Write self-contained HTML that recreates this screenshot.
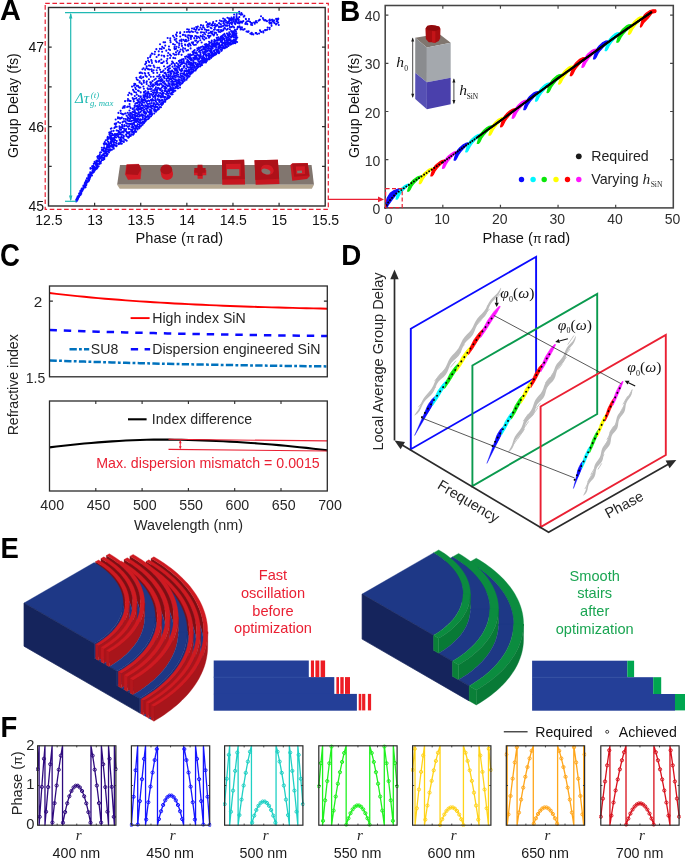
<!DOCTYPE html>
<html lang="en">
<head>
<meta charset="utf-8">
<title>Figure: dispersion-engineered metalens design</title>
<style>
html,body{margin:0;padding:0;background:#fff;}
body{width:685px;height:859px;overflow:hidden;}
svg{display:block;font-family:"Liberation Sans", Arial, sans-serif;}
</style>
</head>
<body>
<svg width="685" height="859" viewBox="0 0 685 859">
<rect width="685" height="859" fill="#fff"/>
<g id="panel-a">
<path d="M77.35,199.98h0M79.12,193.6h0M81.84,188.67h0M85.32,182.18h0M88.46,174.99h0M90.47,168.07h0M93.77,163.85h0M97.37,156.82h0M100.13,152.47h0M104.2,144.8h0M105.75,140.28h0M107.81,136.8h0M109.43,132.55h0M111.49,128.28h0M115.66,119.57h0M118.44,112.91h0M122.8,107.95h0M125.06,101.13h0M128.18,95.12h0M132.03,86.6h0M134.31,83.84h0M136.37,77.71h0M139.71,72.9h0M142.45,69.3h0M145.19,64.33h0M146.04,61.73h0M147.94,58.12h0M150.64,55.42h0M151.83,53.49h0M156.36,49.14h0M160.03,44.28h0M163.53,42.32h0M167.64,37.97h0M170.26,38.22h0M173.04,35.87h0M176.06,34.64h0M176.95,32.58h0M180.19,32.3h0M184.43,32.01h0M187.15,29.19h0M188.91,29.67h0M192,28.54h0M194.19,28.33h0M196.15,27.06h0M197.86,26.6h0M200.98,25.16h0M203.18,25.49h0M206.18,21.96h0M207.85,23.46h0M209.86,23.39h0M213.23,22.12h0M216.35,20.99h0M219.79,20.55h0M223.14,18.45h0M224.86,19.27h0M227.44,17.74h0M230.54,18.7h0M234.16,14.54h0M236.74,13.96h0M239.28,13.72h0M76.85,200.56h0M80.29,191.06h0M85.91,181.2h0M88.39,176.23h0M90.51,168.64h0M94.6,161.91h0M99.81,154.28h0M103.79,143.64h0M107.4,139.67h0M109.23,132.54h0M109.96,132.31h0M114.76,123.92h0M117.97,117.37h0M120.6,110.85h0M123.53,106.62h0M127.57,100.76h0M129.32,92.91h0M134.04,85.67h0M135.28,84.13h0M136.82,79.54h0M139.72,77.38h0M140.78,72.61h0M143.48,68.24h0M146.18,63.07h0M148.13,60.62h0M150.12,57.08h0M152.38,53.74h0M154.99,51.82h0M159.87,48.86h0M162.23,46.9h0M165.11,42.24h0M170.29,40.31h0M174.26,37.45h0M176.75,36.01h0M180.08,33.24h0M183.55,34.79h0M186.95,32.01h0M188.67,31.76h0M191.52,31.37h0M194.17,29.32h0M196.8,28.25h0M200.42,27.49h0M203.1,27.14h0M206.98,24.99h0M209.01,24.55h0M211.24,25.23h0M212.99,23.12h0M215.01,23.97h0M219.03,23.15h0M221.26,21.22h0M224.03,21.03h0M225.93,20.68h0M229.07,18.35h0M231.42,17.6h0M233.94,17.17h0M236.53,16.02h0M239.43,13.56h0M79.21,196.71h0M81.51,190.22h0M86.03,181.04h0M89.52,173.98h0M92.47,168.22h0M95,163.45h0M98.07,156.07h0M101.83,149.93h0M103.98,143.89h0M104.75,142.13h0M107.4,137.97h0M109.44,134.16h0M110.83,128.74h0M114.76,123.86h0M117.95,118.35h0M120.94,113.3h0M124.86,106.01h0M127.95,99.03h0M131.28,93.84h0M133.02,89.7h0M135.26,87.78h0M137.85,80.05h0M140.78,76.22h0M142.28,73.32h0M145.2,69.63h0M146.74,66.2h0M149.12,62.11h0M151.24,60.04h0M154.63,54.32h0M158.74,51.35h0M161.71,49h0M165.23,45.6h0M170.57,42.14h0M174.79,39.73h0M176.34,38.69h0M180.22,36.43h0M182.86,34.92h0M185.46,35.34h0M188.18,35.3h0M189.81,32.3h0M192.99,32.01h0M196.01,29.84h0M198.59,29.68h0M201.64,29.27h0M203.84,27.56h0M207.32,26.96h0M208.66,26.45h0M211.86,24.45h0M214.44,25.24h0M217.11,24.87h0M219.45,23.5h0M221.85,21.15h0M223.92,21.59h0M227.58,22.17h0M230.05,19.87h0M230.21,19.83h0M233.9,18.31h0M236.57,17.05h0M239.33,17.09h0M76.69,199.13h0M80.62,190.96h0M84.86,183.02h0M86.92,178.21h0M90.61,172.69h0M93.44,165.89h0M97.62,157.76h0M101.8,147.73h0M104.85,144.22h0M107.46,138.08h0M109.72,135.06h0M111.47,131.28h0M115.86,124.3h0M119.64,117.8h0M124.65,107.6h0M128.81,100.47h0M131.61,94.48h0M133.52,90.49h0M136.54,85.84h0M139.67,81.21h0M141.39,78.26h0M144.71,73.04h0M146.54,67.96h0M149.03,65.58h0M151.67,60.99h0M156.6,56.93h0M158.87,54.77h0M162.12,51.82h0M163.98,48.13h0M168.95,46.53h0M173.07,44.1h0M174.88,44.72h0M176.3,41.31h0M179.78,40.63h0M181.5,39.55h0M185.53,36.12h0M187.46,37.04h0M189.43,35.57h0M191,35.85h0M195.38,31.44h0M197.09,32.79h0M199.13,29.61h0M202.04,29.23h0M204.86,29.41h0M208.09,30.32h0M210.73,27.76h0M212.61,25.59h0M215.48,26.43h0M217.57,25.5h0M220.91,24.26h0M223.7,23.08h0M226.07,22.48h0M229.2,21.28h0M231.32,20.84h0M233.39,19.88h0M236.73,18.15h0M238.13,18.56h0M76.86,198.35h0M80.43,195.03h0M83.32,186.12h0M86.1,180.23h0M90.21,172.21h0M92.83,167.09h0M98.12,158.62h0M101.1,152.21h0M103.9,147.64h0M108.5,137.94h0M111.03,133.55h0M114.33,128.03h0M116.18,123.18h0M119.69,118.36h0M122.34,114.13h0M127.87,106.63h0M129.65,100.9h0M134.3,91.92h0M136.01,89.18h0M137.92,85.83h0M139.54,82.51h0M143.17,77.13h0M145.18,73.83h0M148.07,69.13h0M150.47,65.87h0M152,62.93h0M155.68,60.91h0M158.58,55.26h0M161.68,55.48h0M166.28,50.67h0M168.82,49.18h0M174.47,46.98h0M177.12,42.48h0M179.11,43.22h0M181.59,41.11h0M183.6,39.83h0M185.93,39.85h0M188.49,38.33h0M190.86,37.4h0M192.12,36.15h0M195.21,35.96h0M197.6,32.69h0M200.9,32.38h0M203.95,32.63h0M206.44,30.03h0M208.64,30.26h0M211.47,28.19h0M214.71,27.69h0M216.63,25.81h0M220.17,26.46h0M223.4,23.19h0M224.75,24.61h0M227.45,23.28h0M229.65,23.47h0M232.64,22.71h0M236.34,20.61h0M238.76,19.77h0M76.66,200.88h0M80.5,192.32h0M83.49,185.53h0M86.91,181.42h0M90.46,173.01h0M93,166.02h0M96.64,162.45h0M99.72,155.62h0M104.26,147.31h0M105.68,143.59h0M108.92,138.13h0M111.49,133.55h0M115.54,126.2h0M120.13,118.72h0M123.34,114.33h0M127.11,107.03h0M130.63,100.93h0M132.67,98h0M136.02,92.49h0M138.64,86.91h0M141.23,83.26h0M143.59,80.85h0M145.55,75.84h0M148.49,73.12h0M149.58,69.5h0M153.67,65.63h0M156.34,61.93h0M159.35,60.92h0M164.02,55.72h0M168.21,53h0M170.04,49.94h0M174.48,48.63h0M176.5,46.73h0M179.2,45.01h0M181.62,43.65h0M184.85,41.22h0M186.56,41.24h0M188.5,40.37h0M190.92,39h0M194.26,38.37h0M196.43,36.4h0M198.4,36.85h0M201.94,32.25h0M204.1,32.8h0M206.26,32.07h0M210.81,31.96h0M213.99,29.78h0M217.11,29.96h0M218.98,27.15h0M221.73,26.39h0M223.36,25.86h0M225.68,25.69h0M228.49,22.33h0M230.95,22.75h0M233.25,21.49h0M236.12,20.48h0M240.86,21.61h0M77.3,198.03h0M81.42,189.42h0M85.59,182.05h0M90.57,174.47h0M92.11,166.21h0M96.37,160.68h0M99.38,156.7h0M102.69,149.8h0M107.93,141.47h0M110.08,136.81h0M112.37,133.95h0M114.87,127.52h0M118.23,122.16h0M121.89,117.61h0M125.17,113.53h0M129.56,103.93h0M133.28,99.33h0M134.8,96.05h0M138.02,90.58h0M139.5,87.64h0M141.78,84.17h0M143.94,80.8h0M146.78,76.73h0M148.31,73.05h0M151.57,69.41h0M154.42,67.29h0M158.75,61.67h0M161.36,59.53h0M164.22,56.59h0M167.68,55.7h0M169.88,54.62h0M174.87,49.24h0M176.05,48.71h0M178.79,47.33h0M182.01,45.89h0M185.03,44.5h0M186.73,41.24h0M189.17,43.45h0M191.8,42.6h0M194.15,38.09h0M196.85,38.19h0M200.69,35.9h0M202.97,35.05h0M205.25,34.21h0M208.56,33.23h0M210.77,31.88h0M212.53,31.49h0M214.87,29.36h0M218.73,29.74h0M220.91,26.91h0M224.53,27.9h0M227.19,25.85h0M229.21,25.3h0M232.43,22.74h0M235.03,22.11h0M237.74,22.8h0M239.19,22.14h0M76.7,200.8h0M79.64,195.17h0M83.97,185.3h0M85.82,181.84h0M89.95,174.5h0M94.11,168.14h0M96.89,160.88h0M99.62,158.06h0M104.74,148.02h0M106.48,143.63h0M108.12,141.69h0M110.71,136.8h0M113.58,130.84h0M116.7,126.7h0M121.3,118.11h0M125.6,113.45h0M129.75,106.34h0M134.62,98.73h0M136.79,94.59h0M138.84,91.04h0M140.42,87.47h0M143.87,82.64h0M146.87,81.19h0M149.29,75.01h0M151.89,71.26h0M153.61,70.3h0M157.39,67.82h0M161.17,63.06h0M163.68,61.63h0M167.39,58.84h0M170.93,55.73h0M173.36,53.77h0M175.97,52.2h0M177.55,50.79h0M180.61,49.47h0M183.03,48.03h0M185.29,45.3h0M187.83,44.92h0M190.05,44.18h0M193.11,42.18h0M196.09,40.65h0M199.68,38h0M202.34,36.68h0M204.35,36.69h0M207.72,35.76h0M210.17,32.68h0M212.02,33.43h0M214.66,32.61h0M218.63,31.8h0M221.03,30.12h0M225.17,28.43h0M226.91,25.34h0M229.74,27.01h0M231.82,24.23h0M234.91,23.18h0M237.35,23.04h0M239.5,23.45h0M78.74,195.86h0M81.87,189.8h0M84.77,183.87h0M88.55,177.62h0M93.13,168.78h0M95.77,162.99h0M99.28,159.38h0M103.02,149.6h0M107.44,145.61h0M108.79,138.66h0M111.54,135.85h0M116.66,130.45h0M120.08,123.03h0M123.71,118.72h0M127.72,112.76h0M130.51,107.9h0M133.85,101.39h0M136.44,98h0M140.71,92.41h0M143.36,86.57h0M146.45,82.29h0M148.93,79.3h0M150.8,76.69h0M153.46,72.89h0M156.65,70.23h0M159.18,67.75h0M162.27,63.01h0M166.7,60.88h0M170.09,57.96h0M174.73,54.79h0M176.27,54.6h0M178.86,52.98h0M179.84,51.58h0M182.77,50.01h0M185.08,48.63h0M188.41,46.15h0M190.61,45.45h0M192.96,43.86h0M195.16,40.81h0M198.25,41.45h0M200.31,40.24h0M202.76,38.45h0M205.73,38.28h0M208.58,35.72h0M210.47,35.68h0M213.75,35.48h0M216.03,32.9h0M219.49,31.66h0M221.73,31.3h0M223.65,29.07h0M227.74,28.83h0M230.13,27.11h0M232.76,26.28h0M235.22,24.13h0M239.15,23.43h0M77.66,196.44h0M81.98,191.25h0M85.38,182.95h0M88.96,178.19h0M92.57,168.64h0M97.21,160.7h0M100.27,156.96h0M103.33,150.68h0M107.14,145.73h0M108.79,143.68h0M110.94,138.2h0M113.18,135.07h0M119.43,126.42h0M123.48,121.46h0M126.59,115.74h0M129.45,110.57h0M135.34,103.8h0M137.23,99.96h0M138.68,95.9h0M140.73,92.33h0M143.9,88.7h0M146.71,84h0M150.19,82.37h0M153.55,76.75h0M157.21,72.86h0M160.09,69.78h0M164.06,66.25h0M167.22,63.15h0M172.14,61.64h0M173.34,57.89h0M175.23,58.26h0M178.63,54.16h0M181.58,54.87h0M183.36,51.67h0M186.43,50.58h0M188,50.13h0M190.6,48.4h0M194.1,44.97h0M195.87,44.81h0M197.25,42.77h0M201.64,42.49h0M204.17,39.72h0M206.36,38.2h0M208.97,37.66h0M209.81,36.62h0M212.51,34.19h0M214.16,34.48h0M217.19,34.87h0M220.13,32.03h0M222.16,30.74h0M223.28,30.34h0M226.7,29.75h0M229.91,29.29h0M231.75,27.12h0M234.11,27.41h0M237.84,26.84h0M239.44,26.19h0M76.12,199.97h0M79.14,195.4h0M82.69,188.73h0M85.01,185.04h0M88.18,179.29h0M90.91,173.77h0M92.55,170.69h0M94.9,167.13h0M96.88,161.52h0M101.8,155.63h0M104.66,151.84h0M104.74,148.39h0M107.11,144.83h0M109.41,143.78h0M110.93,139.52h0M111.97,138.11h0M114.84,133.98h0M116.8,130.47h0M119.54,128.02h0M122.01,124.75h0M122.5,122.36h0M124.34,121.26h0M125.67,119h0M127.85,117.39h0M128.63,114.63h0M130.17,112.92h0M132.64,109.01h0M132.74,108.59h0M134.57,105.88h0M134.9,105.68h0M136.2,103.09h0M137.84,102.21h0M138.85,101.06h0M139.08,99.05h0M140.46,97.15h0M140.84,96.3h0M143.46,95.24h0M143.93,92.71h0M144.08,91.92h0M145.5,90.98h0M147.78,88.46h0M147.52,88.32h0M148.52,85.71h0M150.77,84.19h0M151.11,82.85h0M152.51,81.14h0M154.35,79.7h0M155.73,78.71h0M157.12,76.57h0M158.7,76.23h0M159.58,74.86h0M160.92,72.16h0M162.59,71.77h0M163.56,70.45h0M165.34,68.69h0M167.34,67.19h0M168.49,66.46h0M169.93,65.59h0M171.61,64.02h0M173.14,62.64h0M76.78,199.19h0M80.26,192.89h0M82.17,189.06h0M86.03,184.41h0M88.11,177.96h0M91.18,173.04h0M94.65,167.45h0M96.76,164.52h0M99.32,160.69h0M101.67,156.52h0M103.47,151.46h0M105.77,148.96h0M106.85,148.02h0M108.1,145.2h0M110.02,142.95h0M111.95,140.18h0M114.23,137.65h0M115.94,134.08h0M118.18,130.7h0M121.06,127.23h0M122.4,126.07h0M125.39,121.4h0M127.46,119.35h0M130.07,116.58h0M130.15,115.04h0M131.52,113.19h0M132.64,111.68h0M134.27,110.26h0M134.48,107.72h0M136.41,106.33h0M137.46,105.43h0M137.59,102.99h0M139.68,102.24h0M141.12,100.01h0M141.72,98.56h0M143.55,96.96h0M143.61,95.91h0M145.17,94.74h0M145.76,93.42h0M147.46,92.2h0M148.03,89.57h0M149.89,89.05h0M150.31,86.63h0M152.1,85.85h0M152.98,84.33h0M155.21,82.97h0M156.57,81.92h0M157.66,81.38h0M159.17,78.44h0M160.47,77.33h0M160.86,77.05h0M162.97,75.33h0M164.46,73.1h0M165.46,72.87h0M167.85,70.17h0M168.87,68.83h0M169.94,68.34h0M172.5,66.66h0M174.83,65.29h0M174.67,63.96h0M176.65,63.07h0M178.86,60.96h0M180.09,60.39h0M181.72,59.61h0M183.29,58.96h0M185.09,56.82h0M186.75,56.18h0M188.34,54.64h0M190.14,54.22h0M192.67,51.92h0M193.98,50.9h0M194.69,49.97h0M197.31,48.37h0M198.95,47.66h0M201.02,46.95h0M202.51,46.61h0M204.78,44.51h0M206.1,44.03h0M209.04,41.74h0M209.43,41.93h0M211.87,41.02h0M214.4,39.89h0M216.71,37.87h0M218.32,37.29h0M220.77,36.69h0M221.78,36.29h0M223.1,35.08h0M224.41,33.91h0M226.96,33.61h0M227.05,33.49h0M229.22,32.3h0M231.11,31.12h0M232.95,31.4h0M234.58,30.79h0M237,29.32h0M76.73,201.09h0M78.57,196.91h0M81.28,191.27h0M84.21,186.26h0M86.93,181.4h0M89.77,176.67h0M92.05,172.32h0M93.63,168.6h0M96.53,164.62h0M99.26,159.39h0M103.12,155.51h0M105.37,150.57h0M107.48,147.07h0M108.77,143.08h0M110.68,141.59h0M112.51,140.03h0M114.84,136.32h0M116.19,134.99h0M118.75,132.27h0M120,129.68h0M122.44,127.62h0M124.43,124.93h0M126.15,123.02h0M127.44,120.43h0M129.01,118.59h0M130.71,116.38h0M132.06,114.29h0M132.19,114.45h0M133.89,112.24h0M134.76,110.3h0M136.56,109.34h0M137.53,107.01h0M138.14,106.62h0M139.2,104.45h0M139.95,102.98h0M141.2,101.78h0M142.73,100.15h0M144.12,99.41h0M144.73,96.94h0M145.75,95.99h0M147.42,94.36h0M148.54,93.46h0M148.39,92.17h0M151.09,89.07h0M151.52,88.79h0M152.88,86.76h0M154.06,85.21h0M155.79,84.33h0M157.16,83.47h0M158.75,80.75h0M160.06,80.63h0M160.83,79.9h0M161.73,79.08h0M163.31,76.73h0M164.55,76.32h0M166.19,74.39h0M168.03,72.43h0M169.38,71.37h0M170.12,71.23h0M172.07,70.58h0M174.07,68.43h0M174.91,65.89h0M177.03,66.38h0M178.17,64.2h0M179.68,62.6h0M181.53,62.37h0M181.53,60.93h0M183.69,59.98h0M185.55,58.48h0M187.63,57.54h0M188.69,56.68h0M189.9,55.63h0M191.94,55.04h0M193.29,53.56h0M193.97,52.5h0M196.12,52.19h0M197.36,50.23h0M199.03,48.96h0M200.75,47.83h0M202.73,46.5h0M203.85,47.14h0M205.62,46.01h0M206.56,44.52h0M207.77,44.78h0M209.58,43.53h0M211.36,42.61h0M211.73,40.6h0M214.14,41.44h0M215.63,40.82h0M217.18,39.27h0M219.09,38.4h0M220.04,38.22h0M221.4,36.37h0M223.04,37.22h0M225.14,35.37h0M227.28,33.76h0M228.82,34.62h0M229.77,33.55h0M231.92,32.06h0M232.55,31.54h0M234.97,29.88h0M76.85,199.08h0M79.27,194.79h0M82.59,190.05h0M85.87,183.55h0M88.56,179.64h0M90.62,174.71h0M93.01,170.14h0M95.95,164.99h0M98.44,161.15h0M102.67,155.18h0M104.54,151.53h0M106.6,149.11h0M106.99,146.88h0M110.82,142.25h0M111.94,139.74h0M113.72,138.01h0M114.85,136.01h0M117.54,133.87h0M119.65,131.98h0M121.04,129.64h0M122.54,127.94h0M124.44,126.18h0M126.82,123.56h0M128.89,120.95h0M130.1,119.12h0M130.98,117.43h0M132.15,115.82h0M133.98,114.69h0M135.18,112.88h0M134.92,111.84h0M136.7,109.01h0M138.37,108.58h0M138.79,106.99h0M140.05,106.03h0M141.41,105.08h0M141.87,103.78h0M142.46,102.01h0M143.64,100.35h0M144.65,98.27h0M147.19,96.87h0M147.43,95.69h0M148.51,93.52h0M149.3,93.78h0M151.26,91.28h0M153.17,90.35h0M155.1,89.11h0M155.93,87.19h0M157.57,84.97h0M158.55,84.52h0M160.2,83.47h0M161.06,81.2h0M162.63,80.11h0M164.13,77.84h0M164.65,78.3h0M166.74,76.12h0M167.59,76.68h0M168.54,74.76h0M170.28,72.96h0M171.72,71.67h0M173.33,71.68h0M174.92,69.36h0M175.51,68.23h0M177.36,66.94h0M178.95,65.75h0M180.63,64.51h0M181.59,63.25h0M182.77,62.59h0M183.71,61.15h0M187.23,60h0M189.02,57.88h0M189.96,56.88h0M191.8,55.24h0M193.4,54.36h0M195.31,52.93h0M196.83,52.94h0M199.04,51.63h0M200.64,50.5h0M201.72,49.97h0M203.25,48.72h0M204.82,47.58h0M206.89,46.65h0M208.08,46.01h0M209.17,44.06h0M212.04,43.24h0M213.1,43.49h0M214.67,42.42h0M216.86,40.74h0M218.74,39.76h0M220.19,39.28h0M221.36,38.13h0M223.24,38.28h0M225.02,36.27h0M227.68,35.36h0M228.75,33.94h0M230.24,34.46h0M232.31,32.93h0M234.23,32.92h0M235.97,31.19h0M77.17,199.82h0M78.47,195.86h0M81.13,191.22h0M84.92,186.89h0M86.92,181.85h0M89.58,176.34h0M91.78,173.42h0M95.39,168.43h0M97.05,163.4h0M100.32,158.25h0M103.24,154.3h0M106.64,148.65h0M108.23,145.83h0M109.62,145.25h0M111.88,142.03h0M113.5,138.97h0M116.09,137.53h0M118.28,134.94h0M120.27,133.29h0M122.37,131.76h0M124.03,128.79h0M126.47,125.74h0M127.8,123.72h0M129.59,120.88h0M131.99,118.08h0M133.05,117.08h0M134.76,115.73h0M135.41,113.84h0M135.77,112.96h0M137.81,110.12h0M138.97,109.59h0M140.23,108.6h0M140.97,107.69h0M142.16,104.76h0M144.08,102.75h0M145.41,100.92h0M145.52,100.02h0M147.11,98.09h0M147.78,96.73h0M149.8,95.66h0M151.11,94.03h0M152.97,92.6h0M154.46,92.51h0M154.8,90.52h0M156.39,89.29h0M158.04,87.84h0M159.3,84.87h0M161.55,84.17h0M162.8,82.31h0M164.24,81.57h0M166.51,80.24h0M166.72,78.7h0M168.29,77.98h0M169.08,76.26h0M170.62,75.03h0M171.23,73.86h0M173.67,73.93h0M175.18,70.64h0M176.37,70.17h0M177.02,69h0M178.97,67.85h0M180.43,65.95h0M181.88,63.9h0M184.1,63.28h0M184.61,63.37h0M186.68,61.94h0M188.24,60.66h0M190.11,59.21h0M191.27,58.37h0M193.32,57.78h0M194.65,55.68h0M196.11,55.25h0M197.63,54.75h0M199.2,51.8h0M199.77,50.84h0M201.79,50.25h0M203.67,49.39h0M204.98,48.32h0M206.56,47.42h0M208.03,46.75h0M209.68,45.84h0M211.7,44.79h0M213.77,43.74h0M214.35,42.93h0M216.87,43.14h0M217.72,40.69h0M220.41,40.17h0M222.29,38.63h0M223.43,39.04h0M224.11,38.74h0M226.14,37.16h0M228.53,36.23h0M228.94,35.63h0M232.08,35.24h0M233.07,33.87h0M234.81,33.63h0M236.45,33.3h0M76.4,199.8h0M78.92,196.91h0M80.39,191.62h0M82.49,188.9h0M85.93,183.52h0M88.19,179.42h0M90.49,175.07h0M93.94,169.58h0M97.53,164.26h0M101.03,158.08h0M104.33,153.7h0M106.01,150.94h0M108.62,147.42h0M108.92,145.74h0M111.18,143.33h0M113.39,141.2h0M114.44,139.22h0M117.52,136.28h0M118.87,134.56h0M121.59,132.26h0M124.01,131.05h0M125.55,129.34h0M127.77,126.79h0M129.2,123.77h0M131,121.33h0M133.34,118.07h0M133.7,118.31h0M135.1,116.67h0M135.68,115.73h0M136.79,113.3h0M138.7,112.17h0M140.1,109.28h0M140.94,109.09h0M141.86,107.8h0M143.07,105.67h0M145.15,105.21h0M146.48,102.71h0M146.97,101.39h0M148.4,100.58h0M149.41,97.49h0M149.99,97.17h0M152.33,95.39h0M153.48,94.08h0M155.74,92.83h0M156.83,91.13h0M157.41,89.83h0M159.47,88.64h0M161.77,87.53h0M162.47,85.6h0M164.29,83.66h0M165.38,83.46h0M167.09,81.03h0M169.34,79.66h0M169.91,78.91h0M170.91,76.96h0M172.56,76.28h0M174.38,73.02h0M175.75,73.23h0M177,72.31h0M177.36,70.92h0M179.37,69.35h0M181.93,68.91h0M183.7,66.3h0M184.19,66.15h0M186.25,64.16h0M187.95,62.53h0M189.34,61.94h0M191.07,60.14h0M191.83,59.67h0M193.71,58.34h0M195.2,56.89h0M196.44,56.18h0M198.9,55.64h0M200.49,54.17h0M200.58,52.8h0M202.87,51.98h0M205.09,51.29h0M205.55,49.82h0M207.26,48.79h0M209.03,48.02h0M210.98,46.48h0M212.65,46.7h0M212.77,45.42h0M214.35,44.74h0M215.94,43.7h0M217.5,43.15h0M219.1,43.25h0M220.81,41.23h0M222.21,40.17h0M224.59,38.79h0M226.84,38.37h0M227.51,37.75h0M229.59,36.56h0M231.38,36.57h0M233.39,34.83h0M234.01,33.51h0M235.79,33.27h0M76.95,199.13h0M81.14,193.81h0M82.62,189.37h0M85,184.49h0M87.09,181.73h0M89.51,178.07h0M93.64,171.54h0M94.92,167.36h0M99.39,160.98h0M101.31,157.29h0M105.93,153.09h0M107.51,151.41h0M108.86,147.16h0M111.74,144.19h0M113.81,141.28h0M115.08,140.11h0M118.57,136.84h0M120.19,134.09h0M123.53,132.45h0M124.86,130.43h0M126.21,129.03h0M129.19,125.94h0M130.32,124.17h0M131.9,120.73h0M133.6,120.12h0M135.26,117.94h0M136.72,115.96h0M137.13,115.66h0M138.29,114h0M139.07,113.03h0M140,112.45h0M141.77,110.3h0M142.77,108.29h0M144.36,106.94h0M146.4,105.76h0M146.55,105.56h0M147.97,103.98h0M149.49,101.04h0M150.88,99.69h0M152.43,98.98h0M153.25,97.01h0M154.79,95.72h0M156.01,94.76h0M156.31,92.92h0M157.81,92.68h0M160.1,90h0M160.71,89.09h0M162.59,86.75h0M163.53,85.94h0M165.5,84.38h0M168.41,82.98h0M168.85,80.96h0M171.39,79.1h0M172.86,78.17h0M174.42,76.71h0M174.27,75.62h0M175.23,75.51h0M177.15,74.37h0M178.16,72.29h0M180.06,70.1h0M181.4,70.35h0M183.73,67.69h0M184.37,66.65h0M186.68,65.84h0M188.49,64.16h0M190.2,63.33h0M191.02,62.51h0M193.31,60.37h0M194.64,59.24h0M195.64,58.47h0M196.89,57.75h0M199.23,56.38h0M200.54,54.98h0M203.07,53.06h0M204.3,52.06h0M205.63,50.76h0M206.76,51.4h0M208.85,50.13h0M210.38,48.35h0M211.95,47.13h0M214.4,46.48h0M215.05,45.14h0M216.94,44.81h0M218.66,44.28h0M220.62,41.79h0M222.25,41.99h0M224.73,40.57h0M226.8,39.28h0M228.55,37.87h0M231.17,36.99h0M232.99,36.66h0M234.76,35.09h0M235.85,35.26h0M77.95,197.04h0M79.61,193.5h0M83.36,188.88h0M86.06,183.47h0M89.6,178.92h0M92,172.78h0M93.67,169.16h0M96.98,166.17h0M98.74,161.19h0M102.44,157.68h0M105.3,153.34h0M106.19,151.71h0M108.26,149.87h0M109.7,146.88h0M111.97,144.88h0M113.98,142.71h0M116.67,140.97h0M118.78,137.54h0M121.38,136.29h0M121.89,134.56h0M123.53,132.4h0M125.96,131.09h0M128.84,129.06h0M131.64,123.73h0M132.56,123.57h0M133.92,122.52h0M134.89,119.9h0M136.27,119.55h0M137.42,118.54h0M138.2,116.38h0M139.95,114.98h0M140.85,111.79h0M143.5,111.04h0M144.07,109.55h0M145.94,108.6h0M146.36,106.55h0M148.03,106.1h0M149.34,103.72h0M149.87,103.24h0M151.8,100.84h0M153.44,100.45h0M155.29,98.32h0M155.29,96.91h0M157.51,96.12h0M158.58,94.71h0M160.02,92.93h0M161.67,91.52h0M162.21,90.58h0M164.41,88.34h0M165.18,86.9h0M166.85,85.42h0M168.69,85.15h0M169.62,83.67h0M171.14,81.64h0M172.39,80.91h0M173.9,79.02h0M175.7,77.67h0M176.38,75.74h0M178.31,74.75h0M180.56,73.44h0M181.22,71.36h0M182.41,70.37h0M184.78,70.61h0M186.07,68.56h0M187.77,67.28h0M189.71,64.66h0M191.32,63.91h0M193.09,62.09h0M194.19,62.47h0M195,59.34h0M197.44,58.97h0M199.1,58.37h0M200.27,57.29h0M201.02,56.23h0M203.1,55.93h0M204.54,53.99h0M205.74,52.33h0M207.65,51.07h0M210.04,50.3h0M211.46,49.61h0M212.74,48.32h0M214.93,46.74h0M215.9,46.22h0M218.52,46.44h0M219.3,44.73h0M221.78,42.64h0M222.37,43h0M224.87,42.1h0M226.72,40.23h0M228.43,40.07h0M229.42,38.68h0M231.1,37.55h0M233.7,36.16h0M236.35,35.41h0M77.7,198.11h0M81.24,193.87h0M83.41,187.87h0M85.72,184.46h0M86.96,181.04h0M91.66,175.05h0M95.03,169.92h0M97.03,166.59h0M99.34,163.91h0M102.79,158.01h0M107.28,151.45h0M109.12,149.98h0M109.83,146.78h0M112.46,145.01h0M114.29,142.44h0M116.77,140.93h0M120.27,137.95h0M121.81,137.34h0M123.61,135.6h0M126.85,132.59h0M128.9,128.54h0M131.48,126.98h0M132.28,125.2h0M134.02,124.1h0M134.49,122.13h0M136.15,121.21h0M137.52,119.98h0M138.49,119.16h0M139.62,116.55h0M141.34,115.44h0M141.88,114.37h0M143.63,112.33h0M144.86,111.5h0M146.34,109.34h0M147.96,107.17h0M149.14,106.64h0M150.8,105.42h0M151.77,103.09h0M153.94,103.1h0M153.98,100.47h0M155.5,99.9h0M157.82,99.15h0M158.35,96.67h0M160,95.82h0M161.64,94.14h0M162.89,92.7h0M164.56,90.92h0M165.37,89.78h0M166.36,88.14h0M167.77,86.14h0M169.75,85.91h0M169.77,84.95h0M171.77,84.1h0M172.6,83.14h0M173.96,81.74h0M175.44,79.95h0M176.1,80h0M178.13,76.81h0M179.93,76.96h0M180.68,75.19h0M182.49,73.52h0M184.11,71.96h0M185.77,71h0M186.84,70.32h0M188.87,69.42h0M189.49,67.22h0M190.97,65.74h0M192.47,63.87h0M193.18,63.42h0M195.79,62.87h0M197.3,59.72h0M199.01,59.48h0M199.41,58.09h0M201.32,57.99h0M202.99,57.01h0M203.81,54.85h0M206.1,54.31h0M208.18,53.5h0M210.17,51.6h0M211.56,50.15h0M214.24,51.08h0M215.55,49.48h0M216.58,47.57h0M219.11,46.28h0M220.06,45.4h0M221.82,44.9h0M223.52,43.04h0M225.72,43.34h0M226.62,42.13h0M228.15,40.53h0M229.82,40.57h0M230.58,39.81h0M233.89,37.42h0M235.17,37.54h0M236.26,37.04h0M76.43,201.13h0M79.65,194.42h0M83.66,187.77h0M86.48,183.98h0M88.68,178.13h0M93.01,172.7h0M95.25,169.22h0M97.26,165.64h0M99.68,162.71h0M104.07,157.68h0M106.26,152.65h0M109.42,149.55h0M110.8,146.32h0M113.56,145.17h0M113.95,144.25h0M115.97,142.75h0M119.86,140.38h0M121.61,136.99h0M123.87,136.51h0M126.08,134.5h0M127.97,132.36h0M130.77,129.58h0M132.04,127.16h0M133.12,126.51h0M134.83,125.3h0M136.35,122.07h0M137.25,120.85h0M139.54,120.4h0M140.45,119.26h0M142.35,115.97h0M143.28,115.37h0M144.55,113.42h0M145.82,112.75h0M147.32,111.13h0M147.86,108.44h0M149.79,109.63h0M150.97,107.38h0M151.98,106.1h0M153.51,104.44h0M154.65,103.43h0M155.94,101.39h0M157.62,99.7h0M159.39,99.86h0M160.7,97.46h0M161.5,96.3h0M163.3,93.71h0M163.87,93.32h0M165.86,91.09h0M167.27,91.18h0M168.36,89.57h0M170.07,88.31h0M170.75,87.22h0M172.15,85.15h0M173.78,84.11h0M174.99,81.54h0M176.99,80.89h0M178.38,79.33h0M179.7,77.01h0M181.92,76.24h0M182.25,76.05h0M183.44,74.22h0M184.4,73.38h0M186.77,71.37h0M187.98,71.1h0M188.67,69.97h0M190.59,67.8h0M191.28,67.45h0M192.72,65.65h0M193.52,64.91h0M195.63,63.84h0M198.41,61.7h0M198.54,61.3h0M201.55,60.42h0M202.71,59.06h0M204.03,57.58h0M205.93,55.53h0M206.91,55.33h0M209.36,53.84h0M210.99,52.55h0M212.32,52.12h0M214.18,50.64h0M215.65,49.38h0M217.31,49.73h0M218.5,48.43h0M220.96,46.01h0M222.43,44.78h0M224.18,43.23h0M225.96,44.43h0M227.02,42.03h0M228.27,42.22h0M231.06,41.45h0M232.5,40.7h0M233.96,39.74h0M236.28,37.84h0M237.31,37.44h0M77.61,198.58h0M81.27,192.62h0M83.67,188.21h0M86.18,185.32h0M88.15,179.01h0M91.97,175.54h0M95.9,169.28h0M99.03,163.86h0M101.82,160.02h0M104.5,155.79h0M106.58,153.69h0M109.37,149.63h0M111.48,146.54h0M114.94,145.48h0M116.31,143.31h0M119.68,139.91h0M121.37,139.62h0M123.35,137.93h0M126.28,135.73h0M128.05,133.49h0M129.53,132.1h0M132.58,129.31h0M133.56,127.07h0M135.6,126.18h0M137.7,124.14h0M138.39,121.93h0M140.55,120.14h0M140.96,119.84h0M142.84,117.42h0M145.1,116.03h0M145.76,113.99h0M146.11,113.3h0M148.22,112.04h0M150,109.78h0M151.97,108.41h0M152.59,106.03h0M153.84,106.46h0M155.72,105.05h0M156.8,102.85h0M159.18,101.34h0M160.65,100.74h0M161.74,97.23h0M163.15,96.78h0M162.99,95.9h0M165.98,94.01h0M167.01,92.31h0M168.82,90.4h0M170.09,89.82h0M170.95,88.03h0M172.79,87.04h0M173.94,85.06h0M174.85,84.21h0M176.76,82.56h0M177.84,80.5h0M179.49,79.44h0M181.41,78.16h0M182.94,76.64h0M184.33,74.86h0M184.72,74.72h0M186.78,73.56h0M188.42,71.99h0M189.44,70.16h0M190.87,69.6h0M191.81,68.86h0M192.73,67.31h0M194.03,65.76h0M196.69,65.14h0M197.81,63.74h0M199.88,62.14h0M200.55,61.39h0M202.44,60.04h0M204.47,58.4h0M206.33,56.53h0M208.41,55.48h0M209.39,55.21h0M211.15,52.1h0M212.02,53.24h0M213.96,50.87h0M216.44,50.12h0M217.59,49.59h0M219.58,47.96h0M220.56,47.22h0M222.83,45.9h0M224.73,44.82h0M225.64,44.53h0M227.66,42.61h0M228.89,42.55h0M231.1,41.17h0M233.12,40.3h0M235.27,39.75h0M236.4,38.88h0M76.17,201.44h0M80.25,194.69h0M82.49,190.43h0M85.64,184.81h0M89.38,178.93h0M91.73,175.19h0M94.36,171.02h0M96.66,167.88h0M100.07,162.66h0M103,159.95h0M106.68,154.37h0M108.3,151.42h0M110.35,150.43h0M113.2,146.41h0M115.5,145.58h0M118.59,143.29h0M121.32,141.11h0M123.43,138.55h0M126.6,136.24h0M129.77,133.98h0M131.48,131.39h0M132.31,130.87h0M133.93,128.52h0M135.77,127.96h0M136.06,126.01h0M136.98,125.66h0M140.04,122.88h0M140.51,122.21h0M142.6,119.33h0M144.64,118.47h0M145.24,116.86h0M147.08,116.58h0M147.83,115.46h0M149.6,112.92h0M150.07,111.5h0M151.34,110.18h0M154.04,109.18h0M154.46,107.92h0M155.58,106.29h0M157.29,104.1h0M157.77,103.82h0M159.37,102.31h0M161.67,100.79h0M162.07,99.8h0M164.12,97.25h0M164.93,96.8h0M167.54,95.26h0M168.04,93.43h0M169.19,91.54h0M170.62,90.28h0M172.06,89.33h0M174.01,88.57h0M175.43,86.43h0M176.18,84.12h0M177.75,83.51h0M178.7,82.36h0M179.4,81.5h0M181.31,80.19h0M182.55,79.97h0M184.19,77.36h0M185.62,75.32h0M187.25,74.23h0M188.68,73.17h0M189.61,71.79h0M191.46,69.69h0M193.1,69.81h0M194.03,67.95h0M194.96,66.95h0M196.4,66.28h0M198.32,64.26h0M199.73,63.89h0M202.74,61.92h0M203.98,60.3h0M206,58.87h0M206.8,58.58h0M209.1,56.4h0M210.47,55.33h0M211.89,53.8h0M212.73,53.14h0M215.14,53.4h0M216.81,51.31h0M217.45,50.39h0M219.32,48.46h0M222.28,47.76h0M223.64,46.61h0M225.42,45.51h0M227.2,44.52h0M228.18,42.87h0M230.15,43.13h0M232.97,42.58h0M234.11,40.8h0M235.75,40.41h0M76.8,199.35h0M78.42,196.62h0M80.28,193.91h0M85.56,187.37h0M87.2,182.19h0M90.2,177h0M94.07,171.79h0M96.97,168.57h0M100.74,163.35h0M103.48,158.08h0M105.9,155.71h0M107.59,154.15h0M109.23,150.85h0M110.1,149.44h0M112.81,147.4h0M115.81,145.29h0M118.62,143.65h0M120.35,142.6h0M122.97,141.27h0M124.73,139.73h0M128.12,136.88h0M129.63,135.6h0M132.25,132.23h0M134.02,131.76h0M135.25,130.15h0M135.57,128.51h0M136.93,126.67h0M138.62,126.71h0M139.54,124.54h0M141.61,123.01h0M142.66,121.91h0M144.49,120.13h0M145.15,118.63h0M146.4,117.13h0M148.09,116.79h0M149.55,114.59h0M150.48,113.33h0M151.53,111.81h0M154.14,110.21h0M155.12,109.68h0M155.65,107.45h0M157.46,106.7h0M158.96,104.94h0M160.63,104.16h0M161.33,102.93h0M162.82,100.58h0M164.55,99.16h0M165.47,97.07h0M167.48,97.37h0M168.82,95.24h0M170.11,93.34h0M172.16,90.85h0M172.98,90.29h0M173.1,88.34h0M175.94,87.28h0M176.08,86.26h0M177.4,85.49h0M179.26,84.03h0M180.19,82.26h0M182.34,81.36h0M183.44,78.84h0M184.69,77.99h0M186.36,76.3h0M187.46,75.61h0M188.99,73.62h0M190.44,72.55h0M191.61,71.87h0M193.71,70.03h0M194.93,67.63h0M196.81,66.57h0M197.97,66.15h0M199.4,64.39h0M202.04,62.61h0M203.87,62.43h0M204.67,60.51h0M205.74,59.5h0M208.73,57.11h0M209.42,56.98h0M211.79,55.56h0M213.8,53.9h0M215.07,52.55h0M216.37,53.18h0M218.26,52.12h0M218.76,50.76h0M220.98,49.5h0M222.47,48.47h0M223.67,47.86h0M225.75,46.14h0M227.25,44.59h0M229.45,43.3h0M229.95,43.18h0M232.34,42.92h0M233.55,41.61h0M235.39,41.79h0M236.44,41.74h0M78.09,198.68h0M80.12,193.5h0M82.74,189.52h0M85.06,185.83h0M89.05,180.56h0M90.58,175.89h0M94.14,171.04h0M98.63,166.28h0M100.96,161.59h0M104.34,157.81h0M106.07,156.1h0M107.21,153.92h0M109.14,150.92h0M111.92,149.69h0M113.72,148.16h0M116.69,145.68h0M118.36,144.03h0M121.87,143.59h0M123.84,141.84h0M125.87,139.99h0M128.94,137.28h0M131.71,134.42h0M132.76,132.3h0M134.16,131.8h0M135.29,130.23h0M137.28,128.59h0M139.03,127.37h0M139.51,126.05h0M141.36,125.56h0M142.6,124.11h0M143.52,122.11h0M144.89,121.5h0M145.6,119.91h0M147.01,119.46h0M148.11,116.74h0M150.13,116.42h0M151.08,113.89h0M151.95,113.39h0M154.5,111.13h0M157,110.1h0M157.8,107.7h0M159.84,107.28h0M161.75,105.12h0M162.47,102.96h0M163.68,101.91h0M165.09,100.49h0M166.46,99.17h0M167.91,97.76h0M168.73,97.41h0M171.36,93.4h0M171.89,92.74h0M173.7,90.57h0M175.33,90.75h0M175.3,88h0M176.81,86.99h0M178.25,86.02h0M180.14,85h0M181.94,83.32h0M183.28,81.61h0M184.67,79.96h0M187.05,78.29h0M188.24,76.25h0M188.74,76.12h0M190.22,74.3h0M192.13,72.59h0M193.18,71.17h0M194.25,70.75h0M195.75,69.79h0M196.96,68.33h0M198.57,66.87h0M200.36,66.36h0M201.49,63.72h0M203.17,62.78h0M205.09,60.96h0M206.2,60.54h0M208.75,58.9h0M209.89,57.51h0M211.64,56.17h0M212.87,56.29h0M213.47,54.9h0M214.76,53.73h0M216.92,52.84h0M217.9,51.55h0M219.64,51.95h0M220.88,49.77h0M222.38,48.61h0M224.74,48.21h0M226.3,47.24h0M228.48,46.05h0M230.31,44.63h0M231.36,44.14h0M233.13,43.57h0M234.38,43.02h0M237.11,41.99h0M77.24,200.26h0M80.39,194.34h0M82.2,190.49h0M85.53,185.44h0M88.39,181.53h0M90.06,177.58h0M93.89,171.91h0M97.57,167.43h0M100.44,162.78h0M104.32,159.09h0M106.93,155.65h0M108.97,152.36h0M110.41,149.36h0M113.74,148.74h0M116.43,146.2h0M118.99,144.1h0M120.86,143.67h0M123.86,141.96h0M126.7,140.75h0M128.28,137.65h0M130.67,136.04h0M133.09,134.64h0M133.9,133.71h0M134.94,132.02h0M136.2,131.76h0M137.56,129.38h0M139.35,128.15h0M140.75,126.38h0M142.57,124.77h0M144.02,123.11h0M145.19,121.62h0M145.83,120.87h0M148.23,118.97h0M149.33,117.84h0M151.04,116.22h0M152.16,114.81h0M154.19,113.53h0M155.87,111.77h0M156.48,110.65h0M157.67,109.75h0M158.84,109.08h0M159.93,106.96h0M160.97,107.2h0M161.87,104.96h0M163.08,103.74h0M165.25,101.72h0M166.05,99.58h0M167.47,98.76h0M168.89,98.02h0M170.06,96.81h0M171.28,94.46h0M172.59,94.21h0M173.47,91.89h0M175.03,90.75h0M177.43,88.19h0M178.09,88.3h0M180,87.58h0M181.29,83.81h0M182.29,83.14h0M183.11,81.98h0M184.61,80.64h0M186.52,79.7h0M187.62,77.71h0M189.17,76.6h0M189.66,75.96h0M191.43,73.42h0M192.85,72.37h0M195.54,70.56h0M196.06,69.35h0M198.05,67.31h0M200.4,65.65h0M201.39,64.93h0M202.13,65.05h0M204.77,62.28h0M205.93,62.45h0M206.79,61.08h0M208.02,59.55h0M209.53,59.27h0M211.18,57.84h0M212,56.76h0M213.76,55.42h0M214.91,54.93h0M216.19,54.13h0M217.4,52.56h0M218.94,53.23h0M221.51,50.85h0M221.97,49.99h0M223.96,48.11h0M225.48,47.44h0M227,47.09h0M228.22,45.17h0M230.06,44.4h0M232.87,43.3h0M234.61,42.99h0M235.31,43.29h0M239.17,11.74h0M241.38,12.99h0M240.83,14.7h0M242.3,14.42h0M243.72,16.76h0M244.16,16.18h0M244.36,15.91h0M245.83,18.74h0M245.95,19.24h0M248.97,19.09h0M247.15,21.34h0M248.66,20.98h0M250.05,21.84h0M251.09,22.94h0M252.01,23.17h0M251.11,24.76h0M252.19,25.06h0M254.05,22.48h0M254.8,23.8h0M255.06,22.55h0M256.05,21.12h0M256.95,22.45h0M258.48,20.81h0M258.92,20.35h0M259.95,19.81h0M259.73,19.83h0M261.03,16.32h0M262.86,17.95h0M263.42,19.34h0M264.19,20.33h0M265.36,20.13h0M266.01,20.6h0M266.98,21.13h0M269.23,22.2h0M269.76,20.5h0M271.09,22.68h0M272.64,20.3h0M272.57,21.49h0M274.14,20.46h0M274.37,22.89h0M276.11,18.9h0M276.6,21.29h0M277.05,20.43h0M278.21,18.49h0M237.64,27.82h0M239.44,26.93h0M240.24,27.4h0M240.62,28.53h0M240.67,29.38h0M241.96,27.39h0M242.57,29.53h0M243.58,29.82h0M244.66,29h0M246.5,31.5h0M247.17,31.62h0M248.08,32.02h0M248.59,31.2h0M250.32,33.54h0M251.53,34.26h0M251.8,32.92h0M253.32,34.39h0M255.66,33.15h0M256.16,33.11h0M256.25,32.96h0M257.23,34.07h0M259.1,33.5h0M259.99,30.22h0M261.23,31.91h0M260.55,31.52h0M263.36,32.46h0M263.29,31.29h0M265.01,30.08h0M265.69,30.16h0M267.16,29.77h0M267.64,27.61h0M269.56,29.29h0M269.69,27.74h0M271.53,25.85h0M228.16,22.84h0M229.16,20.12h0M231.22,20.61h0M231.37,20.13h0M232.47,18.88h0M232.82,19.03h0M235.09,20.07h0M236.34,18.67h0M236.54,21.82h0M237.55,19.26h0M238.7,20.76h0M240.2,22.36h0M242.03,22.79h0M242.76,21.52h0M243.31,21.15h0M245.36,23.88h0M245.85,22.54h0M247.28,24.14h0M277.16,21.22h0M277.63,18.75h0M270.01,20.27h0M278.32,18.77h0M269.65,23.53h0M269.85,22.84h0M269.76,19.45h0M276,24.5h0M273.26,21.08h0M269.2,20.21h0M271.47,23.82h0M276.54,23.78h0M274.58,23.1h0M270.23,20.56h0M272.01,19.74h0M276.81,19.19h0M272.36,19.74h0M278.15,22.61h0M274.03,20.52h0M278.77,25.03h0M273.7,22.03h0M278.13,19.53h0" stroke="#0a0aff" stroke-width="2.1" stroke-linecap="round" fill="none"/>
<polygon points="120.03,164.96 311.57,164.96 313.98,184.71 117.14,184.71" fill="#81766f"/>
<polygon points="117.14,184.71 313.98,184.71 311.89,188.72 119.71,188.72" fill="#b5a790"/>
<polygon points="125.33,174.27 126.77,164.64 138.82,164.31 141.23,169.13 140.26,179.09 128.06,179.57" fill="#d21a24" stroke="#d21a24" stroke-width="0.5" stroke-linejoin="round"/>
<polygon points="126.77,164.64 138.82,164.31 141.07,169.13 137.69,174.91 125.81,174.27" fill="#ae1119"/>
<ellipse cx="167.08" cy="174.59" rx="5.9" ry="5.3" fill="#d21a24"/>
<polygon points="160.5,169.77 172.22,169.45 173.02,174.59 161.14,174.91" fill="#d21a24"/>
<ellipse cx="166.28" cy="169.45" rx="5.9" ry="4.9" fill="#ae1119"/>
<polygon points="197.59,166.56 202.73,166.56 202.73,170.1 206.27,170.1 206.27,175.23 202.73,175.23 202.73,178.77 197.59,178.77 197.59,175.23 194.06,175.23 194.06,170.1 197.59,170.1" fill="#d21a24"/>
<polygon points="197.59,164.8 202.41,164.8 202.41,168.01 205.62,168.01 205.62,172.83 202.41,172.83 202.41,176.04 197.59,176.04 197.59,172.83 194.38,172.83 194.38,168.01 197.59,168.01" fill="#ae1119"/>
<polygon points="221.96,160.14 244.12,159.82 245.08,184.39 222.28,184.71" fill="#c6161f"/>
<polygon points="221.96,160.14 244.12,159.82 244.76,179.09 222.28,179.41" fill="#ae1119"/>
<polygon points="226.13,163.99 240.59,163.83 240.59,176.2 226.13,176.2" fill="#d21a24"/>
<polygon points="226.93,169.13 239.3,169.13 239.3,175.88 226.93,175.88" fill="#81766f"/>
<polygon points="254.56,160.14 277.84,159.82 279.45,183.91 255.68,184.71" fill="#c6161f"/>
<polygon points="254.56,160.14 277.84,159.82 279.13,178.77 255.36,180.05" fill="#ae1119"/>
<ellipse cx="267.4" cy="169.77" rx="6.5" ry="4.9" fill="#d21a24" transform="rotate(18 267.4 169.77)"/>
<ellipse cx="265.96" cy="171.54" rx="4.6" ry="2.7" fill="#81766f" transform="rotate(18 265.96 171.54)"/>
<polygon points="290.37,164.96 292.3,163.35 307.71,163.03 309.8,175.88 307.07,179.09 292.3,180.69" fill="#c6161f"/>
<polygon points="292.3,163.67 307.71,163.19 309,175.56 294.22,176.84" fill="#ae1119"/>
<polygon points="295.83,166.56 304.82,166.24 305.14,173.95 296.15,174.27" fill="#d21a24"/>
<polygon points="297.11,170.74 301.93,170.58 302.09,172.99 297.27,173.15" fill="#81766f"/>
<line x1="65" y1="12.6" x2="239.5" y2="12.6" stroke="#1fb9b3" stroke-width="1.2"/>
<line x1="70.7" y1="14" x2="70.7" y2="200" stroke="#1fb9b3" stroke-width="1.2"/>
<polygon points="70.7,12.8 69,18.5 72.4,18.5" fill="#1fb9b3"/>
<polygon points="70.7,201.2 69,195.5 72.4,195.5" fill="#1fb9b3"/>
<line x1="65" y1="201.3" x2="76.5" y2="201.3" stroke="#1fb9b3" stroke-width="1.2"/>
<text x="75" y="102.6" font-size="15" fill="#1fb9b3" font-family='"Liberation Serif", "DejaVu Serif", serif' font-style="italic">Δτ<tspan font-size="8.8" dy="-4.6" dx="1.6">(t)</tspan><tspan font-size="8.8" dy="8.4" dx="-9.2">g, max</tspan></text>
<rect x="48.5" y="7.5" width="276.7" height="198.5" fill="none" stroke="#2c2c2c" stroke-width="1.4"/>
<path d="M94.62,206v-3.2M94.62,7.5v3.2M140.73,206v-3.2M140.73,7.5v3.2M186.85,206v-3.2M186.85,7.5v3.2M232.97,206v-3.2M232.97,7.5v3.2M279.08,206v-3.2M279.08,7.5v3.2M48.5,166.3h3.2M325.2,166.3h-3.2M48.5,126.6h3.2M325.2,126.6h-3.2M48.5,86.9h3.2M325.2,86.9h-3.2M48.5,47.2h3.2M325.2,47.2h-3.2" fill="none" stroke="#2c2c2c" stroke-width="1.2"/>
<text x="48.8" y="224.8" font-size="14" text-anchor="middle" fill="#111">12.5</text>
<text x="94.92" y="224.8" font-size="14" text-anchor="middle" fill="#111">13</text>
<text x="141.03" y="224.8" font-size="14" text-anchor="middle" fill="#111">13.5</text>
<text x="187.15" y="224.8" font-size="14" text-anchor="middle" fill="#111">14</text>
<text x="233.27" y="224.8" font-size="14" text-anchor="middle" fill="#111">14.5</text>
<text x="279.38" y="224.8" font-size="14" text-anchor="middle" fill="#111">15</text>
<text x="325.5" y="224.8" font-size="14" text-anchor="middle" fill="#111">15.5</text>
<text x="44" y="211.1" font-size="14" text-anchor="end" fill="#111">45</text>
<text x="44" y="131.7" font-size="14" text-anchor="end" fill="#111">46</text>
<text x="44" y="52.3" font-size="14" text-anchor="end" fill="#111">47</text>
<text x="18.3" y="105.6" font-size="14.3" text-anchor="middle" fill="#111" transform="rotate(-90 18.3 105.6)">Group Delay (fs)</text>
<text x="135.6" y="242.8" font-size="14.6" fill="#111">Phase (<tspan font-size="12.4">π</tspan><tspan dx="-1.3"> rad)</tspan></text>
<rect x="45.2" y="3.3" width="283.1" height="206.1" fill="none" stroke="#ea2033" stroke-width="1.2" stroke-dasharray="4.6 2.6"/>
<line x1="328.3" y1="199.4" x2="379.5" y2="199.4" stroke="#ea2033" stroke-width="1.2"/>
<polygon points="384,199.4 378,196.6 378,202.2" fill="#ea2033"/>
<text transform="translate(-0.1 20.4) scale(1.0 1.035)" font-size="28.9" font-weight="bold">A</text>
</g>
<g id="panel-b">
<polygon points="385.5,207.6 385.8,202.9 387.4,197.9 390.2,193.4 394.2,190.5 399.4,188.7 399.8,190.3 396.2,194.4 392.2,199.3 388.6,204.3 386.8,207.6" fill="#0a0aff" stroke="#0a0aff" stroke-width="1.3" stroke-linejoin="round"/>
<polygon points="396.07,199.08 396.77,196.3 398,192.72 399.68,190.02 401.26,188.4 404.34,185.91 406.54,184.71 408.56,184.11 409,184.28 408.56,184.92 406.1,187.21 403.9,189.42 401.7,191.83 399.76,194.58 398.18,197.79 397.12,199.05" fill="#00f6ff" stroke="#00f6ff" stroke-width="1.3" stroke-linejoin="round"/>
<polygon points="407.68,191.21 408.4,188.38 409.66,184.75 411.37,182 412.99,180.36 416.14,177.89 418.39,176.69 420.46,176.1 420.91,176.28 420.46,176.95 417.94,179.3 415.69,181.53 413.44,183.93 411.46,186.7 409.84,189.94 408.76,191.2" fill="#0ae60a" stroke="#0ae60a" stroke-width="1.3" stroke-linejoin="round"/>
<polygon points="419.29,183.56 420.03,180.67 421.32,176.96 423.06,174.11 424.72,172.43 427.94,169.89 430.24,168.67 432.36,168.09 432.82,168.29 432.36,168.98 429.78,171.39 427.48,173.66 425.18,176.12 423.16,178.95 421.5,182.27 420.4,183.56" fill="#ffff00" stroke="#ffff00" stroke-width="1.3" stroke-linejoin="round"/>
<polygon points="430.9,175.91 431.66,172.97 432.97,169.17 434.76,166.23 436.45,164.5 439.74,161.89 442.09,160.66 444.25,160.01 444.72,160.21 444.25,160.95 441.62,163.48 439.27,165.8 436.92,168.31 434.85,171.2 433.16,174.59 432.03,175.91" fill="#ff0000" stroke="#ff0000" stroke-width="1.3" stroke-linejoin="round"/>
<polygon points="442.52,168.27 443.28,165.23 444.63,161.29 446.45,158.17 448.18,156.29 451.54,153.46 453.94,152.08 456.15,151.4 456.63,151.62 456.15,152.38 453.46,155.03 451.06,157.53 448.66,160.21 446.55,163.27 444.82,166.82 443.67,168.22" fill="#ff14ff" stroke="#ff14ff" stroke-width="1.3" stroke-linejoin="round"/>
<polygon points="454.13,160.05 454.91,156.94 456.28,152.91 458.15,149.7 459.91,147.77 463.34,144.87 465.79,143.47 468.04,142.8 468.53,143.03 468.04,143.82 465.3,146.53 462.85,149.07 460.4,151.81 458.24,154.93 456.48,158.55 455.3,159.99" fill="#0a0aff" stroke="#0a0aff" stroke-width="1.3" stroke-linejoin="round"/>
<polygon points="465.74,151.82 466.54,148.65 467.94,144.54 469.84,141.23 471.64,139.25 475.14,136.27 477.64,134.86 479.94,134.19 480.44,134.44 479.94,135.25 477.14,138.02 474.64,140.62 472.14,143.42 469.94,146.6 468.14,150.29 466.94,151.76" fill="#00f6ff" stroke="#00f6ff" stroke-width="1.3" stroke-linejoin="round"/>
<polygon points="477.36,143.46 478.16,140.29 479.56,136.18 481.46,132.81 483.26,130.81 486.76,127.81 489.26,126.41 491.56,125.78 492.06,126.05 491.56,126.89 488.76,129.66 486.26,132.26 483.76,135.06 481.56,138.24 479.76,141.94 478.56,143.4" fill="#0ae60a" stroke="#0ae60a" stroke-width="1.3" stroke-linejoin="round"/>
<polygon points="488.98,135.1 489.78,131.93 491.18,127.82 493.08,124.39 494.88,122.36 498.38,119.35 500.88,117.96 503.18,117.33 503.68,117.62 503.18,118.48 500.38,121.3 497.88,123.9 495.38,126.7 493.18,129.88 491.38,133.58 490.18,135.04" fill="#ffff00" stroke="#ffff00" stroke-width="1.3" stroke-linejoin="round"/>
<polygon points="500.6,126.74 501.4,123.55 502.8,119.42 504.7,115.91 506.5,113.82 510,110.73 512.5,109.32 514.8,108.73 515.3,109.04 514.8,109.92 512,112.75 509.5,115.39 507,118.23 504.8,121.45 503,125.17 501.8,126.66" fill="#ff0000" stroke="#ff0000" stroke-width="1.3" stroke-linejoin="round"/>
<polygon points="512.22,118.19 513.02,115 514.42,110.87 516.32,107.3 518.12,105.18 521.62,102.07 524.12,100.67 526.42,100.13 526.92,100.46 526.42,101.36 523.62,104.19 521.12,106.83 518.62,109.68 516.42,112.89 514.62,116.62 513.42,118.1" fill="#ff14ff" stroke="#ff14ff" stroke-width="1.3" stroke-linejoin="round"/>
<polygon points="523.84,109.63 524.64,106.44 526.04,102.31 527.94,98.69 529.74,96.54 533.24,93.42 535.74,92.03 538.04,91.52 538.54,91.88 538.04,92.8 535.24,95.64 532.74,98.28 530.24,101.12 528.04,104.34 526.24,108.07 525.04,109.55" fill="#0a0aff" stroke="#0a0aff" stroke-width="1.3" stroke-linejoin="round"/>
<polygon points="535.46,101.08 536.26,97.89 537.66,93.76 539.56,90.07 541.36,87.9 544.86,84.76 547.36,83.39 549.66,82.92 550.16,83.31 549.66,84.24 546.86,87.09 544.36,89.73 541.86,92.57 539.66,95.79 537.86,99.51 536.66,101" fill="#00f6ff" stroke="#00f6ff" stroke-width="1.3" stroke-linejoin="round"/>
<polygon points="547.08,92.52 547.88,89.34 549.28,85.21 551.18,81.46 552.98,79.27 556.48,76.11 558.98,74.77 561.28,74.37 561.78,74.79 561.28,75.73 558.48,78.54 555.98,81.17 553.48,84.01 551.28,87.23 549.48,90.96 548.28,92.44" fill="#0ae60a" stroke="#0ae60a" stroke-width="1.3" stroke-linejoin="round"/>
<polygon points="558.7,83.98 559.5,80.81 560.9,76.7 562.8,72.93 564.6,70.74 568.1,67.62 570.6,66.32 572.9,65.97 573.4,66.41 572.9,67.37 570.1,70.18 567.6,72.78 565.1,75.58 562.9,78.76 561.1,82.46 559.9,83.92" fill="#ffff00" stroke="#ffff00" stroke-width="1.3" stroke-linejoin="round"/>
<polygon points="570.32,75.62 571.12,72.45 572.52,68.34 574.42,64.57 576.22,62.38 579.72,59.26 582.22,57.96 584.52,57.61 585.02,58.05 584.52,59.01 581.72,61.82 579.22,64.42 576.72,67.22 574.52,70.4 572.72,74.1 571.52,75.56" fill="#ff0000" stroke="#ff0000" stroke-width="1.3" stroke-linejoin="round"/>
<polygon points="581.94,67.26 582.74,64.09 584.14,59.98 586.04,56.21 587.84,54.02 591.34,50.9 593.84,49.6 596.14,49.25 596.64,49.69 596.14,50.65 593.34,53.46 590.84,56.06 588.34,58.86 586.14,62.04 584.34,65.74 583.14,67.2" fill="#ff14ff" stroke="#ff14ff" stroke-width="1.3" stroke-linejoin="round"/>
<polygon points="593.56,58.9 594.36,55.73 595.76,51.62 597.66,47.85 599.46,45.66 602.96,42.54 605.46,41.24 607.76,40.89 608.26,41.33 607.76,42.29 604.96,45.1 602.46,47.7 599.96,50.5 597.76,53.68 595.96,57.38 594.76,58.84" fill="#0a0aff" stroke="#0a0aff" stroke-width="1.3" stroke-linejoin="round"/>
<polygon points="605.18,50.54 605.98,47.37 607.38,43.26 609.28,39.49 611.08,37.3 614.58,34.18 617.08,32.93 619.38,32.64 619.88,33.1 619.38,34.04 616.58,36.77 614.08,39.34 611.58,42.14 609.38,45.32 607.58,49.02 606.38,50.48" fill="#00f6ff" stroke="#00f6ff" stroke-width="1.3" stroke-linejoin="round"/>
<polygon points="616.8,42.22 617.6,39.07 619,35.01 620.9,31.3 622.7,29.16 626.2,26.15 628.7,24.93 631,24.65 631.5,25.1 631,26.05 628.2,28.77 625.7,31.3 623.2,34.02 621,37.13 619.2,40.77 618,42.19" fill="#0ae60a" stroke="#0ae60a" stroke-width="1.3" stroke-linejoin="round"/>
<polygon points="628.42,34.22 629.22,31.07 630.62,27.01 632.52,23.3 634.32,21.16 637.82,18.16 640.32,16.94 642.62,16.65 643.12,17.11 642.62,18.05 639.82,20.78 637.32,23.3 634.82,26.02 632.62,29.13 630.82,32.77 629.62,34.2" fill="#ffff00" stroke="#ffff00" stroke-width="1.3" stroke-linejoin="round"/>
<polygon points="640.44,26.55 641.24,23.2 642.44,18.88 644.14,15.21 646.44,13.02 649.44,10.96 652.94,9.81 655.64,10.01 656.04,11.31 655.44,12.41 651.94,13.21 649.94,15.82 648.14,18.05 643.74,22.48 641.64,26.13 640.74,27.05" fill="#ff0000" stroke="#ff0000" stroke-width="1.3" stroke-linejoin="round"/>
<path d="M477.39,137.24 L500.44,120.66 L558.06,78.24 L615.68,36.79 L651.4,12.21" fill="none" stroke="#000" stroke-width="2" stroke-linecap="round"/>
<path d="M385.2,207.9 L386.35,205.81 L387.5,203.72 L388.66,201.63 L389.81,200.33 L390.96,199.04 L392.11,197.74 L393.27,196.44 L394.42,195.14 L395.57,193.96 L396.72,193.16 L397.88,192.37 L399.03,191.57 L400.18,190.77 L401.33,189.97 L402.49,189.17 L403.64,188.37 L404.79,187.57 L405.94,186.79 L407.1,186.02 L408.25,185.25 L409.4,184.47 L410.55,183.7 L411.71,182.93 L412.86,182.16 L414.01,181.39 L415.16,180.62 L416.31,179.85 L417.47,179.08 L418.62,178.31 L419.77,177.53 L420.92,176.76 L422.08,175.99 L423.23,175.22 L424.38,174.45 L425.53,173.68 L426.69,172.91 L427.84,172.14 L428.99,171.36 L430.14,170.59 L431.3,169.82 L432.45,169.05 L433.6,168.28 L434.75,167.51 L435.91,166.74 L437.06,165.97 L438.21,165.19 L439.36,164.42 L440.52,163.65 L441.67,162.88 L442.82,162.11" fill="none" stroke="#000" stroke-width="1.95" stroke-linecap="round" stroke-dasharray="0.1 2.95"/>
<path d="M442.82,162.11 L443.97,161.28 L445.12,160.45 L446.28,159.62 L447.43,158.79 L448.58,157.96 L449.73,157.14 L450.89,156.31 L452.04,155.48 L453.19,154.65 L454.34,153.82 L455.5,152.99 L456.65,152.16 L457.8,151.33 L458.95,150.5 L460.11,149.67 L461.26,148.85 L462.41,148.02 L463.56,147.19 L464.72,146.36 L465.87,145.53 L467.02,144.7 L468.17,143.87 L469.33,143.04 L470.48,142.21 L471.63,141.38 L472.78,140.55 L473.93,139.73 L475.09,138.9 L476.24,138.07 L477.39,137.24 L478.54,136.41 L479.7,135.58 L480.85,134.75 L482,133.92 L483.15,133.09 L484.31,132.26 L485.46,131.44 L486.61,130.61 L487.76,129.78 L488.92,128.95" fill="none" stroke="#000" stroke-width="2.05" stroke-linecap="round" stroke-dasharray="0.1 2.5"/>
<path d="M488.92,128.95 L490.07,128.12 L491.22,127.29 L492.37,126.46 L493.53,125.63 L494.68,124.8 L495.83,123.97 L496.98,123.15 L498.14,122.32 L499.29,121.49 L500.44,120.66 L501.59,119.81 L502.74,118.96 L503.9,118.11 L505.05,117.26 L506.2,116.42 L507.35,115.57 L508.51,114.72 L509.66,113.87 L510.81,113.02 L511.96,112.17 L513.12,111.33 L514.27,110.48 L515.42,109.63 L516.57,108.78 L517.73,107.93 L518.88,107.08 L520.03,106.24 L521.18,105.39 L522.34,104.54 L523.49,103.69 L524.64,102.84 L525.79,101.99 L526.95,101.15 L528.1,100.3 L529.25,99.45 L530.4,98.6 L531.55,97.75 L532.71,96.91 L533.86,96.06 L535.01,95.21 L536.16,94.36 L537.32,93.51 L538.47,92.66 L539.62,91.82 L540.77,90.97 L541.93,90.12 L543.08,89.27 L544.23,88.42 L545.38,87.57 L546.54,86.73" fill="none" stroke="#000" stroke-width="2.2" stroke-linecap="round" stroke-dasharray="0.1 2.0"/>
<path d="M546.54,86.73 L547.69,85.88 L548.84,85.03 L549.99,84.18 L551.15,83.33 L552.3,82.48 L553.45,81.64 L554.6,80.79 L555.76,79.94 L556.91,79.09 L558.06,78.24 L559.21,77.41 L560.36,76.58 L561.52,75.75 L562.67,74.93 L563.82,74.1 L564.97,73.27 L566.13,72.44 L567.28,71.61 L568.43,70.78 L569.58,69.95 L570.74,69.12 L571.89,68.29 L573.04,67.46 L574.19,66.64 L575.35,65.81 L576.5,64.98 L577.65,64.15 L578.8,63.32 L579.96,62.49 L581.11,61.66 L582.26,60.83 L583.41,60 L584.57,59.17 L585.72,58.35 L586.87,57.52 L588.02,56.69 L589.17,55.86 L590.33,55.03 L591.48,54.2 L592.63,53.37 L593.78,52.54 L594.94,51.71 L596.09,50.88 L597.24,50.05 L598.39,49.23 L599.55,48.4 L600.7,47.57 L601.85,46.74 L603,45.91 L604.16,45.08 L605.31,44.25 L606.46,43.42 L607.61,42.59 L608.77,41.76 L609.92,40.94 L611.07,40.11 L612.22,39.28 L613.38,38.45 L614.53,37.62 L615.68,36.79 L616.83,36 L617.98,35.2 L619.14,34.41 L620.29,33.62 L621.44,32.83 L622.59,32.03 L623.75,31.24 L624.9,30.45 L626.05,29.65 L627.2,28.86 L628.36,28.07 L629.51,27.27 L630.66,26.48 L631.81,25.69 L632.97,24.9 L634.12,24.1 L635.27,23.31 L636.42,22.52 L637.58,21.72 L638.73,20.93 L639.88,20.14 L641.03,19.34 L642.19,18.55 L643.34,17.76 L644.49,16.97 L645.64,16.17 L646.79,15.38 L647.95,14.59 L649.1,13.79 L650.25,13 L651.4,12.21" fill="none" stroke="#000" stroke-width="2.4" stroke-linecap="round" stroke-dasharray="0.1 1.5"/>
<rect x="385.2" y="5.5" width="288.1" height="202.4" fill="none" stroke="#454545" stroke-width="1.55"/>
<path d="M442.82,207.9v-3.2M442.82,5.5v3.2M500.44,207.9v-3.2M500.44,5.5v3.2M558.06,207.9v-3.2M558.06,5.5v3.2M615.68,207.9v-3.2M615.68,5.5v3.2M385.2,159.7h3.2M673.3,159.7h-3.2M385.2,111.5h3.2M673.3,111.5h-3.2M385.2,63.3h3.2M673.3,63.3h-3.2M385.2,15.1h3.2M673.3,15.1h-3.2" fill="none" stroke="#454545" stroke-width="1.2"/>
<text x="388.6" y="223.6" font-size="14" text-anchor="middle" fill="#2e2e2e">0</text>
<text x="442.12" y="223.6" font-size="14" text-anchor="middle" fill="#2e2e2e">10</text>
<text x="499.74" y="223.6" font-size="14" text-anchor="middle" fill="#2e2e2e">20</text>
<text x="557.36" y="223.6" font-size="14" text-anchor="middle" fill="#2e2e2e">30</text>
<text x="614.98" y="223.6" font-size="14" text-anchor="middle" fill="#2e2e2e">40</text>
<text x="672.6" y="223.6" font-size="14" text-anchor="middle" fill="#2e2e2e">50</text>
<text x="380.3" y="213.9" font-size="14" text-anchor="end" fill="#2e2e2e">0</text>
<text x="380.3" y="165.7" font-size="14" text-anchor="end" fill="#2e2e2e">10</text>
<text x="380.3" y="117.5" font-size="14" text-anchor="end" fill="#2e2e2e">20</text>
<text x="380.3" y="69.3" font-size="14" text-anchor="end" fill="#2e2e2e">30</text>
<text x="380.3" y="21.1" font-size="14" text-anchor="end" fill="#2e2e2e">40</text>
<text x="359.1" y="105.6" font-size="14.3" text-anchor="middle" fill="#111" transform="rotate(-90 359.1 105.6)">Group Delay (fs)</text>
<text x="482.6" y="242.8" font-size="14.6" fill="#111">Phase (<tspan font-size="12.4">π</tspan><tspan dx="-1.3"> rad)</tspan></text>
<rect x="385.6" y="188.6" width="16.6" height="19" fill="none" stroke="#ea2033" stroke-width="1.2" stroke-dasharray="4 2.4"/>
<circle cx="578.8" cy="156.3" r="2.9" fill="#1a1a1a"/>
<text x="591.2" y="161.3" font-size="14.2" fill="#1f1f1f">Required</text>
<circle cx="521.5" cy="179.5" r="2.7" fill="#0a0aff"/>
<circle cx="533.1" cy="179.5" r="2.7" fill="#00f6ff"/>
<circle cx="544.2" cy="179.5" r="2.7" fill="#0ae60a"/>
<circle cx="556" cy="179.5" r="2.7" fill="#ffff00"/>
<circle cx="567.5" cy="179.5" r="2.7" fill="#ff0000"/>
<circle cx="578.8" cy="179.5" r="2.7" fill="#ff14ff"/>
<text x="591.2" y="183.6" font-size="14.3" fill="#1f1f1f">Varying <tspan font-family='"Liberation Serif", "DejaVu Serif", serif' font-style="italic" font-size="15.5">h</tspan><tspan font-family='"Liberation Serif", "DejaVu Serif", serif' font-size="7.6" dy="3.6" dx="0.3">SiN</tspan></text>
<polygon points="415.22,37.63 439.01,33.69 450.69,42.74 426.9,47.41" fill="#80766f"/>
<polygon points="415.22,37.63 426.9,47.41 426.9,82.15 415.22,72.66" fill="#8a8c8f"/>
<polygon points="426.9,47.41 450.69,42.74 450.69,77.77 426.9,82.15" fill="#a4a8ad"/>
<polygon points="415.22,72.66 426.9,82.15 426.9,109.16 415.22,98.94" fill="#5650b4"/>
<polygon points="426.9,82.15 450.69,77.77 450.69,104.34 426.9,109.16" fill="#4a40ac"/>
<polygon points="425.44,28.43 427.34,25.8 431.42,24.93 435.36,25.51 439.31,26.39 440.47,28.87 440.18,38.36 438.72,40.99 435.36,42.74 432.01,42.15 428.8,42.15 425.88,39.09" fill="#a80d10"/>
<polygon points="432.01,31.06 435.36,31.35 435.36,42.74 432.01,42.15" fill="#c41418"/>
<polygon points="427.34,26.09 431.42,25.22 435.36,25.8 439.01,26.68 439.89,29.01 436.09,30.77 432.01,30.47 428.21,30.18 425.88,28.43" fill="#8f0a0d"/>
<line x1="412.7" y1="38.4" x2="412.7" y2="97" stroke="#1a1a1a" stroke-width="0.8"/><polygon points="412.7,37.4 411.2,41.6 414.2,41.6" fill="#1a1a1a"/><polygon points="412.7,98 411.2,93.8 414.2,93.8" fill="#1a1a1a"/>
<line x1="453.9" y1="79.3" x2="453.9" y2="103.2" stroke="#1a1a1a" stroke-width="0.8"/><polygon points="453.9,78.3 452.4,82.5 455.4,82.5" fill="#1a1a1a"/><polygon points="453.9,104.2 452.4,100 455.4,100" fill="#1a1a1a"/>
<text x="396.2" y="66.8" font-size="15.5" fill="#111" font-family='"Liberation Serif", "DejaVu Serif", serif' font-style="italic">h<tspan font-style="normal" font-size="7.6" dy="3.8" dx="0.4">0</tspan></text>
<text x="459.3" y="95" font-size="15.5" fill="#111" font-family='"Liberation Serif", "DejaVu Serif", serif' font-style="italic">h<tspan font-style="normal" font-size="7.4" dy="4.2" dx="-0.4">SiN</tspan></text>
<text transform="translate(339.9 21) scale(0.97 1.03)" font-size="28.9" font-weight="bold">B</text>
</g>
<g id="panel-c">
<clipPath id="cc1"><rect x="49.5" y="286" width="277.8" height="90.8"/></clipPath>
<g clip-path="url(#cc1)">
<polyline points="49.5,293 56.45,293.83 63.39,294.62 70.34,295.38 77.28,296.1 84.22,296.79 91.17,297.45 98.12,298.08 105.06,298.69 112,299.26 118.95,299.82 125.9,300.34 132.84,300.85 139.79,301.33 146.73,301.79 153.68,302.23 160.62,302.65 167.56,303.06 174.51,303.44 181.46,303.81 188.4,304.16 195.34,304.5 202.29,304.82 209.23,305.13 216.18,305.42 223.12,305.7 230.07,305.97 237.02,306.23 243.96,306.47 250.91,306.71 257.85,306.93 264.8,307.15 271.74,307.35 278.69,307.55 285.63,307.74 292.58,307.92 299.52,308.09 306.47,308.25 313.41,308.41 320.36,308.56 327.3,308.7" fill="none" stroke="#ff0000" stroke-width="1.9"/>
<polyline points="49.5,330 56.45,330.25 63.39,330.5 70.34,330.74 77.28,330.97 84.22,331.2 91.17,331.41 98.12,331.63 105.06,331.83 112,332.03 118.95,332.23 125.9,332.41 132.84,332.6 139.79,332.77 146.73,332.94 153.68,333.11 160.62,333.27 167.56,333.43 174.51,333.58 181.46,333.73 188.4,333.87 195.34,334.01 202.29,334.15 209.23,334.28 216.18,334.41 223.12,334.53 230.07,334.65 237.02,334.77 243.96,334.88 250.91,334.99 257.85,335.1 264.8,335.2 271.74,335.3 278.69,335.4 285.63,335.49 292.58,335.58 299.52,335.67 306.47,335.76 313.41,335.84 320.36,335.92 327.3,336" fill="none" stroke="#0a0aff" stroke-width="2.5" stroke-dasharray="7.4 6.9"/>
<polyline points="49.5,360.4 56.45,360.65 63.39,360.9 70.34,361.14 77.28,361.37 84.22,361.6 91.17,361.81 98.12,362.03 105.06,362.23 112,362.43 118.95,362.63 125.9,362.81 132.84,363 139.79,363.17 146.73,363.34 153.68,363.51 160.62,363.67 167.56,363.83 174.51,363.98 181.46,364.13 188.4,364.27 195.34,364.41 202.29,364.55 209.23,364.68 216.18,364.81 223.12,364.93 230.07,365.05 237.02,365.17 243.96,365.28 250.91,365.39 257.85,365.5 264.8,365.6 271.74,365.7 278.69,365.8 285.63,365.89 292.58,365.98 299.52,366.07 306.47,366.16 313.41,366.24 320.36,366.32 327.3,366.4" fill="none" stroke="#0072bd" stroke-width="2.5" stroke-dasharray="7.3 2.3 2.8 2.3"/>
</g>
<line x1="130.6" y1="318.1" x2="149.6" y2="318.1" stroke="#ff0000" stroke-width="1.9"/>
<text x="152.2" y="323.2" font-size="14.15" fill="#262626">High index SiN</text>
<line x1="69.5" y1="349.3" x2="89.2" y2="349.3" stroke="#0072bd" stroke-width="2.4" stroke-dasharray="7.3 2.2 2.8 2.2"/>
<text x="90.8" y="354.4" font-size="14.15" fill="#262626">SU8</text>
<line x1="130.8" y1="349.3" x2="150.1" y2="349.3" stroke="#0a0aff" stroke-width="2.4" stroke-dasharray="7.3 6.5"/>
<text x="152.2" y="354.4" font-size="14.15" fill="#262626">Dispersion engineered SiN</text>
<rect x="49.5" y="286" width="277.8" height="90.8" fill="none" stroke="#2a2a2a" stroke-width="1.3"/>
<path d="M49.5,301.1h3.4M327.3,301.1h-3.4" fill="none" stroke="#2a2a2a" stroke-width="1.3"/>
<text x="42.2" y="307.3" font-size="15.3" text-anchor="end" fill="#262626">2</text>
<text x="45.2" y="383.2" font-size="14" text-anchor="end" fill="#262626">1.5</text>
<polyline points="49.5,447.4 56.45,446.54 63.39,445.73 70.34,444.97 77.28,444.25 84.22,443.57 91.17,442.95 98.12,442.37 105.06,441.84 112,441.36 118.95,440.93 125.9,440.56 132.84,440.24 139.79,439.98 146.73,439.78 153.68,439.65 160.62,439.6 167.56,439.63 174.51,439.7 181.46,439.81 188.4,439.96 195.34,440.14 202.29,440.37 209.23,440.63 216.18,440.93 223.12,441.26 230.07,441.63 237.02,442.03 243.96,442.47 250.91,442.94 257.85,443.44 264.8,443.98 271.74,444.55 278.69,445.16 285.63,445.79 292.58,446.46 299.52,447.17 306.47,447.9 313.41,448.67 320.36,449.47 327.3,450.3" fill="none" stroke="#000" stroke-width="2.1"/>
<line x1="168.5" y1="439.3" x2="327.3" y2="440.9" stroke="#ea2033" stroke-width="1.1"/>
<line x1="168.5" y1="449.4" x2="327.3" y2="451" stroke="#ea2033" stroke-width="1.1"/>
<line x1="180.3" y1="441.2" x2="180.3" y2="448.2" stroke="#ea2033" stroke-width="1"/>
<polygon points="180.3,439.8 179,443.2 181.6,443.2" fill="#ea2033"/>
<polygon points="180.3,449.6 179,446.2 181.6,446.2" fill="#ea2033"/>
<text x="96.2" y="468" font-size="14.2" fill="#ea2033">Max. dispersion mismatch = 0.0015</text>
<line x1="128" y1="419.3" x2="146.6" y2="419.3" stroke="#000" stroke-width="2.1"/>
<text x="151.8" y="424.4" font-size="14.15" fill="#262626">Index difference</text>
<rect x="49.5" y="401" width="277.8" height="90" fill="none" stroke="#2a2a2a" stroke-width="1.3"/>
<path d="M95.8,401v3M95.8,491v-3M142.1,401v3M142.1,491v-3M188.4,401v3M188.4,491v-3M234.7,401v3M234.7,491v-3M281,401v3M281,491v-3" fill="none" stroke="#2a2a2a" stroke-width="1.1"/>
<text x="52.2" y="510.3" font-size="14.2" text-anchor="middle" fill="#262626">400</text>
<text x="98.5" y="510.3" font-size="14.2" text-anchor="middle" fill="#262626">450</text>
<text x="144.8" y="510.3" font-size="14.2" text-anchor="middle" fill="#262626">500</text>
<text x="191.1" y="510.3" font-size="14.2" text-anchor="middle" fill="#262626">550</text>
<text x="237.4" y="510.3" font-size="14.2" text-anchor="middle" fill="#262626">600</text>
<text x="283.7" y="510.3" font-size="14.2" text-anchor="middle" fill="#262626">650</text>
<text x="330" y="510.3" font-size="14.2" text-anchor="middle" fill="#262626">700</text>
<text x="188.5" y="530.3" font-size="14.4" text-anchor="middle" fill="#262626">Wavelength (nm)</text>
<text x="18.2" y="384.8" font-size="14.1" text-anchor="middle" fill="#262626" transform="rotate(-90 18.2 384.8)">Refractive index</text>
<text transform="translate(0.1 266.1) scale(0.955 1.07)" font-size="28.9" font-weight="bold">C</text>
</g>
<g id="panel-d">
<polygon points="414.39,415.16 416.24,412.54 418.08,409.92 419.61,407.08 420.89,404.07 422.17,401.07 423.72,398.25 425.64,395.67 427.81,393.27 429.95,390.86 431.81,388.24 433.3,385.38 434.58,382.38 435.97,379.45 437.7,376.75 439.8,374.3 442.05,371.95 444.13,369.49 445.84,366.77 447.21,363.83 448.52,360.85 450.09,358.04 452.06,355.5 454.32,353.16 456.55,350.8 458.46,348.22 459.96,345.37 461.28,342.39 462.74,339.51 464.59,336.89 466.81,334.52 469.12,332.21 471.18,329.74 472.83,326.99 474.2,324.04 475.61,321.13 477.37,318.45 479.53,316.04 481.88,313.76 484.05,311.36 485.83,308.69 487.26,305.79 488.68,302.88 490.4,300.18 492.56,297.77 494.97,295.53 497.25,293.2 499.15,290.62 500.79,287.86 501.21,288.14 500.18,291.32 498.78,294.24 496.92,296.85 494.72,299.23 492.48,301.59 490.58,304.17 489.14,307.06 487.99,310.16 486.77,313.2 485.11,315.95 482.95,318.36 480.55,320.61 478.35,322.99 476.65,325.7 475.41,328.74 474.3,331.86 472.86,334.75 470.87,337.28 468.46,339.52 466.06,341.76 464.09,344.3 462.67,347.21 461.56,350.33 460.29,353.34 458.49,355.99 456.17,358.29 453.68,360.47 451.48,362.86 449.84,365.62 448.64,368.67 447.44,371.74 445.83,374.51 443.64,376.9 441.14,379.08 438.79,381.36 436.94,383.98 435.58,386.93 434.38,389.99 432.87,392.83 430.81,395.31 428.37,397.53 425.94,399.75 423.92,402.25 422.39,405.09 421.08,408.08 419.55,410.91 417.49,413.39 414.81,415.44" fill="#bbbbbb"/><path d="M418.59,406.85l5.3,-6.39M424.91,398.84l5.5,-6.69M431.79,391.21l3.69,-4.01M434.71,380.89l6.29,-7.85M441.55,373.23l4.26,-4.85M450.63,367.09l5.05,-6.02M455.61,358.18l5.07,-6.05M460.43,349.14l3.98,-4.44M466.13,340.71l6.39,-8M471.33,331.94l5.97,-7.37M477.72,323.98l3.69,-4.01M483.84,315.83l5.46,-6.62M487.46,305.99l3.57,-3.84M495.76,299.32l5.06,-6.03" fill="none" stroke="#c0c0c0" stroke-width="0.9" stroke-linecap="round"/>
<polygon points="508.08,451.87 509.54,449.5 510.99,447.11 512.1,444.54 512.97,441.81 513.83,439.09 514.97,436.53 516.5,434.19 518.29,432.01 520.05,429.81 521.51,427.43 522.59,424.84 523.46,422.12 524.44,419.46 525.77,417.01 527.48,414.78 529.36,412.64 531.05,410.41 532.36,407.94 533.32,405.27 534.21,402.57 535.37,400.02 536.96,397.72 538.85,395.59 540.7,393.44 542.21,391.1 543.31,388.51 544.21,385.81 545.26,383.19 546.72,380.81 548.55,378.66 550.49,376.56 552.17,374.31 553.41,371.81 554.37,369.14 555.37,366.5 556.73,364.06 558.52,361.88 560.49,359.8 562.28,357.62 563.66,355.2 564.69,352.57 565.69,349.92 567.01,347.47 568.79,345.28 570.83,343.24 572.74,341.13 574.24,338.78 575.48,336.27 575.92,336.53 575.32,339.41 574.33,342.06 572.87,344.43 571.04,346.59 569.18,348.74 567.67,351.08 566.64,353.71 565.92,356.52 565.11,359.27 563.86,361.77 562.08,363.96 560.05,366 558.23,368.17 556.93,370.63 556.11,373.39 555.42,376.21 554.4,378.84 552.79,381.13 550.75,383.17 548.72,385.21 547.14,387.52 546.14,390.16 545.45,392.99 544.6,395.71 543.2,398.13 541.25,400.22 539.12,402.2 537.3,404.37 536.07,406.88 535.29,409.65 534.51,412.42 533.3,414.94 531.49,417.12 529.36,419.1 527.38,421.17 525.92,423.55 524.98,426.23 524.2,429 523.09,431.58 521.43,433.84 519.35,435.85 517.28,437.88 515.65,440.15 514.53,442.73 513.64,445.43 512.52,448 510.84,450.25 508.52,452.13" fill="#bbbbbb"/><path d="M512.93,445.41l5.45,-7.76M518.21,438.24l6.06,-8.8M522.41,430.44l6,-8.7M523.47,420.81l4.62,-6.33M532.29,415.71l5.17,-7.28M536.55,407.94l3.55,-4.5M538.95,399.09l3.95,-5.19M543.76,391.65l4.94,-6.89M545.69,382.53l3.86,-5.04M551.42,375.62l5.98,-8.67M558.2,369.33l3.69,-4.74M562.81,361.77l3.63,-4.64M566.41,353.62l3.59,-4.57M567.93,344.26l5.84,-8.43" fill="none" stroke="#c0c0c0" stroke-width="0.9" stroke-linecap="round"/>
<polygon points="583.17,495.4 584.3,493.24 585.38,491.06 586.09,488.71 586.54,486.24 587,483.78 587.77,481.46 588.95,479.33 590.39,477.32 591.78,475.28 592.83,473.09 593.48,470.71 593.94,468.25 594.53,465.85 595.52,463.62 596.89,461.58 598.39,459.6 599.68,457.51 600.56,455.24 601.09,452.81 601.59,450.37 602.4,448.06 603.64,445.96 605.16,443.99 606.62,441.98 607.7,439.8 608.37,437.43 608.86,434.98 609.54,432.62 610.65,430.46 612.13,428.47 613.68,426.5 614.94,424.41 615.75,422.11 616.28,419.67 616.89,417.28 617.89,415.07 619.33,413.05 620.92,411.11 622.31,409.07 623.26,406.83 623.86,404.43 624.45,402.03 625.39,399.79 626.81,397.77 628.47,395.86 629.99,393.88 631.07,391.7 631.87,389.4 632.33,389.6 632.12,392.18 631.51,394.58 630.4,396.74 628.92,398.74 627.44,400.73 626.32,402.89 625.7,405.28 625.39,407.81 624.96,410.29 624.07,412.55 622.64,414.57 620.99,416.49 619.57,418.51 618.68,420.78 618.28,423.27 617.98,425.8 617.31,428.17 616.07,430.27 614.4,432.18 612.76,434.11 611.6,436.24 611.01,438.65 610.73,441.19 610.24,443.65 609.21,445.84 607.62,447.79 605.88,449.67 604.48,451.69 603.66,453.99 603.29,456.5 602.9,459 602.06,461.28 600.62,463.29 598.86,465.16 597.29,467.11 596.25,469.31 595.73,471.74 595.34,474.24 594.62,476.58 593.32,478.66 591.62,480.55 589.95,482.46 588.72,484.57 588.03,486.93 587.56,489.39 586.83,491.73 585.55,493.81 583.63,495.6" fill="#bbbbbb"/><path d="M585.13,488.59l5.22,-9.46M587.91,481.38l4.58,-8.05M590.96,474.28l3.43,-5.56M598.16,469.1l3.34,-5.35M599.83,461.38l3.96,-6.71M602.23,453.98l4.05,-6.91M604.31,446.45l4.89,-8.74M607.08,439.23l3.4,-5.49M610,432.08l3.48,-5.66M614.91,425.84l5.07,-9.13M618.01,418.77l3.1,-4.83M620.71,411.52l5.3,-9.62M623.08,404.12l4.37,-7.59M627.67,397.73l4.47,-7.81" fill="none" stroke="#c0c0c0" stroke-width="0.9" stroke-linecap="round"/>
<polygon points="410.8,328.7 536.1,256.8 536.1,377.3 410.8,449.2" fill="none" stroke="#0a0aff" stroke-width="1.9" stroke-linejoin="miter"/>
<polygon points="414.6,435.5 427.53,405.93 432.54,404.9" fill="#0a0aff" stroke="#0a0aff" stroke-width="0.4" stroke-linejoin="round"/>
<polygon points="425.69,415.3 426.4,409.27 428.5,404.21 432.28,399.03 435.64,396.17 436.83,396.4 434.73,400.76 431.44,406.28 428.77,410.94" fill="#0a0aff" stroke="#0a0aff" stroke-width="0.7" stroke-linejoin="round"/>
<polygon points="432.63,405.47 434.6,397.65 437.95,390.82 443.24,383.5 447.61,379.22 448.8,379.45 445.69,385.23 440.9,392.89 436.97,399.33" fill="#00f6ff" stroke="#00f6ff" stroke-width="0.7" stroke-linejoin="round"/>
<polygon points="444.6,388.52 446.56,380.7 449.92,373.87 455.21,366.55 459.58,362.27 460.76,362.5 457.66,368.28 452.86,375.94 448.93,382.38" fill="#0ae60a" stroke="#0ae60a" stroke-width="0.7" stroke-linejoin="round"/>
<polygon points="456.56,371.57 458.53,363.75 461.89,356.92 467.18,349.6 471.54,345.32 472.73,345.55 469.63,351.33 464.83,358.99 460.9,365.43" fill="#ffff00" stroke="#ffff00" stroke-width="0.7" stroke-linejoin="round"/>
<polygon points="468.53,354.62 470.5,346.8 473.85,339.97 479.14,332.65 483.51,328.37 484.7,328.6 481.59,334.38 476.8,342.04 472.87,348.48" fill="#ff0000" stroke="#ff0000" stroke-width="0.7" stroke-linejoin="round"/>
<polygon points="480.5,337.67 483.36,328.58 487.62,320.48 493.98,311.63 499.07,306.34 500.25,306.56 496.43,313.36 490.56,322.55 485.73,330.26" fill="#ff14ff" stroke="#ff14ff" stroke-width="0.7" stroke-linejoin="round"/>
<path d="M421.9,417.2L493.7,315.5" fill="none" stroke="#000" stroke-width="1.9" stroke-linecap="round" stroke-dasharray="0.1 5.15"/>
<polygon points="472.4,365.5 597.2,294 597.2,414 472.4,486" fill="none" stroke="#0a9a4e" stroke-width="1.9"/>
<polygon points="486.9,463.4 496.84,435.49 501.42,434.4" fill="#0a0aff" stroke="#0a0aff" stroke-width="0.4" stroke-linejoin="round"/>
<polygon points="495.88,444.06 496.05,438.55 497.6,433.89 500.71,429.07 503.61,426.37 504.73,426.54 503.13,430.57 500.51,435.69 498.39,440" fill="#0a0aff" stroke="#0a0aff" stroke-width="0.7" stroke-linejoin="round"/>
<polygon points="501.55,434.92 502.76,427.75 505.33,421.43 509.67,414.63 513.39,410.6 514.52,410.78 512.09,416.13 508.24,423.24 505.1,429.2" fill="#00f6ff" stroke="#00f6ff" stroke-width="0.7" stroke-linejoin="round"/>
<polygon points="511.33,419.15 512.54,411.98 515.12,405.67 519.45,398.86 523.18,394.84 524.3,395.01 521.87,400.36 518.02,407.47 514.88,413.44" fill="#0ae60a" stroke="#0ae60a" stroke-width="0.7" stroke-linejoin="round"/>
<polygon points="521.12,403.39 522.32,396.22 524.9,389.9 529.24,383.09 532.96,379.07 534.08,379.24 531.66,384.6 527.81,391.7 524.66,397.67" fill="#ffff00" stroke="#ffff00" stroke-width="0.7" stroke-linejoin="round"/>
<polygon points="530.9,387.62 532.11,380.45 534.68,374.13 539.02,367.33 542.74,363.3 543.87,363.48 541.44,368.83 537.59,375.94 534.45,381.9" fill="#ff0000" stroke="#ff0000" stroke-width="0.7" stroke-linejoin="round"/>
<polygon points="540.68,371.85 542.37,363.9 545.43,356.81 550.35,349.06 554.47,344.42 555.59,344.59 552.77,350.56 548.34,358.61 544.71,365.36" fill="#ff14ff" stroke="#ff14ff" stroke-width="0.7" stroke-linejoin="round"/>
<path d="M492.5,445.9L551.2,351.3" fill="none" stroke="#000" stroke-width="1.9" stroke-linecap="round" stroke-dasharray="0.1 4.8"/>
<polygon points="540.6,406.5 665.8,335 665.8,455 540.6,527" fill="none" stroke="#ea2033" stroke-width="1.9"/>
<polygon points="573.4,488.5 577.98,469.7 581.73,468.02" fill="#0a0aff" stroke="#0a0aff" stroke-width="0.4" stroke-linejoin="round"/>
<polygon points="577.34,477.62 577.39,472.6 578.58,468.14 581.05,463.29 583.39,460.4 584.32,460.39 583.07,464.28 581.01,469.33 579.34,473.56" fill="#0a0aff" stroke="#0a0aff" stroke-width="0.7" stroke-linejoin="round"/>
<polygon points="581.85,468.47 582.71,461.79 584.72,455.67 588.17,448.83 591.16,444.62 592.09,444.61 590.18,449.83 587.14,456.86 584.66,462.75" fill="#00f6ff" stroke="#00f6ff" stroke-width="0.7" stroke-linejoin="round"/>
<polygon points="589.62,452.68 590.48,446 592.49,439.88 595.93,433.05 598.93,428.84 599.85,428.82 597.95,434.04 594.91,441.08 592.43,446.96" fill="#0ae60a" stroke="#0ae60a" stroke-width="0.7" stroke-linejoin="round"/>
<polygon points="597.38,436.9 598.25,430.22 600.25,424.1 603.7,417.27 606.69,413.05 607.62,413.04 605.72,418.26 602.68,425.29 600.2,431.18" fill="#ffff00" stroke="#ffff00" stroke-width="0.7" stroke-linejoin="round"/>
<polygon points="605.15,421.12 606.01,414.44 608.02,408.32 611.47,401.48 614.46,397.27 615.39,397.26 613.48,402.48 610.44,409.51 607.96,415.4" fill="#ff0000" stroke="#ff0000" stroke-width="0.7" stroke-linejoin="round"/>
<polygon points="612.92,405.33 613.78,398.65 615.79,392.53 619.23,385.7 622.23,381.49 623.15,381.47 621.25,386.69 618.21,393.73 615.73,399.61" fill="#ff14ff" stroke="#ff14ff" stroke-width="0.7" stroke-linejoin="round"/>
<path d="M574.6,479.8L621.2,385.1" fill="none" stroke="#000" stroke-width="1.9" stroke-linecap="round" stroke-dasharray="0.1 5.0"/>
<line x1="493.8" y1="315.4" x2="621.5" y2="383.9" stroke="#222" stroke-width="0.75"/>
<line x1="421.4" y1="417.8" x2="574.6" y2="478" stroke="#222" stroke-width="0.75"/>
<line x1="394.5" y1="440.4" x2="394.5" y2="276" stroke="#2b2b2b" stroke-width="1.7"/>
<polygon points="394.5,269.4 390.3,279.2 398.7,279.2" fill="#2b2b2b"/>
<path d="M400.5,444 L548.6,532.2 L670,463.3" fill="none" stroke="#2b2b2b" stroke-width="1.7" stroke-linejoin="miter"/>
<polygon points="394.5,440.4 405,441.9 400.6,449.2" fill="#2b2b2b"/>
<polygon points="676.3,460 665.6,460.6 669.6,468.2" fill="#2b2b2b"/>
<text x="383.3" y="361.5" font-size="14.6" text-anchor="middle" fill="#262626" transform="rotate(-90 383.3 361.5)">Local Average Group Delay</text>
<text x="466" y="505.5" font-size="14.6" text-anchor="middle" fill="#262626" transform="rotate(30.8 466 505.5)">Frequency</text>
<text x="626.5" y="509" font-size="14.6" text-anchor="middle" fill="#262626" transform="rotate(-28 626.5 509)">Phase</text>
<text x="500.3" y="297.9" font-size="15.6" fill="#111" font-family='"Liberation Serif", "DejaVu Serif", serif' font-style="italic">φ<tspan font-size="8" dy="3.6" font-style="normal">0</tspan><tspan dy="-3.6" font-style="normal">(</tspan>ω<tspan font-style="normal">)</tspan></text>
<text x="557.8" y="329.8" font-size="15.6" fill="#111" font-family='"Liberation Serif", "DejaVu Serif", serif' font-style="italic">φ<tspan font-size="8" dy="3.6" font-style="normal">0</tspan><tspan dy="-3.6" font-style="normal">(</tspan>ω<tspan font-style="normal">)</tspan></text>
<text x="627.3" y="372" font-size="15.6" fill="#111" font-family='"Liberation Serif", "DejaVu Serif", serif' font-style="italic">φ<tspan font-size="8" dy="3.6" font-style="normal">0</tspan><tspan dy="-3.6" font-style="normal">(</tspan>ω<tspan font-style="normal">)</tspan></text>
<line x1="496.7" y1="297.2" x2="496.7" y2="302.7" stroke="#111" stroke-width="1.1"/><polygon points="496.7,307 494.6,302.7 498.8,302.7" fill="#111"/>
<line x1="567.9" y1="338.7" x2="559.36" y2="340.92" stroke="#111" stroke-width="1.1"/><polygon points="555.2,342 558.83,338.89 559.89,342.95" fill="#111"/>
<line x1="635.2" y1="386" x2="628.55" y2="382.71" stroke="#111" stroke-width="1.1"/><polygon points="624.7,380.8 629.49,380.83 627.62,384.59" fill="#111"/>
<text transform="translate(341.3 265.4) scale(0.96 1.03)" font-size="28.9" font-weight="bold">D</text>
</g>
<g id="panel-e">
<polygon points="151.09,558.42 154.61,560.51 158.02,562.65 161.32,564.85 164.52,567.1 167.61,569.4 170.59,571.75 173.44,574.15 176.19,576.59 178.81,579.08 181.31,581.6 183.69,584.17 185.94,586.78 188.06,589.42 190.05,592.09 191.92,594.79 193.65,597.53 195.25,600.29 196.71,603.07 198.04,605.88 199.23,608.71 200.28,611.56 201.2,614.42 201.97,617.29 202.61,620.18 203.1,623.08 203.45,625.98 203.66,628.89 203.74,631.8 203.74,646.2 203.66,643.29 203.45,640.38 203.1,637.48 202.61,634.58 201.97,631.69 201.2,628.82 200.28,625.96 199.23,623.11 198.04,620.28 196.71,617.47 195.25,614.69 193.65,611.93 191.92,609.19 190.05,606.49 188.06,603.82 185.94,601.18 183.69,598.57 181.31,596 178.81,593.48 176.19,590.99 173.44,588.55 170.59,586.15 167.61,583.8 164.52,581.5 161.32,579.25 158.02,577.05 154.61,574.91 151.09,572.82" fill="#7c0f14" stroke="#7c0f14" stroke-width="0.35"/>
<polygon points="153.9,556.8 157.59,558.99 161.16,561.24 164.62,563.54 167.96,565.91 171.18,568.32 174.28,570.79 177.26,573.31 180.11,575.88 182.83,578.5 185.42,581.16 187.88,583.86 190.2,586.6 192.38,589.38 194.42,592.19 196.32,595.04 198.08,597.92 199.7,600.82 201.17,603.75 202.5,606.7 203.67,609.68 204.7,612.67 205.58,615.68 206.31,618.7 206.88,621.73 207.31,624.77 207.58,627.82 207.7,630.87 207.67,633.92 203.7,633.88 203.73,630.89 203.61,627.91 203.34,624.93 202.92,621.95 202.36,618.98 201.65,616.03 200.79,613.08 199.78,610.16 198.63,607.25 197.34,604.36 195.9,601.49 194.32,598.65 192.59,595.83 190.73,593.05 188.73,590.3 186.6,587.58 184.33,584.9 181.93,582.25 179.39,579.65 176.73,577.09 173.94,574.58 171.03,572.11 168,569.7 164.84,567.33 161.57,565.02 158.19,562.76 154.69,560.56 151.09,558.42" fill="#cf1a21" stroke="#cf1a21" stroke-width="0.35"/>
<polygon points="151.09,572.82 154.69,574.96 158.19,577.16 161.57,579.42 164.84,581.73 168,584.1 171.03,586.51 173.94,588.98 176.73,591.49 179.39,594.05 181.93,596.65 184.33,599.3 186.6,601.98 188.73,604.7 190.73,607.45 192.59,610.23 194.32,613.05 195.9,615.89 197.34,618.76 198.63,621.65 199.78,624.56 200.79,627.48 201.65,630.43 202.36,633.38 202.92,636.35 203.34,639.33 203.61,642.31 203.73,645.29 203.7,648.28 200.42,648.24 200.45,645.31 200.33,642.38 200.07,639.45 199.66,636.53 199.1,633.62 198.4,630.72 197.56,627.83 196.57,624.95 195.44,622.1 194.17,619.26 192.76,616.44 191.21,613.65 189.52,610.89 187.69,608.16 185.73,605.45 183.63,602.79 181.4,600.15 179.04,597.56 176.55,595 173.94,592.49 171.2,590.03 168.34,587.6 165.37,585.23 162.27,582.91 159.06,580.64 155.74,578.42 152.31,576.26 148.77,574.16" fill="#1e3886" stroke="#1e3886" stroke-width="0.35"/>
<polygon points="145.96,561.39 149.33,563.39 152.61,565.45 155.78,567.55 158.85,569.71 161.81,571.92 164.67,574.18 167.41,576.48 170.04,578.82 172.56,581.21 174.96,583.63 177.24,586.09 179.4,588.59 181.43,591.13 183.35,593.69 185.14,596.29 186.8,598.91 188.33,601.56 189.74,604.23 191.01,606.93 192.15,609.64 193.16,612.37 194.04,615.12 194.78,617.88 195.39,620.65 195.87,623.43 196.21,626.22 196.41,629.01 196.48,631.8 196.48,646.2 196.41,643.41 196.21,640.62 195.87,637.83 195.39,635.05 194.78,632.28 194.04,629.52 193.16,626.77 192.15,624.04 191.01,621.33 189.74,618.63 188.33,615.96 186.8,613.31 185.14,610.69 183.35,608.09 181.43,605.53 179.4,602.99 177.24,600.49 174.96,598.03 172.56,595.61 170.04,593.22 167.41,590.88 164.67,588.58 161.81,586.32 158.85,584.11 155.78,581.95 152.61,579.85 149.33,577.79 145.96,575.79" fill="#7c0f14" stroke="#7c0f14" stroke-width="0.35"/>
<polygon points="148.77,559.76 152.31,561.86 155.74,564.02 159.06,566.24 162.27,568.51 165.37,570.83 168.34,573.2 171.2,575.63 173.94,578.09 176.55,580.6 179.04,583.16 181.4,585.75 183.63,588.39 185.73,591.05 187.69,593.76 189.52,596.49 191.21,599.25 192.76,602.04 194.17,604.86 195.44,607.7 196.57,610.55 197.56,613.43 198.4,616.32 199.1,619.22 199.66,622.13 200.07,625.05 200.33,627.98 200.45,630.91 200.42,633.84 196.44,633.79 196.47,630.93 196.36,628.06 196.1,625.2 195.7,622.35 195.16,619.5 194.47,616.66 193.65,613.84 192.68,611.03 191.58,608.24 190.34,605.47 188.96,602.71 187.44,599.99 185.79,597.29 184,594.61 182.08,591.97 180.03,589.36 177.85,586.79 175.55,584.26 173.12,581.76 170.56,579.3 167.89,576.89 165.09,574.52 162.18,572.21 159.15,569.94 156.02,567.72 152.77,565.55 149.42,563.44 145.96,561.39" fill="#cf1a21" stroke="#cf1a21" stroke-width="0.35"/>
<polygon points="145.96,575.79 149.42,577.84 152.77,579.95 156.02,582.12 159.15,584.34 162.18,586.61 165.09,588.92 167.89,591.29 170.56,593.7 173.12,596.16 175.55,598.66 177.85,601.19 180.03,603.76 182.08,606.37 184,609.01 185.79,611.69 187.44,614.39 188.96,617.11 190.34,619.87 191.58,622.64 192.68,625.43 193.65,628.24 194.47,631.06 195.16,633.9 195.7,636.75 196.1,639.6 196.36,642.46 196.47,645.33 196.44,648.19 193.16,648.15 193.19,645.34 193.08,642.53 192.82,639.73 192.43,636.93 191.9,634.14 191.23,631.35 190.42,628.58 189.47,625.83 188.39,623.09 187.17,620.37 185.82,617.67 184.33,614.99 182.71,612.34 180.95,609.72 179.07,607.13 177.06,604.57 174.93,602.05 172.66,599.56 170.28,597.11 167.77,594.7 165.15,592.34 162.41,590.01 159.55,587.74 156.58,585.51 153.5,583.34 150.32,581.21 147.03,579.14 143.64,577.13" fill="#1e3886" stroke="#1e3886" stroke-width="0.35"/>
<polygon points="140.83,564.35 144.06,566.27 147.19,568.24 150.23,570.26 153.17,572.33 156.01,574.44 158.75,576.6 161.37,578.8 163.89,581.05 166.3,583.34 168.6,585.66 170.79,588.02 172.86,590.41 174.81,592.84 176.64,595.3 178.35,597.78 179.95,600.3 181.42,602.83 182.76,605.39 183.98,607.97 185.08,610.57 186.04,613.19 186.88,615.82 187.6,618.47 188.18,621.12 188.63,623.78 188.96,626.45 189.15,629.12 189.22,631.8 189.22,646.2 189.15,643.52 188.96,640.85 188.63,638.18 188.18,635.52 187.6,632.87 186.88,630.22 186.04,627.59 185.08,624.97 183.98,622.37 182.76,619.79 181.42,617.23 179.95,614.7 178.35,612.18 176.64,609.7 174.81,607.24 172.86,604.81 170.79,602.42 168.6,600.06 166.3,597.74 163.89,595.45 161.37,593.2 158.75,591 156.01,588.84 153.17,586.73 150.23,584.66 147.19,582.64 144.06,580.67 140.83,578.75" fill="#7c0f14" stroke="#7c0f14" stroke-width="0.35"/>
<polygon points="143.64,562.73 147.03,564.74 150.32,566.81 153.5,568.94 156.58,571.11 159.55,573.34 162.41,575.61 165.15,577.94 167.77,580.3 170.28,582.71 172.66,585.16 174.93,587.65 177.06,590.17 179.07,592.73 180.95,595.32 182.71,597.94 184.33,600.59 185.82,603.27 187.17,605.97 188.39,608.69 189.47,611.43 190.42,614.18 191.23,616.95 191.9,619.74 192.43,622.53 192.82,625.33 193.08,628.13 193.19,630.94 193.16,633.75 189.19,633.71 189.21,630.96 189.1,628.22 188.86,625.48 188.47,622.75 187.95,620.02 187.3,617.3 186.51,614.6 185.58,611.9 184.53,609.23 183.34,606.57 182.01,603.94 180.56,601.33 178.98,598.74 177.27,596.18 175.43,593.65 173.47,591.15 171.38,588.69 169.17,586.26 166.84,583.86 164.39,581.51 161.83,579.2 159.15,576.94 156.36,574.71 153.47,572.54 150.46,570.41 147.35,568.34 144.14,566.32 140.83,564.35" fill="#cf1a21" stroke="#cf1a21" stroke-width="0.35"/>
<polygon points="140.83,578.75 144.14,580.72 147.35,582.74 150.46,584.81 153.47,586.94 156.36,589.11 159.15,591.34 161.83,593.6 164.39,595.91 166.84,598.26 169.17,600.66 171.38,603.09 173.47,605.55 175.43,608.05 177.27,610.58 178.98,613.14 180.56,615.73 182.01,618.34 183.34,620.97 184.53,623.63 185.58,626.3 186.51,629 187.3,631.7 187.95,634.42 188.47,637.15 188.86,639.88 189.1,642.62 189.21,645.36 189.19,648.11 187.23,648.09 187.25,645.37 187.14,642.66 186.9,639.96 186.52,637.25 186.01,634.56 185.36,631.87 184.58,629.2 183.67,626.54 182.62,623.9 181.45,621.27 180.14,618.67 178.7,616.09 177.14,613.53 175.45,611 173.63,608.5 171.69,606.03 169.63,603.6 167.45,601.2 165.15,598.83 162.73,596.51 160.2,594.23 157.55,591.99 154.8,589.79 151.93,587.64 148.96,585.54 145.89,583.49 142.71,581.49 139.44,579.55" fill="#1e3886" stroke="#1e3886" stroke-width="0.35"/>
<polygon points="139.44,565.15 142.71,567.09 145.89,569.09 148.96,571.14 151.93,573.24 154.8,575.39 157.55,577.59 160.2,579.83 162.73,582.11 165.15,584.43 167.45,586.8 169.63,589.2 171.69,591.63 173.63,594.1 175.45,596.6 177.14,599.13 178.7,601.69 180.14,604.27 181.45,606.87 182.62,609.5 183.67,612.14 184.58,614.8 185.36,617.47 186.01,620.16 186.52,622.85 186.9,625.56 187.14,628.26 187.25,630.97 187.23,633.69 178.29,633.58 178.31,631.02 178.21,628.46 177.98,625.9 177.62,623.34 177.14,620.8 176.52,618.26 175.79,615.73 174.92,613.22 173.94,610.72 172.82,608.24 171.59,605.78 170.23,603.34 168.75,600.92 167.15,598.53 165.44,596.17 163.6,593.83 161.66,591.53 159.59,589.26 157.42,587.03 155.13,584.83 152.74,582.67 150.24,580.55 147.63,578.48 144.92,576.45 142.12,574.46 139.21,572.53 136.21,570.64 133.12,568.8" fill="#1e3886" stroke="#1e3886" stroke-width="0.35"/>
<polygon points="129.92,556.25 132.85,557.99 135.69,559.77 138.44,561.61 141.11,563.48 143.68,565.4 146.16,567.36 148.54,569.35 150.83,571.39 153.01,573.46 155.1,575.57 157.08,577.71 158.95,579.88 160.72,582.08 162.39,584.31 163.94,586.56 165.38,588.84 166.71,591.14 167.93,593.46 169.04,595.8 170.03,598.16 170.91,600.53 171.67,602.91 172.32,605.31 172.85,607.72 173.26,610.13 173.55,612.55 173.73,614.97 173.79,617.4 173.79,631.8 173.73,629.37 173.55,626.95 173.26,624.53 172.85,622.12 172.32,619.71 171.67,617.31 170.91,614.93 170.03,612.56 169.04,610.2 167.93,607.86 166.71,605.54 165.38,603.24 163.94,600.96 162.39,598.71 160.72,596.48 158.95,594.28 157.08,592.11 155.1,589.97 153.01,587.86 150.83,585.79 148.54,583.75 146.16,581.76 143.68,579.8 141.11,577.88 138.44,576.01 135.69,574.17 132.85,572.39 129.92,570.65" fill="#7c0f14" stroke="#7c0f14" stroke-width="0.35"/>
<polygon points="133.12,554.4 136.21,556.24 139.21,558.13 142.12,560.06 144.92,562.05 147.63,564.08 150.24,566.15 152.74,568.27 155.13,570.43 157.42,572.63 159.59,574.86 161.66,577.13 163.6,579.43 165.44,581.77 167.15,584.13 168.75,586.52 170.23,588.94 171.59,591.38 172.82,593.84 173.94,596.32 174.92,598.82 175.79,601.33 176.52,603.86 177.14,606.4 177.62,608.94 177.98,611.5 178.21,614.06 178.31,616.62 178.29,619.18 173.76,619.13 173.78,616.64 173.68,614.16 173.46,611.67 173.11,609.19 172.64,606.72 172.05,604.26 171.33,601.8 170.49,599.36 169.54,596.94 168.46,594.53 167.26,592.14 165.94,589.77 164.5,587.43 162.95,585.11 161.29,582.81 159.51,580.55 157.62,578.31 155.61,576.11 153.5,573.94 151.28,571.81 148.96,569.71 146.53,567.66 144,565.64 141.38,563.67 138.65,561.75 135.83,559.87 132.92,558.03 129.92,556.25" fill="#cf1a21" stroke="#cf1a21" stroke-width="0.35"/>
<polygon points="129.92,570.65 132.92,572.43 135.83,574.27 138.65,576.15 141.38,578.07 144,580.04 146.53,582.06 148.96,584.11 151.28,586.21 153.5,588.34 155.61,590.51 157.62,592.71 159.51,594.95 161.29,597.21 162.95,599.51 164.5,601.83 165.94,604.17 167.26,606.54 168.46,608.93 169.54,611.34 170.49,613.76 171.33,616.2 172.05,618.66 172.64,621.12 173.11,623.59 173.46,626.07 173.68,628.56 173.78,631.04 173.76,633.53 170.02,633.49 170.04,631.06 169.95,628.64 169.73,626.21 169.39,623.8 168.93,621.39 168.35,618.98 167.65,616.59 166.84,614.21 165.9,611.85 164.85,609.5 163.68,607.17 162.4,604.86 161,602.57 159.48,600.31 157.86,598.08 156.12,595.87 154.28,593.69 152.33,591.54 150.27,589.43 148.11,587.35 145.84,585.3 143.47,583.3 141.01,581.34 138.45,579.41 135.79,577.54 133.04,575.7 130.2,573.91 127.27,572.18" fill="#1e3886" stroke="#1e3886" stroke-width="0.35"/>
<polygon points="124.07,559.62 126.84,561.27 129.52,562.95 132.13,564.69 134.65,566.46 137.08,568.27 139.42,570.12 141.67,572.01 143.83,573.93 145.89,575.89 147.86,577.88 149.73,579.9 151.51,581.95 153.18,584.03 154.75,586.13 156.22,588.26 157.58,590.41 158.84,592.59 159.99,594.78 161.03,596.99 161.97,599.22 162.8,601.46 163.52,603.71 164.13,605.98 164.63,608.25 165.02,610.53 165.3,612.82 165.46,615.11 165.52,617.4 165.52,631.8 165.46,629.51 165.3,627.22 165.02,624.93 164.63,622.65 164.13,620.38 163.52,618.11 162.8,615.86 161.97,613.62 161.03,611.39 159.99,609.18 158.84,606.99 157.58,604.81 156.22,602.66 154.75,600.53 153.18,598.43 151.51,596.35 149.73,594.3 147.86,592.28 145.89,590.29 143.83,588.33 141.67,586.41 139.42,584.52 137.08,582.67 134.65,580.86 132.13,579.09 129.52,577.35 126.84,575.67 124.07,574.02" fill="#7c0f14" stroke="#7c0f14" stroke-width="0.35"/>
<polygon points="127.27,557.78 130.2,559.51 133.04,561.3 135.79,563.14 138.45,565.01 141.01,566.94 143.47,568.9 145.84,570.9 148.11,572.95 150.27,575.03 152.33,577.14 154.28,579.29 156.12,581.47 157.86,583.68 159.48,585.91 161,588.17 162.4,590.46 163.68,592.77 164.85,595.1 165.9,597.45 166.84,599.81 167.65,602.19 168.35,604.58 168.93,606.99 169.39,609.4 169.73,611.81 169.95,614.24 170.04,616.66 170.02,619.09 165.49,619.03 165.52,616.68 165.42,614.33 165.21,611.99 164.88,609.64 164.44,607.31 163.88,604.98 163.2,602.66 162.41,600.36 161.5,598.07 160.48,595.79 159.35,593.53 158.1,591.3 156.75,589.08 155.28,586.89 153.71,584.72 152.03,582.58 150.24,580.47 148.35,578.39 146.35,576.34 144.26,574.33 142.06,572.35 139.77,570.4 137.38,568.5 134.9,566.64 132.32,564.82 129.66,563.04 126.91,561.31 124.07,559.62" fill="#cf1a21" stroke="#cf1a21" stroke-width="0.35"/>
<polygon points="124.07,574.02 126.91,575.71 129.66,577.44 132.32,579.22 134.9,581.04 137.38,582.9 139.77,584.8 142.06,586.75 144.26,588.73 146.35,590.74 148.35,592.79 150.24,594.87 152.03,596.98 153.71,599.12 155.28,601.29 156.75,603.48 158.1,605.7 159.35,607.93 160.48,610.19 161.5,612.47 162.41,614.76 163.2,617.06 163.88,619.38 164.44,621.71 164.88,624.04 165.21,626.39 165.42,628.73 165.52,631.08 165.49,633.43 161.75,633.39 161.78,631.1 161.68,628.82 161.48,626.53 161.16,624.25 160.73,621.98 160.18,619.71 159.52,617.45 158.75,615.21 157.87,612.98 156.88,610.76 155.77,608.57 154.56,606.39 153.24,604.23 151.81,602.09 150.28,599.98 148.64,597.9 146.9,595.85 145.06,593.82 143.12,591.82 141.08,589.86 138.94,587.94 136.71,586.05 134.38,584.19 131.97,582.38 129.46,580.61 126.87,578.88 124.19,577.19 121.43,575.55" fill="#1e3886" stroke="#1e3886" stroke-width="0.35"/>
<polygon points="118.22,563 120.83,564.55 123.36,566.14 125.81,567.76 128.18,569.43 130.47,571.14 132.68,572.88 134.8,574.66 136.83,576.47 138.77,578.31 140.63,580.19 142.39,582.09 144.06,584.02 145.63,585.98 147.11,587.96 148.49,589.96 149.77,591.99 150.96,594.04 152.04,596.1 153.03,598.18 153.91,600.28 154.69,602.39 155.37,604.51 155.94,606.65 156.41,608.79 156.78,610.93 157.04,613.09 157.2,615.24 157.25,617.4 157.25,631.8 157.2,629.64 157.04,627.49 156.78,625.33 156.41,623.19 155.94,621.05 155.37,618.91 154.69,616.79 153.91,614.68 153.03,612.58 152.04,610.5 150.96,608.44 149.77,606.39 148.49,604.36 147.11,602.36 145.63,600.38 144.06,598.42 142.39,596.49 140.63,594.59 138.77,592.71 136.83,590.87 134.8,589.06 132.68,587.28 130.47,585.54 128.18,583.83 125.81,582.16 123.36,580.54 120.83,578.95 118.22,577.4" fill="#7c0f14" stroke="#7c0f14" stroke-width="0.35"/>
<polygon points="121.43,561.15 124.19,562.79 126.87,564.48 129.46,566.21 131.97,567.98 134.38,569.79 136.71,571.65 138.94,573.54 141.08,575.46 143.12,577.42 145.06,579.42 146.9,581.45 148.64,583.5 150.28,585.58 151.81,587.69 153.24,589.83 154.56,591.99 155.77,594.17 156.88,596.36 157.87,598.58 158.75,600.81 159.52,603.05 160.18,605.31 160.73,607.58 161.16,609.85 161.48,612.13 161.68,614.42 161.78,616.7 161.75,618.99 157.23,618.94 157.25,616.73 157.16,614.51 156.96,612.3 156.65,610.1 156.23,607.9 155.7,605.71 155.07,603.52 154.32,601.35 153.47,599.2 152.51,597.05 151.44,594.93 150.27,592.82 148.99,590.74 147.61,588.67 146.13,586.63 144.55,584.62 142.86,582.63 141.08,580.67 139.2,578.74 137.23,576.84 135.16,574.98 133,573.15 130.76,571.36 128.42,569.6 125.99,567.89 123.49,566.22 120.89,564.59 118.22,563" fill="#cf1a21" stroke="#cf1a21" stroke-width="0.35"/>
<polygon points="118.22,577.4 120.89,578.99 123.49,580.62 125.99,582.29 128.42,584 130.76,585.76 133,587.55 135.16,589.38 137.23,591.24 139.2,593.14 141.08,595.07 142.86,597.03 144.55,599.02 146.13,601.03 147.61,603.07 148.99,605.14 150.27,607.22 151.44,609.33 152.51,611.45 153.47,613.6 154.32,615.75 155.07,617.92 155.7,620.11 156.23,622.3 156.65,624.5 156.96,626.7 157.16,628.91 157.25,631.13 157.23,633.34 155.27,633.32 155.29,631.14 155.2,628.96 155,626.78 154.7,624.61 154.29,622.44 153.77,620.28 153.14,618.13 152.41,615.99 151.56,613.86 150.62,611.75 149.57,609.66 148.41,607.58 147.15,605.53 145.79,603.49 144.33,601.48 142.77,599.5 141.12,597.54 139.36,595.61 137.51,593.71 135.57,591.84 133.53,590 131.4,588.2 129.19,586.44 126.88,584.71 124.49,583.02 122.02,581.37 119.47,579.76 116.84,578.2" fill="#1e3886" stroke="#1e3886" stroke-width="0.35"/>
<polygon points="116.84,563.8 119.47,565.36 122.02,566.97 124.49,568.62 126.88,570.31 129.19,572.04 131.4,573.8 133.53,575.6 135.57,577.44 137.51,579.31 139.36,581.21 141.12,583.14 142.77,585.1 144.33,587.08 145.79,589.09 147.15,591.13 148.41,593.18 149.57,595.26 150.62,597.35 151.56,599.46 152.41,601.59 153.14,603.73 153.77,605.88 154.29,608.04 154.7,610.21 155,612.38 155.2,614.56 155.29,616.74 155.27,618.92 144.61,618.79 144.63,616.79 144.55,614.79 144.37,612.79 144.09,610.79 143.71,608.8 143.24,606.81 142.66,604.84 141.98,602.87 141.21,600.92 140.34,598.98 139.38,597.06 138.32,595.15 137.16,593.26 135.91,591.39 134.57,589.54 133.14,587.72 131.61,585.92 130,584.15 128.3,582.4 126.51,580.68 124.64,578.99 122.69,577.34 120.65,575.72 118.53,574.13 116.34,572.58 114.07,571.06 111.72,569.59 109.3,568.15" fill="#1e3886" stroke="#1e3886" stroke-width="0.35"/>
<polygon points="106.34,555.46 108.62,556.81 110.83,558.2 112.97,559.62 115.04,561.08 117.05,562.57 118.97,564.09 120.83,565.65 122.6,567.23 124.3,568.84 125.92,570.48 127.46,572.14 128.92,573.83 130.29,575.54 131.59,577.27 132.79,579.02 133.92,580.79 134.95,582.58 135.9,584.39 136.76,586.21 137.53,588.04 138.21,589.88 138.81,591.74 139.31,593.6 139.72,595.47 140.04,597.35 140.27,599.23 140.4,601.11 140.45,603 140.45,617.4 140.4,615.51 140.27,613.63 140.04,611.75 139.72,609.87 139.31,608 138.81,606.14 138.21,604.28 137.53,602.44 136.76,600.61 135.9,598.79 134.95,596.98 133.92,595.19 132.79,593.42 131.59,591.67 130.29,589.94 128.92,588.23 127.46,586.54 125.92,584.88 124.3,583.24 122.6,581.63 120.83,580.05 118.97,578.49 117.05,576.97 115.04,575.48 112.97,574.02 110.83,572.6 108.62,571.21 106.34,569.86" fill="#7c0f14" stroke="#7c0f14" stroke-width="0.35"/>
<polygon points="109.3,553.75 111.72,555.19 114.07,556.66 116.34,558.18 118.53,559.73 120.65,561.32 122.69,562.94 124.64,564.59 126.51,566.28 128.3,568 130,569.75 131.61,571.52 133.14,573.32 134.57,575.14 135.91,576.99 137.16,578.86 138.32,580.75 139.38,582.66 140.34,584.58 141.21,586.52 141.98,588.47 142.66,590.44 143.24,592.41 143.71,594.4 144.09,596.39 144.37,598.39 144.55,600.39 144.63,602.39 144.61,604.39 140.43,604.34 140.45,602.41 140.37,600.48 140.19,598.55 139.92,596.62 139.56,594.7 139.1,592.78 138.54,590.87 137.89,588.98 137.14,587.09 136.3,585.22 135.37,583.36 134.35,581.52 133.23,579.7 132.03,577.89 130.73,576.11 129.35,574.35 127.88,572.61 126.32,570.9 124.68,569.21 122.95,567.56 121.15,565.93 119.26,564.33 117.29,562.76 115.25,561.23 113.13,559.73 110.94,558.27 108.68,556.85 106.34,555.46" fill="#cf1a21" stroke="#cf1a21" stroke-width="0.35"/>
<polygon points="106.34,569.86 108.68,571.25 110.94,572.67 113.13,574.13 115.25,575.63 117.29,577.16 119.26,578.73 121.15,580.33 122.95,581.96 124.68,583.61 126.32,585.3 127.88,587.01 129.35,588.75 130.73,590.51 132.03,592.29 133.23,594.1 134.35,595.92 135.37,597.76 136.3,599.62 137.14,601.49 137.89,603.38 138.54,605.27 139.1,607.18 139.56,609.1 139.92,611.02 140.19,612.95 140.37,614.88 140.45,616.81 140.43,618.74 136.97,618.7 136.99,616.83 136.91,614.95 136.75,613.08 136.48,611.21 136.13,609.34 135.68,607.48 135.14,605.63 134.51,603.79 133.79,601.96 132.97,600.15 132.07,598.35 131.07,596.56 129.99,594.79 128.82,593.04 127.56,591.31 126.22,589.6 124.79,587.91 123.28,586.25 121.69,584.62 120.02,583.01 118.26,581.43 116.43,579.88 114.53,578.36 112.54,576.87 110.49,575.42 108.36,574 106.16,572.62 103.9,571.27" fill="#1e3886" stroke="#1e3886" stroke-width="0.35"/>
<polygon points="100.94,558.58 103.07,559.84 105.13,561.14 107.13,562.47 109.07,563.83 110.94,565.23 112.74,566.65 114.47,568.1 116.13,569.58 117.72,571.08 119.23,572.61 120.67,574.17 122.03,575.74 123.32,577.34 124.52,578.96 125.65,580.6 126.7,582.25 127.67,583.92 128.55,585.61 129.36,587.31 130.08,589.02 130.72,590.74 131.27,592.48 131.74,594.22 132.12,595.97 132.42,597.72 132.64,599.48 132.76,601.24 132.81,603 132.81,617.4 132.76,615.64 132.64,613.88 132.42,612.12 132.12,610.37 131.74,608.62 131.27,606.88 130.72,605.14 130.08,603.42 129.36,601.71 128.55,600.01 127.67,598.32 126.7,596.65 125.65,595 124.52,593.36 123.32,591.74 122.03,590.14 120.67,588.57 119.23,587.01 117.72,585.48 116.13,583.98 114.47,582.5 112.74,581.05 110.94,579.63 109.07,578.23 107.13,576.87 105.13,575.54 103.07,574.24 100.94,572.98" fill="#7c0f14" stroke="#7c0f14" stroke-width="0.35"/>
<polygon points="103.9,556.87 106.16,558.22 108.36,559.6 110.49,561.02 112.54,562.47 114.53,563.96 116.43,565.48 118.26,567.03 120.02,568.61 121.69,570.22 123.28,571.85 124.79,573.51 126.22,575.2 127.56,576.91 128.82,578.64 129.99,580.39 131.07,582.16 132.07,583.95 132.97,585.75 133.79,587.56 134.51,589.39 135.14,591.23 135.68,593.08 136.13,594.94 136.48,596.81 136.75,598.68 136.91,600.55 136.99,602.43 136.97,604.3 132.79,604.26 132.8,602.45 132.73,600.64 132.57,598.84 132.32,597.04 131.97,595.24 131.54,593.45 131.02,591.67 130.41,589.9 129.72,588.14 128.93,586.39 128.06,584.65 127.11,582.93 126.06,581.23 124.94,579.54 123.73,577.88 122.43,576.23 121.06,574.61 119.6,573.01 118.07,571.43 116.46,569.88 114.77,568.36 113.01,566.87 111.17,565.4 109.26,563.97 107.28,562.57 105.23,561.21 103.12,559.88 100.94,558.58" fill="#cf1a21" stroke="#cf1a21" stroke-width="0.35"/>
<polygon points="100.94,572.98 103.12,574.28 105.23,575.61 107.28,576.97 109.26,578.37 111.17,579.8 113.01,581.27 114.77,582.76 116.46,584.28 118.07,585.83 119.6,587.41 121.06,589.01 122.43,590.63 123.73,592.28 124.94,593.94 126.06,595.63 127.11,597.33 128.06,599.05 128.93,600.79 129.72,602.54 130.41,604.3 131.02,606.07 131.54,607.85 131.97,609.64 132.32,611.44 132.57,613.24 132.73,615.04 132.8,616.85 132.79,618.66 129.33,618.62 129.35,616.87 129.28,615.12 129.12,613.37 128.88,611.63 128.54,609.89 128.13,608.16 127.62,606.43 127.03,604.71 126.36,603.01 125.6,601.31 124.76,599.63 123.83,597.97 122.82,596.32 121.73,594.69 120.56,593.07 119.31,591.48 117.98,589.91 116.57,588.36 115.08,586.83 113.52,585.33 111.89,583.86 110.18,582.42 108.4,581 106.55,579.61 104.64,578.26 102.65,576.93 100.61,575.65 98.49,574.39" fill="#1e3886" stroke="#1e3886" stroke-width="0.35"/>
<polygon points="95.53,561.7 97.51,562.87 99.43,564.08 101.29,565.32 103.09,566.58 104.83,567.88 106.51,569.2 108.11,570.55 109.66,571.93 111.13,573.32 112.54,574.75 113.88,576.19 115.15,577.66 116.34,579.14 117.46,580.65 118.51,582.17 119.49,583.71 120.39,585.26 121.21,586.83 121.96,588.41 122.63,590 123.22,591.61 123.73,593.22 124.17,594.84 124.53,596.46 124.81,598.09 125,599.73 125.12,601.36 125.16,603 125.16,617.4 125.12,615.76 125,614.13 124.81,612.49 124.53,610.86 124.17,609.24 123.73,607.62 123.22,606.01 122.63,604.4 121.96,602.81 121.21,601.23 120.39,599.66 119.49,598.11 118.51,596.57 117.46,595.05 116.34,593.54 115.15,592.06 113.88,590.59 112.54,589.15 111.13,587.72 109.66,586.33 108.11,584.95 106.51,583.6 104.83,582.28 103.09,580.98 101.29,579.72 99.43,578.48 97.51,577.27 95.53,576.1" fill="#7c0f14" stroke="#7c0f14" stroke-width="0.35"/>
<polygon points="98.49,559.99 100.61,561.25 102.65,562.53 104.64,563.86 106.55,565.21 108.4,566.6 110.18,568.02 111.89,569.46 113.52,570.93 115.08,572.43 116.57,573.96 117.98,575.51 119.31,577.08 120.56,578.67 121.73,580.29 122.82,581.92 123.83,583.57 124.76,585.23 125.6,586.91 126.36,588.61 127.03,590.31 127.62,592.03 128.13,593.76 128.54,595.49 128.88,597.23 129.12,598.97 129.28,600.72 129.35,602.47 129.33,604.22 125.14,604.17 125.16,602.49 125.09,600.81 124.94,599.13 124.71,597.46 124.39,595.79 123.99,594.12 123.5,592.47 122.94,590.82 122.29,589.18 121.56,587.55 120.75,585.94 119.86,584.34 118.89,582.76 117.85,581.19 116.72,579.64 115.52,578.11 114.24,576.6 112.89,575.11 111.46,573.65 109.96,572.21 108.39,570.79 106.76,569.41 105.05,568.05 103.27,566.71 101.43,565.41 99.53,564.14 97.56,562.9 95.53,561.7" fill="#cf1a21" stroke="#cf1a21" stroke-width="0.35"/>
<polygon points="95.53,576.1 97.56,577.3 99.53,578.54 101.43,579.81 103.27,581.11 105.05,582.45 106.76,583.81 108.39,585.19 109.96,586.61 111.46,588.05 112.89,589.51 114.24,591 115.52,592.51 116.72,594.04 117.85,595.59 118.89,597.16 119.86,598.74 120.75,600.34 121.56,601.95 122.29,603.58 122.94,605.22 123.5,606.87 123.99,608.52 124.39,610.19 124.71,611.86 124.94,613.53 125.09,615.21 125.16,616.89 125.14,618.57 123.18,618.55 123.2,616.9 123.13,615.25 122.99,613.61 122.76,611.96 122.44,610.33 122.05,608.69 121.58,607.07 121.02,605.45 120.39,603.85 119.67,602.25 118.88,600.67 118.01,599.1 117.06,597.55 116.03,596.01 114.92,594.49 113.75,592.99 112.49,591.51 111.17,590.05 109.77,588.62 108.3,587.21 106.76,585.82 105.15,584.46 103.48,583.12 101.74,581.82 99.93,580.54 98.07,579.3 96.14,578.08 94.15,576.9" fill="#1e3886" stroke="#1e3886" stroke-width="0.35"/>
<polygon points="94.15,562.5 97.97,564.83 101.56,567.29 104.91,569.86 108,572.53 110.83,575.29 113.38,578.15 115.65,581.08 117.64,584.08 119.33,587.14 120.72,590.25 121.8,593.41 122.58,596.59 123.05,599.79 123.2,603 123.05,606.21 122.58,609.41 121.8,612.59 120.72,615.75 119.33,618.86 117.64,621.92 115.65,624.92 113.38,627.85 110.83,630.71 108,633.47 104.91,636.14 101.56,638.71 97.97,641.17 94.15,643.5 24,603" fill="#1e3886" stroke="#1e3886" stroke-width="0.35"/>
<polygon points="123.2,603 123.17,604.61 123.05,606.21 122.85,607.81 122.58,609.41 122.23,611.01 121.8,612.59 121.3,614.17 120.72,615.75 120.06,617.31 119.33,618.86 118.52,620.39 117.64,621.92 116.68,623.43 115.65,624.92 114.55,626.39 113.38,627.85 112.14,629.29 110.83,630.71 109.45,632.1 108,633.47 106.49,634.82 104.91,636.14 103.27,637.44 101.56,638.71 99.8,639.95 97.97,641.17 96.09,642.35 94.15,643.5 94.15,657.9 96.09,656.75 97.97,655.57 99.8,654.35 101.56,653.11 103.27,651.84 104.91,650.54 106.49,649.22 108,647.87 109.45,646.5 110.83,645.11 112.14,643.69 113.38,642.25 114.55,640.79 115.65,639.32 116.68,637.83 117.64,636.32 118.52,634.79 119.33,633.26 120.06,631.71 120.72,630.15 121.3,628.57 121.8,626.99 122.23,625.41 122.58,623.81 122.85,622.21 123.05,620.61 123.17,619.01 123.2,617.4" fill="#1a2f78" stroke="#1a2f78" stroke-width="0.35"/>
<polygon points="125.16,617.4 125.12,619.04 125,620.67 124.81,622.31 124.53,623.94 124.17,625.56 123.73,627.18 123.22,628.79 122.63,630.4 121.96,631.99 121.21,633.57 120.39,635.14 119.49,636.69 118.51,638.23 117.46,639.75 116.34,641.26 115.15,642.74 113.88,644.21 112.54,645.65 111.13,647.08 109.66,648.47 108.11,649.85 106.51,651.2 104.83,652.52 103.09,653.82 101.29,655.08 99.43,656.32 97.51,657.53 95.53,658.7 94.15,657.9 96.09,656.75 97.97,655.57 99.8,654.35 101.56,653.11 103.27,651.84 104.91,650.54 106.49,649.22 108,647.87 109.45,646.5 110.83,645.11 112.14,643.69 113.38,642.25 114.55,640.79 115.65,639.32 116.68,637.83 117.64,636.32 118.52,634.79 119.33,633.26 120.06,631.71 120.72,630.15 121.3,628.57 121.8,626.99 122.23,625.41 122.58,623.81 122.85,622.21 123.05,620.61 123.17,619.01 123.2,617.4" fill="#1e3886" stroke="#1e3886" stroke-width="0.35"/>
<polygon points="129.35,603 129.31,604.71 129.18,606.41 128.98,608.11 128.69,609.81 128.32,611.5 127.86,613.19 127.33,614.87 126.71,616.53 126.01,618.19 125.23,619.84 124.38,621.47 123.44,623.09 122.42,624.69 121.33,626.28 120.16,627.84 118.92,629.39 117.6,630.92 116.21,632.42 114.74,633.9 113.2,635.36 111.6,636.79 109.92,638.2 108.18,639.57 106.37,640.92 104.49,642.24 102.55,643.53 100.55,644.79 98.49,646.01 95.53,644.3 97.51,643.13 99.43,641.92 101.29,640.68 103.09,639.42 104.83,638.12 106.51,636.8 108.11,635.45 109.66,634.07 111.13,632.68 112.54,631.25 113.88,629.81 115.15,628.34 116.34,626.86 117.46,625.35 118.51,623.83 119.49,622.29 120.39,620.74 121.21,619.17 121.96,617.59 122.63,616 123.22,614.39 123.73,612.78 124.17,611.16 124.53,609.54 124.81,607.91 125,606.27 125.12,604.64 125.16,603" fill="#cf1a21" stroke="#cf1a21" stroke-width="0.35"/>
<polygon points="129.35,603 129.31,604.71 129.18,606.41 128.98,608.11 128.69,609.81 128.32,611.5 127.86,613.19 127.33,614.87 126.71,616.53 126.01,618.19 125.23,619.84 124.38,621.47 123.44,623.09 122.42,624.69 121.33,626.28 120.16,627.84 118.92,629.39 117.6,630.92 116.21,632.42 114.74,633.9 113.2,635.36 111.6,636.79 109.92,638.2 108.18,639.57 106.37,640.92 104.49,642.24 102.55,643.53 100.55,644.79 98.49,646.01 98.49,660.41 100.55,659.19 102.55,657.93 104.49,656.64 106.37,655.32 108.18,653.97 109.92,652.6 111.6,651.19 113.2,649.76 114.74,648.3 116.21,646.82 117.6,645.32 118.92,643.79 120.16,642.24 121.33,640.68 122.42,639.09 123.44,637.49 124.38,635.87 125.23,634.24 126.01,632.59 126.71,630.93 127.33,629.27 127.86,627.59 128.32,625.9 128.69,624.21 128.98,622.51 129.18,620.81 129.31,619.11 129.35,617.4" fill="#a8151b" stroke="#a8151b" stroke-width="0.35"/>
<polygon points="132.81,617.4 132.76,619.16 132.64,620.92 132.42,622.68 132.12,624.43 131.74,626.18 131.27,627.92 130.72,629.66 130.08,631.38 129.36,633.09 128.55,634.79 127.67,636.48 126.7,638.15 125.65,639.8 124.52,641.44 123.32,643.06 122.03,644.66 120.67,646.23 119.23,647.79 117.72,649.32 116.13,650.82 114.47,652.3 112.74,653.75 110.94,655.17 109.07,656.57 107.13,657.93 105.13,659.26 103.07,660.56 100.94,661.82 98.49,660.41 100.55,659.19 102.55,657.93 104.49,656.64 106.37,655.32 108.18,653.97 109.92,652.6 111.6,651.19 113.2,649.76 114.74,648.3 116.21,646.82 117.6,645.32 118.92,643.79 120.16,642.24 121.33,640.68 122.42,639.09 123.44,637.49 124.38,635.87 125.23,634.24 126.01,632.59 126.71,630.93 127.33,629.27 127.86,627.59 128.32,625.9 128.69,624.21 128.98,622.51 129.18,620.81 129.31,619.11 129.35,617.4" fill="#1e3886" stroke="#1e3886" stroke-width="0.35"/>
<polygon points="136.99,603 136.95,604.83 136.82,606.66 136.59,608.48 136.28,610.3 135.88,612.12 135.4,613.93 134.82,615.73 134.16,617.52 133.41,619.29 132.58,621.06 131.66,622.81 130.65,624.55 129.56,626.26 128.39,627.97 127.14,629.65 125.8,631.31 124.39,632.94 122.9,634.56 121.32,636.15 119.67,637.71 117.95,639.24 116.15,640.75 114.28,642.23 112.34,643.67 110.33,645.09 108.25,646.47 106.11,647.82 103.9,649.13 100.94,647.42 103.07,646.16 105.13,644.86 107.13,643.53 109.07,642.17 110.94,640.77 112.74,639.35 114.47,637.9 116.13,636.42 117.72,634.92 119.23,633.39 120.67,631.83 122.03,630.26 123.32,628.66 124.52,627.04 125.65,625.4 126.7,623.75 127.67,622.08 128.55,620.39 129.36,618.69 130.08,616.98 130.72,615.26 131.27,613.52 131.74,611.78 132.12,610.03 132.42,608.28 132.64,606.52 132.76,604.76 132.81,603" fill="#cf1a21" stroke="#cf1a21" stroke-width="0.35"/>
<polygon points="136.99,603 136.95,604.83 136.82,606.66 136.59,608.48 136.28,610.3 135.88,612.12 135.4,613.93 134.82,615.73 134.16,617.52 133.41,619.29 132.58,621.06 131.66,622.81 130.65,624.55 129.56,626.26 128.39,627.97 127.14,629.65 125.8,631.31 124.39,632.94 122.9,634.56 121.32,636.15 119.67,637.71 117.95,639.24 116.15,640.75 114.28,642.23 112.34,643.67 110.33,645.09 108.25,646.47 106.11,647.82 103.9,649.13 103.9,663.53 106.11,662.22 108.25,660.87 110.33,659.49 112.34,658.07 114.28,656.63 116.15,655.15 117.95,653.64 119.67,652.11 121.32,650.55 122.9,648.96 124.39,647.34 125.8,645.71 127.14,644.05 128.39,642.37 129.56,640.66 130.65,638.95 131.66,637.21 132.58,635.46 133.41,633.69 134.16,631.92 134.82,630.13 135.4,628.33 135.88,626.52 136.28,624.7 136.59,622.88 136.82,621.06 136.95,619.23 136.99,617.4" fill="#a8151b" stroke="#a8151b" stroke-width="0.35"/>
<polygon points="140.45,617.4 140.4,619.29 140.27,621.17 140.04,623.05 139.72,624.93 139.31,626.8 138.81,628.66 138.21,630.52 137.53,632.36 136.76,634.19 135.9,636.01 134.95,637.82 133.92,639.61 132.79,641.38 131.59,643.13 130.29,644.86 128.92,646.57 127.46,648.26 125.92,649.92 124.3,651.56 122.6,653.17 120.83,654.75 118.97,656.31 117.05,657.83 115.04,659.32 112.97,660.78 110.83,662.2 108.62,663.59 106.34,664.94 103.9,663.53 106.11,662.22 108.25,660.87 110.33,659.49 112.34,658.07 114.28,656.63 116.15,655.15 117.95,653.64 119.67,652.11 121.32,650.55 122.9,648.96 124.39,647.34 125.8,645.71 127.14,644.05 128.39,642.37 129.56,640.66 130.65,638.95 131.66,637.21 132.58,635.46 133.41,633.69 134.16,631.92 134.82,630.13 135.4,628.33 135.88,626.52 136.28,624.7 136.59,622.88 136.82,621.06 136.95,619.23 136.99,617.4" fill="#1e3886" stroke="#1e3886" stroke-width="0.35"/>
<polygon points="144.64,603 144.59,604.95 144.45,606.91 144.21,608.85 143.88,610.8 143.45,612.74 142.93,614.67 142.32,616.59 141.61,618.5 140.81,620.4 139.92,622.28 138.94,624.15 137.87,626 136.71,627.84 135.45,629.65 134.12,631.45 132.69,633.22 131.18,634.97 129.58,636.69 127.91,638.39 126.15,640.06 124.31,641.7 122.39,643.3 120.39,644.88 118.32,646.43 116.17,647.94 113.95,649.41 111.66,650.85 109.3,652.25 106.34,650.54 108.62,649.19 110.83,647.8 112.97,646.38 115.04,644.92 117.05,643.43 118.97,641.91 120.83,640.35 122.6,638.77 124.3,637.16 125.92,635.52 127.46,633.86 128.92,632.17 130.29,630.46 131.59,628.73 132.79,626.98 133.92,625.21 134.95,623.42 135.9,621.61 136.76,619.79 137.53,617.96 138.21,616.12 138.81,614.26 139.31,612.4 139.72,610.53 140.04,608.65 140.27,606.77 140.4,604.89 140.45,603" fill="#cf1a21" stroke="#cf1a21" stroke-width="0.35"/>
<polygon points="144.64,603 144.59,604.95 144.45,606.91 144.21,608.85 143.88,610.8 143.45,612.74 142.93,614.67 142.32,616.59 141.61,618.5 140.81,620.4 139.92,622.28 138.94,624.15 137.87,626 136.71,627.84 135.45,629.65 134.12,631.45 132.69,633.22 131.18,634.97 129.58,636.69 127.91,638.39 126.15,640.06 124.31,641.7 122.39,643.3 120.39,644.88 118.32,646.43 116.17,647.94 113.95,649.41 111.66,650.85 109.3,652.25 109.3,666.65 111.66,665.25 113.95,663.81 116.17,662.34 118.32,660.83 120.39,659.28 122.39,657.7 124.31,656.1 126.15,654.46 127.91,652.79 129.58,651.09 131.18,649.37 132.69,647.62 134.12,645.85 135.45,644.05 136.71,642.24 137.87,640.4 138.94,638.55 139.92,636.68 140.81,634.8 141.61,632.9 142.32,630.99 142.93,629.07 143.45,627.14 143.88,625.2 144.21,623.25 144.45,621.31 144.59,619.35 144.64,617.4" fill="#a8151b" stroke="#a8151b" stroke-width="0.35"/>
<polygon points="155.29,617.4 155.24,619.53 155.09,621.65 154.83,623.77 154.47,625.89 154,628 153.44,630.1 152.77,632.19 152,634.27 151.13,636.33 150.16,638.38 149.09,640.42 147.92,642.44 146.66,644.43 145.3,646.41 143.84,648.36 142.29,650.29 140.65,652.19 138.91,654.07 137.08,655.91 135.17,657.73 133.17,659.51 131.08,661.26 128.9,662.98 126.65,664.66 124.31,666.31 121.9,667.91 119.41,669.48 116.84,671 109.3,666.65 111.66,665.25 113.95,663.81 116.17,662.34 118.32,660.83 120.39,659.28 122.39,657.7 124.31,656.1 126.15,654.46 127.91,652.79 129.58,651.09 131.18,649.37 132.69,647.62 134.12,645.85 135.45,644.05 136.71,642.24 137.87,640.4 138.94,638.55 139.92,636.68 140.81,634.8 141.61,632.9 142.32,630.99 142.93,629.07 143.45,627.14 143.88,625.2 144.21,623.25 144.45,621.31 144.59,619.35 144.64,617.4" fill="#1e3886" stroke="#1e3886" stroke-width="0.35"/>
<polygon points="155.29,617.4 155.24,619.53 155.09,621.65 154.83,623.77 154.47,625.89 154,628 153.44,630.1 152.77,632.19 152,634.27 151.13,636.33 150.16,638.38 149.09,640.42 147.92,642.44 146.66,644.43 145.3,646.41 143.84,648.36 142.29,650.29 140.65,652.19 138.91,654.07 137.08,655.91 135.17,657.73 133.17,659.51 131.08,661.26 128.9,662.98 126.65,664.66 124.31,666.31 121.9,667.91 119.41,669.48 116.84,671 116.84,685.4 119.41,683.88 121.9,682.31 124.31,680.71 126.65,679.06 128.9,677.38 131.08,675.66 133.17,673.91 135.17,672.13 137.08,670.31 138.91,668.47 140.65,666.59 142.29,664.69 143.84,662.76 145.3,660.81 146.66,658.83 147.92,656.84 149.09,654.82 150.16,652.78 151.13,650.73 152,648.67 152.77,646.59 153.44,644.5 154,642.4 154.47,640.29 154.83,638.17 155.09,636.05 155.24,633.93 155.29,631.8" fill="#1a2f78" stroke="#1a2f78" stroke-width="0.35"/>
<polygon points="157.25,631.8 157.2,633.96 157.04,636.11 156.78,638.27 156.41,640.41 155.94,642.55 155.37,644.69 154.69,646.81 153.91,648.92 153.03,651.02 152.04,653.1 150.96,655.16 149.77,657.21 148.49,659.24 147.11,661.24 145.63,663.22 144.06,665.18 142.39,667.11 140.63,669.01 138.77,670.89 136.83,672.73 134.8,674.54 132.68,676.32 130.47,678.06 128.18,679.77 125.81,681.44 123.36,683.06 120.83,684.65 118.22,686.2 116.84,685.4 119.41,683.88 121.9,682.31 124.31,680.71 126.65,679.06 128.9,677.38 131.08,675.66 133.17,673.91 135.17,672.13 137.08,670.31 138.91,668.47 140.65,666.59 142.29,664.69 143.84,662.76 145.3,660.81 146.66,658.83 147.92,656.84 149.09,654.82 150.16,652.78 151.13,650.73 152,648.67 152.77,646.59 153.44,644.5 154,642.4 154.47,640.29 154.83,638.17 155.09,636.05 155.24,633.93 155.29,631.8" fill="#1e3886" stroke="#1e3886" stroke-width="0.35"/>
<polygon points="161.78,617.4 161.73,619.63 161.56,621.86 161.29,624.09 160.92,626.31 160.43,628.52 159.83,630.72 159.13,632.92 158.33,635.1 157.41,637.27 156.4,639.42 155.27,641.56 154.05,643.67 152.72,645.77 151.29,647.84 149.76,649.89 148.14,651.91 146.41,653.91 144.59,655.88 142.67,657.82 140.66,659.72 138.56,661.59 136.37,663.43 134.09,665.23 131.72,667 129.27,668.72 126.74,670.41 124.12,672.05 121.43,673.65 118.22,671.8 120.83,670.25 123.36,668.66 125.81,667.04 128.18,665.37 130.47,663.66 132.68,661.92 134.8,660.14 136.83,658.33 138.77,656.49 140.63,654.61 142.39,652.71 144.06,650.78 145.63,648.82 147.11,646.84 148.49,644.84 149.77,642.81 150.96,640.76 152.04,638.7 153.03,636.62 153.91,634.52 154.69,632.41 155.37,630.29 155.94,628.15 156.41,626.01 156.78,623.87 157.04,621.71 157.2,619.56 157.25,617.4" fill="#cf1a21" stroke="#cf1a21" stroke-width="0.35"/>
<polygon points="161.78,617.4 161.73,619.63 161.56,621.86 161.29,624.09 160.92,626.31 160.43,628.52 159.83,630.72 159.13,632.92 158.33,635.1 157.41,637.27 156.4,639.42 155.27,641.56 154.05,643.67 152.72,645.77 151.29,647.84 149.76,649.89 148.14,651.91 146.41,653.91 144.59,655.88 142.67,657.82 140.66,659.72 138.56,661.59 136.37,663.43 134.09,665.23 131.72,667 129.27,668.72 126.74,670.41 124.12,672.05 121.43,673.65 121.43,688.05 124.12,686.45 126.74,684.81 129.27,683.12 131.72,681.4 134.09,679.63 136.37,677.83 138.56,675.99 140.66,674.12 142.67,672.22 144.59,670.28 146.41,668.31 148.14,666.31 149.76,664.29 151.29,662.24 152.72,660.17 154.05,658.07 155.27,655.96 156.4,653.82 157.41,651.67 158.33,649.5 159.13,647.32 159.83,645.12 160.43,642.92 160.92,640.71 161.29,638.49 161.56,636.26 161.73,634.03 161.78,631.8" fill="#a8151b" stroke="#a8151b" stroke-width="0.35"/>
<polygon points="165.52,631.8 165.46,634.09 165.3,636.38 165.02,638.67 164.63,640.95 164.13,643.22 163.52,645.49 162.8,647.74 161.97,649.98 161.03,652.21 159.99,654.42 158.84,656.61 157.58,658.79 156.22,660.94 154.75,663.07 153.18,665.17 151.51,667.25 149.73,669.3 147.86,671.32 145.89,673.31 143.83,675.27 141.67,677.19 139.42,679.08 137.08,680.93 134.65,682.74 132.13,684.51 129.52,686.25 126.84,687.93 124.07,689.58 121.43,688.05 124.12,686.45 126.74,684.81 129.27,683.12 131.72,681.4 134.09,679.63 136.37,677.83 138.56,675.99 140.66,674.12 142.67,672.22 144.59,670.28 146.41,668.31 148.14,666.31 149.76,664.29 151.29,662.24 152.72,660.17 154.05,658.07 155.27,655.96 156.4,653.82 157.41,651.67 158.33,649.5 159.13,647.32 159.83,645.12 160.43,642.92 160.92,640.71 161.29,638.49 161.56,636.26 161.73,634.03 161.78,631.8" fill="#1e3886" stroke="#1e3886" stroke-width="0.35"/>
<polygon points="170.05,617.4 169.99,619.76 169.82,622.13 169.53,624.49 169.13,626.84 168.62,629.19 167.99,631.52 167.24,633.85 166.39,636.16 165.42,638.46 164.34,640.74 163.15,643.01 161.85,645.25 160.45,647.47 158.93,649.67 157.31,651.84 155.59,653.99 153.76,656.1 151.83,658.19 149.79,660.24 147.66,662.26 145.44,664.25 143.11,666.19 140.7,668.1 138.19,669.97 135.59,671.8 132.9,673.59 130.13,675.33 127.27,677.02 124.07,675.18 126.84,673.53 129.52,671.85 132.13,670.11 134.65,668.34 137.08,666.53 139.42,664.68 141.67,662.79 143.83,660.87 145.89,658.91 147.86,656.92 149.73,654.9 151.51,652.85 153.18,650.77 154.75,648.67 156.22,646.54 157.58,644.39 158.84,642.21 159.99,640.02 161.03,637.81 161.97,635.58 162.8,633.34 163.52,631.09 164.13,628.82 164.63,626.55 165.02,624.27 165.3,621.98 165.46,619.69 165.52,617.4" fill="#cf1a21" stroke="#cf1a21" stroke-width="0.35"/>
<polygon points="170.05,617.4 169.99,619.76 169.82,622.13 169.53,624.49 169.13,626.84 168.62,629.19 167.99,631.52 167.24,633.85 166.39,636.16 165.42,638.46 164.34,640.74 163.15,643.01 161.85,645.25 160.45,647.47 158.93,649.67 157.31,651.84 155.59,653.99 153.76,656.1 151.83,658.19 149.79,660.24 147.66,662.26 145.44,664.25 143.11,666.19 140.7,668.1 138.19,669.97 135.59,671.8 132.9,673.59 130.13,675.33 127.27,677.02 127.27,691.42 130.13,689.73 132.9,687.99 135.59,686.2 138.19,684.37 140.7,682.5 143.11,680.59 145.44,678.65 147.66,676.66 149.79,674.64 151.83,672.59 153.76,670.5 155.59,668.39 157.31,666.24 158.93,664.07 160.45,661.87 161.85,659.65 163.15,657.41 164.34,655.14 165.42,652.86 166.39,650.56 167.24,648.25 167.99,645.92 168.62,643.59 169.13,641.24 169.53,638.89 169.82,636.53 169.99,634.16 170.05,631.8" fill="#a8151b" stroke="#a8151b" stroke-width="0.35"/>
<polygon points="173.79,631.8 173.73,634.23 173.55,636.65 173.26,639.07 172.85,641.48 172.32,643.89 171.67,646.29 170.91,648.67 170.03,651.04 169.04,653.4 167.93,655.74 166.71,658.06 165.38,660.36 163.94,662.64 162.39,664.89 160.72,667.12 158.95,669.32 157.08,671.49 155.1,673.63 153.01,675.74 150.83,677.81 148.54,679.85 146.16,681.84 143.68,683.8 141.11,685.72 138.44,687.59 135.69,689.43 132.85,691.21 129.92,692.95 127.27,691.42 130.13,689.73 132.9,687.99 135.59,686.2 138.19,684.37 140.7,682.5 143.11,680.59 145.44,678.65 147.66,676.66 149.79,674.64 151.83,672.59 153.76,670.5 155.59,668.39 157.31,666.24 158.93,664.07 160.45,661.87 161.85,659.65 163.15,657.41 164.34,655.14 165.42,652.86 166.39,650.56 167.24,648.25 167.99,645.92 168.62,643.59 169.13,641.24 169.53,638.89 169.82,636.53 169.99,634.16 170.05,631.8" fill="#1e3886" stroke="#1e3886" stroke-width="0.35"/>
<polygon points="178.32,617.4 178.26,619.9 178.08,622.4 177.77,624.89 177.35,627.38 176.8,629.85 176.14,632.32 175.35,634.78 174.45,637.23 173.43,639.65 172.29,642.06 171.03,644.46 169.66,646.83 168.17,649.17 166.57,651.5 164.86,653.79 163.04,656.06 161.1,658.29 159.06,660.5 156.92,662.67 154.66,664.8 152.31,666.9 149.86,668.96 147.3,670.97 144.65,672.95 141.9,674.88 139.07,676.77 136.14,678.61 133.12,680.4 129.92,678.55 132.85,676.81 135.69,675.03 138.44,673.19 141.11,671.32 143.68,669.4 146.16,667.44 148.54,665.45 150.83,663.41 153.01,661.34 155.1,659.23 157.08,657.09 158.95,654.92 160.72,652.72 162.39,650.49 163.94,648.24 165.38,645.96 166.71,643.66 167.93,641.34 169.04,639 170.03,636.64 170.91,634.27 171.67,631.89 172.32,629.49 172.85,627.08 173.26,624.67 173.55,622.25 173.73,619.83 173.79,617.4" fill="#cf1a21" stroke="#cf1a21" stroke-width="0.35"/>
<polygon points="178.32,617.4 178.26,619.9 178.08,622.4 177.77,624.89 177.35,627.38 176.8,629.85 176.14,632.32 175.35,634.78 174.45,637.23 173.43,639.65 172.29,642.06 171.03,644.46 169.66,646.83 168.17,649.17 166.57,651.5 164.86,653.79 163.04,656.06 161.1,658.29 159.06,660.5 156.92,662.67 154.66,664.8 152.31,666.9 149.86,668.96 147.3,670.97 144.65,672.95 141.9,674.88 139.07,676.77 136.14,678.61 133.12,680.4 133.12,694.8 136.14,693.01 139.07,691.17 141.9,689.28 144.65,687.35 147.3,685.37 149.86,683.36 152.31,681.3 154.66,679.2 156.92,677.07 159.06,674.9 161.1,672.69 163.04,670.46 164.86,668.19 166.57,665.9 168.17,663.57 169.66,661.23 171.03,658.86 172.29,656.46 173.43,654.05 174.45,651.63 175.35,649.18 176.14,646.72 176.8,644.25 177.35,641.78 177.77,639.29 178.08,636.8 178.26,634.3 178.32,631.8" fill="#a8151b" stroke="#a8151b" stroke-width="0.35"/>
<polygon points="187.26,631.8 187.19,634.44 187,637.09 186.68,639.72 186.23,642.35 185.66,644.98 184.95,647.59 184.12,650.19 183.17,652.77 182.08,655.34 180.88,657.89 179.55,660.42 178.1,662.93 176.52,665.41 174.83,667.87 173.02,670.3 171.09,672.7 169.05,675.06 166.89,677.39 164.62,679.69 162.23,681.95 159.74,684.17 157.15,686.34 154.45,688.48 151.64,690.57 148.74,692.61 145.73,694.61 142.63,696.55 139.44,698.45 133.12,694.8 136.14,693.01 139.07,691.17 141.9,689.28 144.65,687.35 147.3,685.37 149.86,683.36 152.31,681.3 154.66,679.2 156.92,677.07 159.06,674.9 161.1,672.69 163.04,670.46 164.86,668.19 166.57,665.9 168.17,663.57 169.66,661.23 171.03,658.86 172.29,656.46 173.43,654.05 174.45,651.63 175.35,649.18 176.14,646.72 176.8,644.25 177.35,641.78 177.77,639.29 178.08,636.8 178.26,634.3 178.32,631.8" fill="#1e3886" stroke="#1e3886" stroke-width="0.35"/>
<polygon points="187.26,631.8 187.19,634.44 187,637.09 186.68,639.72 186.23,642.35 185.66,644.98 184.95,647.59 184.12,650.19 183.17,652.77 182.08,655.34 180.88,657.89 179.55,660.42 178.1,662.93 176.52,665.41 174.83,667.87 173.02,670.3 171.09,672.7 169.05,675.06 166.89,677.39 164.62,679.69 162.23,681.95 159.74,684.17 157.15,686.34 154.45,688.48 151.64,690.57 148.74,692.61 145.73,694.61 142.63,696.55 139.44,698.45 139.44,712.85 142.63,710.95 145.73,709.01 148.74,707.01 151.64,704.97 154.45,702.88 157.15,700.74 159.74,698.57 162.23,696.35 164.62,694.09 166.89,691.79 169.05,689.46 171.09,687.1 173.02,684.7 174.83,682.27 176.52,679.81 178.1,677.33 179.55,674.82 180.88,672.29 182.08,669.74 183.17,667.17 184.12,664.59 184.95,661.99 185.66,659.38 186.23,656.75 186.68,654.12 187,651.49 187.19,648.84 187.26,646.2" fill="#1a2f78" stroke="#1a2f78" stroke-width="0.35"/>
<polygon points="189.22,646.2 189.15,648.88 188.96,651.55 188.63,654.22 188.18,656.88 187.6,659.53 186.88,662.18 186.04,664.81 185.08,667.43 183.98,670.03 182.76,672.61 181.42,675.17 179.95,677.7 178.35,680.22 176.64,682.7 174.81,685.16 172.86,687.59 170.79,689.98 168.6,692.34 166.3,694.66 163.89,696.95 161.37,699.2 158.75,701.4 156.01,703.56 153.17,705.67 150.23,707.74 147.19,709.76 144.06,711.73 140.83,713.65 139.44,712.85 142.63,710.95 145.73,709.01 148.74,707.01 151.64,704.97 154.45,702.88 157.15,700.74 159.74,698.57 162.23,696.35 164.62,694.09 166.89,691.79 169.05,689.46 171.09,687.1 173.02,684.7 174.83,682.27 176.52,679.81 178.1,677.33 179.55,674.82 180.88,672.29 182.08,669.74 183.17,667.17 184.12,664.59 184.95,661.99 185.66,659.38 186.23,656.75 186.68,654.12 187,651.49 187.19,648.84 187.26,646.2" fill="#1e3886" stroke="#1e3886" stroke-width="0.35"/>
<polygon points="193.19,631.8 193.13,634.54 192.93,637.28 192.6,640.01 192.13,642.74 191.53,645.46 190.8,648.16 189.94,650.86 188.95,653.54 187.83,656.2 186.58,658.84 185.2,661.46 183.7,664.06 182.07,666.64 180.32,669.18 178.44,671.7 176.44,674.18 174.32,676.64 172.08,679.05 169.73,681.43 167.26,683.77 164.68,686.07 161.99,688.33 159.19,690.54 156.28,692.71 153.27,694.82 150.16,696.89 146.95,698.91 143.64,700.87 140.83,699.25 144.06,697.33 147.19,695.36 150.23,693.34 153.17,691.27 156.01,689.16 158.75,687 161.37,684.8 163.89,682.55 166.3,680.26 168.6,677.94 170.79,675.58 172.86,673.19 174.81,670.76 176.64,668.3 178.35,665.82 179.95,663.3 181.42,660.77 182.76,658.21 183.98,655.63 185.08,653.03 186.04,650.41 186.88,647.78 187.6,645.13 188.18,642.48 188.63,639.82 188.96,637.15 189.15,634.48 189.22,631.8" fill="#cf1a21" stroke="#cf1a21" stroke-width="0.35"/>
<polygon points="193.19,631.8 193.13,634.54 192.93,637.28 192.6,640.01 192.13,642.74 191.53,645.46 190.8,648.16 189.94,650.86 188.95,653.54 187.83,656.2 186.58,658.84 185.2,661.46 183.7,664.06 182.07,666.64 180.32,669.18 178.44,671.7 176.44,674.18 174.32,676.64 172.08,679.05 169.73,681.43 167.26,683.77 164.68,686.07 161.99,688.33 159.19,690.54 156.28,692.71 153.27,694.82 150.16,696.89 146.95,698.91 143.64,700.87 143.64,715.27 146.95,713.31 150.16,711.29 153.27,709.22 156.28,707.11 159.19,704.94 161.99,702.73 164.68,700.47 167.26,698.17 169.73,695.83 172.08,693.45 174.32,691.04 176.44,688.58 178.44,686.1 180.32,683.58 182.07,681.04 183.7,678.46 185.2,675.86 186.58,673.24 187.83,670.6 188.95,667.94 189.94,665.26 190.8,662.56 191.53,659.86 192.13,657.14 192.6,654.41 192.93,651.68 193.13,648.94 193.19,646.2" fill="#a8151b" stroke="#a8151b" stroke-width="0.35"/>
<polygon points="196.48,646.2 196.41,648.99 196.21,651.78 195.87,654.57 195.39,657.35 194.78,660.12 194.04,662.88 193.16,665.63 192.15,668.36 191.01,671.07 189.74,673.77 188.33,676.44 186.8,679.09 185.14,681.71 183.35,684.31 181.43,686.87 179.4,689.41 177.24,691.91 174.96,694.37 172.56,696.79 170.04,699.18 167.41,701.52 164.67,703.82 161.81,706.08 158.85,708.29 155.78,710.45 152.61,712.55 149.33,714.61 145.96,716.61 143.64,715.27 146.95,713.31 150.16,711.29 153.27,709.22 156.28,707.11 159.19,704.94 161.99,702.73 164.68,700.47 167.26,698.17 169.73,695.83 172.08,693.45 174.32,691.04 176.44,688.58 178.44,686.1 180.32,683.58 182.07,681.04 183.7,678.46 185.2,675.86 186.58,673.24 187.83,670.6 188.95,667.94 189.94,665.26 190.8,662.56 191.53,659.86 192.13,657.14 192.6,654.41 192.93,651.68 193.13,648.94 193.19,646.2" fill="#1e3886" stroke="#1e3886" stroke-width="0.35"/>
<polygon points="200.45,631.8 200.38,634.66 200.18,637.51 199.83,640.36 199.34,643.21 198.72,646.04 197.96,648.86 197.06,651.67 196.03,654.47 194.86,657.25 193.56,660 192.12,662.74 190.55,665.45 188.85,668.13 187.02,670.79 185.06,673.41 182.98,676 180.77,678.56 178.44,681.08 175.98,683.56 173.41,686 170.72,688.4 167.91,690.75 164.99,693.06 161.96,695.32 158.82,697.53 155.57,699.68 152.22,701.79 148.77,703.84 145.96,702.21 149.33,700.21 152.61,698.15 155.78,696.05 158.85,693.89 161.81,691.68 164.67,689.42 167.41,687.12 170.04,684.78 172.56,682.39 174.96,679.97 177.24,677.51 179.4,675.01 181.43,672.47 183.35,669.91 185.14,667.31 186.8,664.69 188.33,662.04 189.74,659.37 191.01,656.67 192.15,653.96 193.16,651.23 194.04,648.48 194.78,645.72 195.39,642.95 195.87,640.17 196.21,637.38 196.41,634.59 196.48,631.8" fill="#cf1a21" stroke="#cf1a21" stroke-width="0.35"/>
<polygon points="200.45,631.8 200.38,634.66 200.18,637.51 199.83,640.36 199.34,643.21 198.72,646.04 197.96,648.86 197.06,651.67 196.03,654.47 194.86,657.25 193.56,660 192.12,662.74 190.55,665.45 188.85,668.13 187.02,670.79 185.06,673.41 182.98,676 180.77,678.56 178.44,681.08 175.98,683.56 173.41,686 170.72,688.4 167.91,690.75 164.99,693.06 161.96,695.32 158.82,697.53 155.57,699.68 152.22,701.79 148.77,703.84 148.77,718.24 152.22,716.19 155.57,714.08 158.82,711.93 161.96,709.72 164.99,707.46 167.91,705.15 170.72,702.8 173.41,700.4 175.98,697.96 178.44,695.48 180.77,692.96 182.98,690.4 185.06,687.81 187.02,685.19 188.85,682.53 190.55,679.85 192.12,677.14 193.56,674.4 194.86,671.65 196.03,668.87 197.06,666.07 197.96,663.26 198.72,660.44 199.34,657.61 199.83,654.76 200.18,651.91 200.38,649.06 200.45,646.2" fill="#a8151b" stroke="#a8151b" stroke-width="0.35"/>
<polygon points="203.74,646.2 203.66,649.11 203.45,652.02 203.1,654.92 202.61,657.82 201.97,660.71 201.2,663.58 200.28,666.44 199.23,669.29 198.04,672.12 196.71,674.93 195.25,677.71 193.65,680.47 191.92,683.21 190.05,685.91 188.06,688.58 185.94,691.22 183.69,693.83 181.31,696.4 178.81,698.92 176.19,701.41 173.44,703.85 170.59,706.25 167.61,708.6 164.52,710.9 161.32,713.15 158.02,715.35 154.61,717.49 151.09,719.58 148.77,718.24 152.22,716.19 155.57,714.08 158.82,711.93 161.96,709.72 164.99,707.46 167.91,705.15 170.72,702.8 173.41,700.4 175.98,697.96 178.44,695.48 180.77,692.96 182.98,690.4 185.06,687.81 187.02,685.19 188.85,682.53 190.55,679.85 192.12,677.14 193.56,674.4 194.86,671.65 196.03,668.87 197.06,666.07 197.96,663.26 198.72,660.44 199.34,657.61 199.83,654.76 200.18,651.91 200.38,649.06 200.45,646.2" fill="#1e3886" stroke="#1e3886" stroke-width="0.35"/>
<polygon points="207.71,631.8 207.64,634.77 207.42,637.75 207.06,640.71 206.56,643.68 205.91,646.63 205.12,649.57 204.18,652.49 203.11,655.4 201.89,658.29 200.53,661.16 199.04,664.01 197.4,666.83 195.63,669.63 193.73,672.39 191.69,675.12 189.52,677.82 187.22,680.48 184.79,683.11 182.23,685.69 179.55,688.23 176.75,690.73 173.83,693.18 170.79,695.58 167.63,697.93 164.36,700.23 160.98,702.48 157.5,704.67 153.9,706.8 151.09,705.18 154.61,703.09 158.02,700.95 161.32,698.75 164.52,696.5 167.61,694.2 170.59,691.85 173.44,689.45 176.19,687.01 178.81,684.52 181.31,682 183.69,679.43 185.94,676.82 188.06,674.18 190.05,671.51 191.92,668.81 193.65,666.07 195.25,663.31 196.71,660.53 198.04,657.72 199.23,654.89 200.28,652.04 201.2,649.18 201.97,646.31 202.61,643.42 203.1,640.52 203.45,637.62 203.66,634.71 203.74,631.8" fill="#cf1a21" stroke="#cf1a21" stroke-width="0.35"/>
<polygon points="207.71,631.8 207.64,634.77 207.42,637.75 207.06,640.71 206.56,643.68 205.91,646.63 205.12,649.57 204.18,652.49 203.11,655.4 201.89,658.29 200.53,661.16 199.04,664.01 197.4,666.83 195.63,669.63 193.73,672.39 191.69,675.12 189.52,677.82 187.22,680.48 184.79,683.11 182.23,685.69 179.55,688.23 176.75,690.73 173.83,693.18 170.79,695.58 167.63,697.93 164.36,700.23 160.98,702.48 157.5,704.67 153.9,706.8 153.9,721.2 157.5,719.07 160.98,716.88 164.36,714.63 167.63,712.33 170.79,709.98 173.83,707.58 176.75,705.13 179.55,702.63 182.23,700.09 184.79,697.51 187.22,694.88 189.52,692.22 191.69,689.52 193.73,686.79 195.63,684.03 197.4,681.23 199.04,678.41 200.53,675.56 201.89,672.69 203.11,669.8 204.18,666.89 205.12,663.97 205.91,661.03 206.56,658.08 207.06,655.11 207.42,652.15 207.64,649.17 207.71,646.2" fill="#a8151b" stroke="#a8151b" stroke-width="0.35"/>
<polygon points="24,603 94.15,643.5 94.15,657.9 116.84,671 116.84,685.4 139.44,698.45 139.44,712.85 24,646.2" fill="#15245c" stroke="#15245c" stroke-width="0.7"/>
<polygon points="95.53,644.3 98.49,646.01 98.49,660.41 95.53,658.7" fill="#b4171d" stroke="#b4171d" stroke-width="0.3"/>
<polygon points="100.94,647.42 103.9,649.13 103.9,663.53 100.94,661.82" fill="#c0181f" stroke="#c0181f" stroke-width="0.3"/>
<polygon points="106.34,650.54 109.3,652.25 109.3,666.65 106.34,664.94" fill="#b4171d" stroke="#b4171d" stroke-width="0.3"/>
<polygon points="118.22,671.8 121.43,673.65 121.43,688.05 118.22,686.2" fill="#b4171d" stroke="#b4171d" stroke-width="0.3"/>
<polygon points="124.07,675.18 127.27,677.02 127.27,691.42 124.07,689.58" fill="#c0181f" stroke="#c0181f" stroke-width="0.3"/>
<polygon points="129.92,678.55 133.12,680.4 133.12,694.8 129.92,692.95" fill="#b4171d" stroke="#b4171d" stroke-width="0.3"/>
<polygon points="140.83,699.25 143.64,700.87 143.64,715.27 140.83,713.65" fill="#b4171d" stroke="#b4171d" stroke-width="0.3"/>
<polygon points="145.96,702.21 148.77,703.84 148.77,718.24 145.96,716.61" fill="#c0181f" stroke="#c0181f" stroke-width="0.3"/>
<polygon points="151.09,705.18 153.9,706.8 153.9,721.2 151.09,719.58" fill="#b4171d" stroke="#b4171d" stroke-width="0.3"/>
<polygon points="469.14,562.3 472.1,564.06 474.97,565.86 477.76,567.71 480.45,569.61 483.05,571.55 485.56,573.53 487.97,575.54 490.28,577.6 492.48,579.7 494.59,581.82 496.59,583.99 498.49,586.18 500.28,588.4 501.96,590.65 503.53,592.93 504.98,595.23 506.33,597.56 507.56,599.91 508.68,602.27 509.68,604.65 510.57,607.05 511.34,609.46 511.99,611.88 512.53,614.31 512.94,616.75 513.24,619.2 513.42,621.65 513.48,624.1 513.48,639.1 513.42,636.65 513.24,634.2 512.94,631.75 512.53,629.31 511.99,626.88 511.34,624.46 510.57,622.05 509.68,619.65 508.68,617.27 507.56,614.91 506.33,612.56 504.98,610.23 503.53,607.93 501.96,605.65 500.28,603.4 498.49,601.18 496.59,598.99 494.59,596.82 492.48,594.7 490.28,592.6 487.97,590.54 485.56,588.53 483.05,586.55 480.45,584.61 477.76,582.71 474.97,580.86 472.1,579.06 469.14,577.3" fill="#06702f" stroke="#06702f" stroke-width="0.35"/>
<polygon points="476.24,558.2 479.48,560.12 482.62,562.1 485.65,564.12 488.59,566.2 491.42,568.33 494.15,570.5 496.76,572.71 499.27,574.97 501.66,577.27 503.93,579.6 506.09,581.98 508.13,584.38 510.05,586.83 511.84,589.3 513.52,591.8 515.06,594.33 516.48,596.88 517.77,599.45 518.94,602.05 519.97,604.66 520.87,607.29 521.65,609.93 522.29,612.59 522.79,615.25 523.17,617.93 523.41,620.6 523.52,623.28 523.49,625.96 513.45,625.85 513.47,623.33 513.37,620.82 513.15,618.31 512.8,615.8 512.32,613.31 511.72,610.82 511,608.34 510.15,605.87 509.18,603.42 508.09,600.99 506.88,598.57 505.55,596.18 504.1,593.81 502.53,591.46 500.84,589.14 499.05,586.86 497.13,584.6 495.11,582.37 492.98,580.18 490.73,578.02 488.39,575.91 485.93,573.83 483.38,571.8 480.72,569.8 477.97,567.86 475.12,565.96 472.17,564.1 469.14,562.3" fill="#0b8c3f" stroke="#0b8c3f" stroke-width="0.35"/>
<polygon points="469.14,562.3 472.17,564.1 475.12,565.96 477.97,567.86 480.72,569.8 483.38,571.8 485.93,573.83 488.39,575.91 490.73,578.02 492.98,580.18 495.11,582.37 497.13,584.6 499.05,586.86 500.84,589.14 502.53,591.46 504.1,593.81 505.55,596.18 506.88,598.57 508.09,600.99 509.18,603.42 510.15,605.87 511,608.34 511.72,610.82 512.32,613.31 512.8,615.8 513.15,618.31 513.37,620.82 513.47,623.33 513.45,625.85 498.51,625.68 498.53,623.41 498.44,621.14 498.24,618.88 497.92,616.62 497.49,614.37 496.95,612.13 496.3,609.89 495.54,607.67 494.66,605.46 493.68,603.27 492.59,601.09 491.39,598.93 490.08,596.8 488.67,594.68 487.15,592.6 485.53,590.53 483.8,588.5 481.98,586.49 480.06,584.52 478.04,582.57 475.92,580.66 473.71,578.79 471.41,576.96 469.01,575.16 466.53,573.41 463.96,571.69 461.31,570.02 458.58,568.4" fill="#1e3886" stroke="#1e3886" stroke-width="0.35"/>
<polygon points="452.34,557 454.84,558.48 457.26,560 459.61,561.56 461.88,563.16 464.07,564.79 466.18,566.46 468.21,568.17 470.16,569.9 472.02,571.66 473.79,573.46 475.48,575.28 477.08,577.13 478.59,579.01 480,580.9 481.33,582.82 482.56,584.76 483.69,586.72 484.73,588.7 485.67,590.7 486.52,592.7 487.27,594.73 487.92,596.76 488.47,598.8 488.92,600.85 489.27,602.91 489.52,604.97 489.67,607.03 489.72,609.1 489.72,624.1 489.67,622.03 489.52,619.97 489.27,617.91 488.92,615.85 488.47,613.8 487.92,611.76 487.27,609.73 486.52,607.7 485.67,605.7 484.73,603.7 483.69,601.72 482.56,599.76 481.33,597.82 480,595.9 478.59,594.01 477.08,592.13 475.48,590.28 473.79,588.46 472.02,586.66 470.16,584.9 468.21,583.17 466.18,581.46 464.07,579.79 461.88,578.16 459.61,576.56 457.26,575 454.84,573.48 452.34,572" fill="#06702f" stroke="#06702f" stroke-width="0.35"/>
<polygon points="458.58,553.4 461.31,555.02 463.96,556.69 466.53,558.41 469.01,560.16 471.41,561.96 473.71,563.79 475.92,565.66 478.04,567.57 480.06,569.52 481.98,571.49 483.8,573.5 485.53,575.53 487.15,577.6 488.67,579.68 490.08,581.8 491.39,583.93 492.59,586.09 493.68,588.27 494.66,590.46 495.54,592.67 496.3,594.89 496.95,597.13 497.49,599.37 497.92,601.62 498.24,603.88 498.44,606.14 498.53,608.41 498.51,610.68 489.69,610.57 489.71,608.45 489.63,606.34 489.44,604.22 489.14,602.11 488.74,600 488.24,597.9 487.63,595.81 486.91,593.73 486.09,591.67 485.17,589.61 484.15,587.58 483.03,585.56 481.81,583.56 480.49,581.59 479.07,579.63 477.55,577.7 475.94,575.8 474.23,573.92 472.43,572.07 470.54,570.26 468.56,568.47 466.5,566.72 464.34,565.01 462.1,563.33 459.78,561.68 457.38,560.08 454.9,558.52 452.34,557" fill="#0b8c3f" stroke="#0b8c3f" stroke-width="0.35"/>
<polygon points="452.34,557 454.9,558.52 457.38,560.08 459.78,561.68 462.1,563.33 464.34,565.01 466.5,566.72 468.56,568.47 470.54,570.26 472.43,572.07 474.23,573.92 475.94,575.8 477.55,577.7 479.07,579.63 480.49,581.59 481.81,583.56 483.03,585.56 484.15,587.58 485.17,589.61 486.09,591.67 486.91,593.73 487.63,595.81 488.24,597.9 488.74,600 489.14,602.11 489.44,604.22 489.63,606.34 489.71,608.45 489.69,610.57 470.35,610.35 470.36,608.55 470.29,606.75 470.13,604.96 469.88,603.17 469.54,601.38 469.11,599.6 468.59,597.83 467.99,596.06 467.29,594.31 466.51,592.57 465.65,590.84 464.69,589.13 463.66,587.44 462.54,585.76 461.33,584.1 460.04,582.46 458.68,580.85 457.23,579.26 455.7,577.69 454.1,576.15 452.42,574.63 450.67,573.15 448.84,571.69 446.94,570.27 444.97,568.87 442.93,567.51 440.83,566.19 438.66,564.9" fill="#1e3886" stroke="#1e3886" stroke-width="0.35"/>
<polygon points="433.46,552.9 435.43,554.07 437.35,555.27 439.21,556.51 441,557.77 442.74,559.06 444.41,560.38 446.01,561.73 447.55,563.1 449.02,564.5 450.43,565.92 451.76,567.36 453.02,568.82 454.22,570.3 455.34,571.8 456.38,573.32 457.36,574.86 458.25,576.41 459.07,577.97 459.82,579.55 460.49,581.13 461.08,582.73 461.59,584.34 462.03,585.96 462.38,587.58 462.66,589.2 462.86,590.83 462.98,592.47 463.02,594.1 463.02,609.1 462.98,607.47 462.86,605.83 462.66,604.2 462.38,602.58 462.03,600.96 461.59,599.34 461.08,597.73 460.49,596.13 459.82,594.55 459.07,592.97 458.25,591.41 457.36,589.86 456.38,588.32 455.34,586.8 454.22,585.3 453.02,583.82 451.76,582.36 450.43,580.92 449.02,579.5 447.55,578.1 446.01,576.73 444.41,575.38 442.74,574.06 441,572.77 439.21,571.51 437.35,570.27 435.43,569.07 433.46,567.9" fill="#06702f" stroke="#06702f" stroke-width="0.35"/>
<polygon points="438.66,549.9 440.83,551.19 442.93,552.51 444.97,553.87 446.94,555.27 448.84,556.69 450.67,558.15 452.42,559.63 454.1,561.15 455.7,562.69 457.23,564.26 458.68,565.85 460.04,567.46 461.33,569.1 462.54,570.76 463.66,572.44 464.69,574.13 465.65,575.84 466.51,577.57 467.29,579.31 467.99,581.06 468.59,582.83 469.11,584.6 469.54,586.38 469.88,588.17 470.13,589.96 470.29,591.75 470.36,593.55 470.35,595.35 463,595.27 463.02,593.59 462.95,591.91 462.8,590.24 462.56,588.57 462.25,586.9 461.85,585.24 461.36,583.59 460.8,581.95 460.15,580.31 459.43,578.69 458.62,577.08 457.73,575.49 456.76,573.91 455.72,572.34 454.6,570.8 453.4,569.27 452.12,567.76 450.77,566.28 449.35,564.82 447.86,563.38 446.29,561.97 444.66,560.59 442.95,559.23 441.18,557.9 439.35,556.6 437.45,555.34 435.48,554.1 433.46,552.9" fill="#0b8c3f" stroke="#0b8c3f" stroke-width="0.35"/>
<polygon points="433.46,552.9 437.35,555.27 441,557.77 444.41,560.38 447.55,563.1 450.43,565.92 453.02,568.82 455.34,571.8 457.36,574.86 459.07,577.97 460.49,581.13 461.59,584.34 462.38,587.58 462.86,590.83 463.02,594.1 462.86,597.37 462.38,600.62 461.59,603.86 460.49,607.07 459.07,610.23 457.36,613.34 455.34,616.4 453.02,619.38 450.43,622.28 447.55,625.1 444.41,627.82 441,630.43 437.35,632.93 433.46,635.3 362.1,594.1" fill="#1e3886" stroke="#1e3886" stroke-width="0.35"/>
<polygon points="470.37,594.1 470.32,595.85 470.2,597.6 469.98,599.35 469.69,601.1 469.3,602.84 468.84,604.57 468.29,606.29 467.65,608.01 466.94,609.71 466.14,611.4 465.25,613.08 464.29,614.75 463.25,616.39 462.13,618.02 460.92,619.63 459.65,621.22 458.29,622.79 456.86,624.34 455.35,625.86 453.77,627.36 452.12,628.83 450.4,630.27 448.61,631.69 446.75,633.07 444.82,634.43 442.83,635.75 440.77,637.04 438.66,638.3 433.46,635.3 435.43,634.13 437.35,632.93 439.21,631.69 441,630.43 442.74,629.14 444.41,627.82 446.01,626.47 447.55,625.1 449.02,623.7 450.43,622.28 451.76,620.84 453.02,619.38 454.22,617.9 455.34,616.4 456.38,614.88 457.36,613.34 458.25,611.79 459.07,610.23 459.82,608.65 460.49,607.07 461.08,605.47 461.59,603.86 462.03,602.24 462.38,600.62 462.66,599 462.86,597.37 462.98,595.73 463.02,594.1" fill="#0b8c3f" stroke="#0b8c3f" stroke-width="0.35"/>
<polygon points="470.37,594.1 470.32,595.85 470.2,597.6 469.98,599.35 469.69,601.1 469.3,602.84 468.84,604.57 468.29,606.29 467.65,608.01 466.94,609.71 466.14,611.4 465.25,613.08 464.29,614.75 463.25,616.39 462.13,618.02 460.92,619.63 459.65,621.22 458.29,622.79 456.86,624.34 455.35,625.86 453.77,627.36 452.12,628.83 450.4,630.27 448.61,631.69 446.75,633.07 444.82,634.43 442.83,635.75 440.77,637.04 438.66,638.3 438.66,653.3 440.77,652.04 442.83,650.75 444.82,649.43 446.75,648.07 448.61,646.69 450.4,645.27 452.12,643.83 453.77,642.36 455.35,640.86 456.86,639.34 458.29,637.79 459.65,636.22 460.92,634.63 462.13,633.02 463.25,631.39 464.29,629.75 465.25,628.08 466.14,626.4 466.94,624.71 467.65,623.01 468.29,621.29 468.84,619.57 469.3,617.84 469.69,616.1 469.98,614.35 470.2,612.6 470.32,610.85 470.37,609.1" fill="#087a36" stroke="#087a36" stroke-width="0.35"/>
<polygon points="489.72,609.1 489.67,611.17 489.52,613.23 489.27,615.29 488.92,617.35 488.47,619.4 487.92,621.44 487.27,623.47 486.52,625.5 485.67,627.5 484.73,629.5 483.69,631.48 482.56,633.44 481.33,635.38 480,637.3 478.59,639.19 477.08,641.07 475.48,642.92 473.79,644.74 472.02,646.54 470.16,648.3 468.21,650.03 466.18,651.74 464.07,653.41 461.88,655.04 459.61,656.64 457.26,658.2 454.84,659.72 452.34,661.2 438.66,653.3 440.77,652.04 442.83,650.75 444.82,649.43 446.75,648.07 448.61,646.69 450.4,645.27 452.12,643.83 453.77,642.36 455.35,640.86 456.86,639.34 458.29,637.79 459.65,636.22 460.92,634.63 462.13,633.02 463.25,631.39 464.29,629.75 465.25,628.08 466.14,626.4 466.94,624.71 467.65,623.01 468.29,621.29 468.84,619.57 469.3,617.84 469.69,616.1 469.98,614.35 470.2,612.6 470.32,610.85 470.37,609.1" fill="#1e3886" stroke="#1e3886" stroke-width="0.35"/>
<polygon points="498.54,609.1 498.48,611.31 498.32,613.52 498.05,615.72 497.68,617.92 497.2,620.11 496.61,622.29 495.91,624.47 495.12,626.63 494.21,628.78 493.2,630.91 492.09,633.02 490.88,635.12 489.57,637.19 488.15,639.24 486.64,641.27 485.03,643.28 483.32,645.25 481.51,647.2 479.61,649.12 477.62,651.01 475.54,652.86 473.37,654.68 471.11,656.47 468.77,658.21 466.34,659.92 463.83,661.59 461.24,663.22 458.58,664.8 452.34,661.2 454.84,659.72 457.26,658.2 459.61,656.64 461.88,655.04 464.07,653.41 466.18,651.74 468.21,650.03 470.16,648.3 472.02,646.54 473.79,644.74 475.48,642.92 477.08,641.07 478.59,639.19 480,637.3 481.33,635.38 482.56,633.44 483.69,631.48 484.73,629.5 485.67,627.5 486.52,625.5 487.27,623.47 487.92,621.44 488.47,619.4 488.92,617.35 489.27,615.29 489.52,613.23 489.67,611.17 489.72,609.1" fill="#0b8c3f" stroke="#0b8c3f" stroke-width="0.35"/>
<polygon points="498.54,609.1 498.48,611.31 498.32,613.52 498.05,615.72 497.68,617.92 497.2,620.11 496.61,622.29 495.91,624.47 495.12,626.63 494.21,628.78 493.2,630.91 492.09,633.02 490.88,635.12 489.57,637.19 488.15,639.24 486.64,641.27 485.03,643.28 483.32,645.25 481.51,647.2 479.61,649.12 477.62,651.01 475.54,652.86 473.37,654.68 471.11,656.47 468.77,658.21 466.34,659.92 463.83,661.59 461.24,663.22 458.58,664.8 458.58,679.8 461.24,678.22 463.83,676.59 466.34,674.92 468.77,673.21 471.11,671.47 473.37,669.68 475.54,667.86 477.62,666.01 479.61,664.12 481.51,662.2 483.32,660.25 485.03,658.28 486.64,656.27 488.15,654.24 489.57,652.19 490.88,650.12 492.09,648.02 493.2,645.91 494.21,643.78 495.12,641.63 495.91,639.47 496.61,637.29 497.2,635.11 497.68,632.92 498.05,630.72 498.32,628.52 498.48,626.31 498.54,624.1" fill="#087a36" stroke="#087a36" stroke-width="0.35"/>
<polygon points="513.48,624.1 513.42,626.55 513.24,629 512.94,631.45 512.53,633.89 511.99,636.32 511.34,638.74 510.57,641.15 509.68,643.55 508.68,645.93 507.56,648.29 506.33,650.64 504.98,652.97 503.53,655.27 501.96,657.55 500.28,659.8 498.49,662.02 496.59,664.21 494.59,666.38 492.48,668.5 490.28,670.6 487.97,672.66 485.56,674.67 483.05,676.65 480.45,678.59 477.76,680.49 474.97,682.34 472.1,684.14 469.14,685.9 458.58,679.8 461.24,678.22 463.83,676.59 466.34,674.92 468.77,673.21 471.11,671.47 473.37,669.68 475.54,667.86 477.62,666.01 479.61,664.12 481.51,662.2 483.32,660.25 485.03,658.28 486.64,656.27 488.15,654.24 489.57,652.19 490.88,650.12 492.09,648.02 493.2,645.91 494.21,643.78 495.12,641.63 495.91,639.47 496.61,637.29 497.2,635.11 497.68,632.92 498.05,630.72 498.32,628.52 498.48,626.31 498.54,624.1" fill="#1e3886" stroke="#1e3886" stroke-width="0.35"/>
<polygon points="523.52,624.1 523.46,626.71 523.27,629.33 522.95,631.93 522.51,634.53 521.94,637.13 521.24,639.71 520.42,642.28 519.47,644.84 518.4,647.38 517.21,649.9 515.9,652.4 514.46,654.88 512.91,657.34 511.23,659.76 509.44,662.17 507.54,664.54 505.51,666.88 503.38,669.18 501.13,671.45 498.78,673.68 496.32,675.88 493.75,678.03 491.08,680.14 488.3,682.21 485.43,684.23 482.46,686.2 479.4,688.13 476.24,690 469.14,685.9 472.1,684.14 474.97,682.34 477.76,680.49 480.45,678.59 483.05,676.65 485.56,674.67 487.97,672.66 490.28,670.6 492.48,668.5 494.59,666.38 496.59,664.21 498.49,662.02 500.28,659.8 501.96,657.55 503.53,655.27 504.98,652.97 506.33,650.64 507.56,648.29 508.68,645.93 509.68,643.55 510.57,641.15 511.34,638.74 511.99,636.32 512.53,633.89 512.94,631.45 513.24,629 513.42,626.55 513.48,624.1" fill="#0b8c3f" stroke="#0b8c3f" stroke-width="0.35"/>
<polygon points="523.52,624.1 523.46,626.71 523.27,629.33 522.95,631.93 522.51,634.53 521.94,637.13 521.24,639.71 520.42,642.28 519.47,644.84 518.4,647.38 517.21,649.9 515.9,652.4 514.46,654.88 512.91,657.34 511.23,659.76 509.44,662.17 507.54,664.54 505.51,666.88 503.38,669.18 501.13,671.45 498.78,673.68 496.32,675.88 493.75,678.03 491.08,680.14 488.3,682.21 485.43,684.23 482.46,686.2 479.4,688.13 476.24,690 476.24,705 479.4,703.13 482.46,701.2 485.43,699.23 488.3,697.21 491.08,695.14 493.75,693.03 496.32,690.88 498.78,688.68 501.13,686.45 503.38,684.18 505.51,681.88 507.54,679.54 509.44,677.17 511.23,674.76 512.91,672.34 514.46,669.88 515.9,667.4 517.21,664.9 518.4,662.38 519.47,659.84 520.42,657.28 521.24,654.71 521.94,652.13 522.51,649.53 522.95,646.93 523.27,644.33 523.46,641.71 523.52,639.1" fill="#087a36" stroke="#087a36" stroke-width="0.35"/>
<polygon points="362.1,594.1 433.46,635.3 433.46,650.3 452.34,661.2 452.34,676.2 469.14,685.9 469.14,700.9 362.1,639.1" fill="#15245c" stroke="#15245c" stroke-width="0.7"/>
<polygon points="433.46,635.3 438.66,638.3 438.66,653.3 433.46,650.3" fill="#0a8038" stroke="#0a8038" stroke-width="0.3"/>
<polygon points="452.34,661.2 458.58,664.8 458.58,679.8 452.34,676.2" fill="#0a8038" stroke="#0a8038" stroke-width="0.3"/>
<polygon points="469.14,685.9 476.24,690 476.24,705 469.14,700.9" fill="#0a8038" stroke="#0a8038" stroke-width="0.3"/>
<rect x="213.7" y="660.5" width="95.1" height="16.9" fill="#243f98"/>
<rect x="213.7" y="677.1" width="120.6" height="17.1" fill="#243f98"/>
<rect x="213.7" y="693.9" width="143.2" height="16.8" fill="#243f98"/>
<rect x="310.9" y="660.5" width="3.1" height="16.6" fill="#ed1c24"/>
<rect x="315.4" y="660.5" width="3.9" height="16.6" fill="#ed1c24"/>
<rect x="320.6" y="660.5" width="4.5" height="16.6" fill="#ed1c24"/>
<rect x="336.4" y="677.1" width="2.6" height="16.8" fill="#ed1c24"/>
<rect x="340.3" y="677.1" width="3.4" height="16.8" fill="#ed1c24"/>
<rect x="345" y="677.1" width="5" height="16.8" fill="#ed1c24"/>
<rect x="358.7" y="693.9" width="2.6" height="16.5" fill="#ed1c24"/>
<rect x="362.1" y="693.9" width="3.2" height="16.5" fill="#ed1c24"/>
<rect x="367.9" y="693.9" width="3.2" height="16.5" fill="#ed1c24"/>
<line x1="213.7" y1="677.1" x2="308.8" y2="677.1" stroke="#3350a4" stroke-width="0.5"/>
<rect x="532.1" y="660.7" width="95.2" height="16.8" fill="#243f98"/>
<rect x="627.3" y="660.7" width="6.8" height="16.5" fill="#00a650"/>
<rect x="532.1" y="677.2" width="121.1" height="17.1" fill="#243f98"/>
<rect x="653.2" y="677.2" width="8" height="16.8" fill="#00a650"/>
<rect x="532.1" y="694" width="142.9" height="16.7" fill="#243f98"/>
<rect x="675" y="694" width="10" height="16.4" fill="#00a650"/>
<line x1="532.1" y1="677.2" x2="627.3" y2="677.2" stroke="#3350a4" stroke-width="0.5"/>
<text x="273" y="580.4" font-size="14.6" text-anchor="middle" fill="#ea2033">Fast</text>
<text x="273" y="598" font-size="14.6" text-anchor="middle" fill="#ea2033">oscillation</text>
<text x="273" y="615.6" font-size="14.6" text-anchor="middle" fill="#ea2033">before</text>
<text x="273" y="633.2" font-size="14.6" text-anchor="middle" fill="#ea2033">optimization</text>
<text x="594.7" y="580.8" font-size="14.6" text-anchor="middle" fill="#1aa552">Smooth</text>
<text x="594.7" y="598.47" font-size="14.6" text-anchor="middle" fill="#1aa552">stairs</text>
<text x="594.7" y="616.14" font-size="14.6" text-anchor="middle" fill="#1aa552">after</text>
<text x="594.7" y="633.81" font-size="14.6" text-anchor="middle" fill="#1aa552">optimization</text>
<text transform="translate(0.5 558.2) scale(0.95 1.038)" font-size="28.9" font-weight="bold">E</text>
</g>
<g id="panel-f">
<clipPath id="fc0"><rect x="36" y="744.2" width="81.5" height="82.6"/></clipPath>
<g clip-path="url(#fc0)" stroke="#2e0a7e" fill="none">
<path d="M37.6,769.1L37.93,764.1L38.25,759.15L38.58,754.23L38.91,749.36L39.14,745.8L39.14,825.2L39.23,823.93L39.56,819.14L39.88,814.39L40.21,809.68L40.54,805.02L40.86,800.39L41.19,795.81L41.52,791.27L41.84,786.78L42.17,782.32L42.49,777.91L42.82,773.54L43.15,769.21L43.47,764.92L43.8,760.67L44.12,756.47L44.45,752.31L44.78,748.19L44.97,745.8L44.97,825.2L45.1,823.51L45.43,819.47L45.76,815.47L46.08,811.52L46.41,807.61L46.73,803.74L47.06,799.91L47.39,796.13L47.71,792.38L48.04,788.68L48.37,785.02L48.69,781.4L49.02,777.82L49.34,774.29L49.67,770.8L50,767.35L50.32,763.94L50.65,760.57L50.98,757.24L51.3,753.96L51.63,750.72L51.95,747.52L52.13,745.8L52.13,825.2L52.28,823.76L52.61,820.64L52.93,817.57L53.26,814.53L53.59,811.54L53.91,808.59L54.24,805.69L54.56,802.82L54.89,800L55.22,797.21L55.54,794.47L55.87,791.78L56.2,789.12L56.52,786.5L56.85,783.93L57.17,781.4L57.5,778.91L57.83,776.46L58.15,774.06L58.48,771.7L58.81,769.37L59.13,767.09L59.46,764.86L59.78,762.66L60.11,760.5L60.44,758.39L60.76,756.32L61.09,754.29L61.42,752.31L61.74,750.36L62.07,748.46L62.4,746.6L62.54,745.8L62.54,825.2L62.72,824.18L63.05,822.4L63.37,820.66L63.7,818.97L64.03,817.31L64.35,815.7L64.68,814.14L65,812.61L65.33,811.12L65.66,809.68L65.98,808.28L66.31,806.92L66.64,805.6L66.96,804.33L67.29,803.09L67.61,801.9L67.94,800.75L68.27,799.64L68.59,798.57L68.92,797.55L69.25,796.57L69.57,795.62L69.9,794.72L70.22,793.87L70.55,793.05L70.88,792.28L71.2,791.54L71.53,790.85L71.86,790.21L72.18,789.6L72.51,789.03L72.84,788.51L73.16,788.03L73.49,787.59L73.81,787.19L74.14,786.84L74.47,786.52L74.79,786.25L75.12,786.02L75.44,785.83L75.77,785.69L76.1,785.58L76.42,785.52L76.75,785.5L77.08,785.52L77.4,785.58L77.73,785.69L78.06,785.83L78.38,786.02L78.71,786.25L79.03,786.52L79.36,786.84L79.69,787.19L80.01,787.59L80.34,788.03L80.67,788.51L80.99,789.03L81.32,789.6L81.64,790.21L81.97,790.85L82.3,791.54L82.62,792.28L82.95,793.05L83.28,793.87L83.6,794.72L83.93,795.62L84.25,796.57L84.58,797.55L84.91,798.57L85.23,799.64L85.56,800.75L85.88,801.9L86.21,803.09L86.54,804.33L86.86,805.6L87.19,806.92L87.52,808.28L87.84,809.68L88.17,811.12L88.5,812.61L88.82,814.14L89.15,815.7L89.47,817.31L89.8,818.97L90.13,820.66L90.45,822.4L90.78,824.18L90.96,825.2L90.96,745.8L91.1,746.6L91.43,748.46L91.76,750.36L92.08,752.31L92.41,754.29L92.74,756.32L93.06,758.39L93.39,760.5L93.72,762.66L94.04,764.86L94.37,767.09L94.69,769.37L95.02,771.7L95.35,774.06L95.67,776.46L96,778.91L96.33,781.4L96.65,783.93L96.98,786.5L97.3,789.12L97.63,791.78L97.96,794.47L98.28,797.21L98.61,800L98.94,802.82L99.26,805.69L99.59,808.59L99.91,811.54L100.24,814.53L100.57,817.57L100.89,820.64L101.22,823.76L101.37,825.2L101.37,745.8L101.55,747.52L101.87,750.72L102.2,753.96L102.52,757.24L102.85,760.57L103.18,763.94L103.5,767.35L103.83,770.8L104.16,774.29L104.48,777.82L104.81,781.4L105.13,785.02L105.46,788.68L105.79,792.38L106.11,796.13L106.44,799.91L106.76,803.74L107.09,807.61L107.42,811.52L107.74,815.47L108.07,819.47L108.4,823.51L108.53,825.2L108.53,745.8L108.72,748.19L109.05,752.31L109.38,756.47L109.7,760.67L110.03,764.92L110.35,769.21L110.68,773.54L111.01,777.91L111.33,782.32L111.66,786.78L111.98,791.27L112.31,795.81L112.64,800.39L112.96,805.02L113.29,809.68L113.62,814.39L113.94,819.14L114.27,823.93L114.36,825.2L114.36,745.8L114.59,749.36L114.92,754.23L115.25,759.15L115.57,764.1L115.9,769.1" stroke-width="1.3" stroke-linejoin="round"/>
<g stroke-width="1.0"><circle cx="37.6" cy="769.1" r="1.6"/><circle cx="39.72" cy="816.82" r="1.6"/><circle cx="41.83" cy="786.9" r="1.6"/><circle cx="43.95" cy="758.74" r="1.6"/><circle cx="46.06" cy="811.73" r="1.6"/><circle cx="48.18" cy="787.09" r="1.6"/><circle cx="50.3" cy="764.21" r="1.6"/><circle cx="52.41" cy="822.49" r="1.6"/><circle cx="54.53" cy="803.13" r="1.6"/><circle cx="56.65" cy="785.53" r="1.6"/><circle cx="58.76" cy="769.68" r="1.6"/><circle cx="60.88" cy="755.6" r="1.6"/><circle cx="62.99" cy="822.68" r="1.6"/><circle cx="65.11" cy="812.12" r="1.6"/><circle cx="67.23" cy="803.32" r="1.6"/><circle cx="69.34" cy="796.28" r="1.6"/><circle cx="71.46" cy="791" r="1.6"/><circle cx="73.58" cy="787.48" r="1.6"/><circle cx="75.69" cy="785.72" r="1.6"/><circle cx="77.81" cy="785.72" r="1.6"/><circle cx="79.92" cy="787.48" r="1.6"/><circle cx="82.04" cy="791" r="1.6"/><circle cx="84.16" cy="796.28" r="1.6"/><circle cx="86.27" cy="803.32" r="1.6"/><circle cx="88.39" cy="812.12" r="1.6"/><circle cx="90.51" cy="822.68" r="1.6"/><circle cx="92.62" cy="755.6" r="1.6"/><circle cx="94.74" cy="769.68" r="1.6"/><circle cx="96.85" cy="785.53" r="1.6"/><circle cx="98.97" cy="803.13" r="1.6"/><circle cx="101.09" cy="822.49" r="1.6"/><circle cx="103.2" cy="764.21" r="1.6"/><circle cx="105.32" cy="787.09" r="1.6"/><circle cx="107.44" cy="811.73" r="1.6"/><circle cx="109.55" cy="758.74" r="1.6"/><circle cx="111.67" cy="786.9" r="1.6"/><circle cx="113.78" cy="816.82" r="1.6"/><circle cx="115.9" cy="769.1" r="1.6"/></g>
</g>
<rect x="37.6" y="745.8" width="78.3" height="79.4" fill="none" stroke="#2a2a2a" stroke-width="1.2"/>
<path d="M57.17,825.2v-1.6M57.17,745.8v1.6M76.75,825.2v-1.6M76.75,745.8v1.6M96.32,825.2v-1.6M96.32,745.8v1.6M37.6,785.5h1.6M115.9,785.5h-1.6" fill="none" stroke="#2a2a2a" stroke-width="0.9"/>
<text x="78.75" y="840.4" font-size="15" text-anchor="middle" fill="#222" font-family='"Liberation Serif", "DejaVu Serif", serif' font-style="italic">r</text>
<text x="76.35" y="857.6" font-size="14.3" text-anchor="middle" fill="#1a1a1a">400 nm</text>
<clipPath id="fc1"><rect x="129.8" y="744.2" width="81.5" height="82.6"/></clipPath>
<g clip-path="url(#fc1)" stroke="#1414ff" fill="none">
<path d="M131.4,824.96L131.73,820.52L132.05,816.11L132.38,811.74L132.71,807.41L133.03,803.11L133.36,798.86L133.68,794.64L134.01,790.45L134.34,786.31L134.66,782.2L134.99,778.13L135.31,774.09L135.64,770.09L135.97,766.13L136.29,762.21L136.62,758.32L136.95,754.48L137.27,750.66L137.6,746.89L137.69,745.8L137.69,825.2L137.93,822.55L138.25,818.85L138.58,815.19L138.9,811.56L139.23,807.98L139.56,804.42L139.88,800.91L140.21,797.43L140.54,793.99L140.86,790.59L141.19,787.23L141.51,783.9L141.84,780.61L142.17,777.35L142.49,774.14L142.82,770.96L143.15,767.82L143.47,764.71L143.8,761.64L144.12,758.61L144.45,755.62L144.78,752.66L145.1,749.74L145.43,746.86L145.55,745.8L145.55,825.2L145.75,823.42L146.08,820.61L146.41,817.84L146.73,815.11L147.06,812.41L147.39,809.75L147.71,807.13L148.04,804.55L148.37,802L148.69,799.49L149.02,797.02L149.34,794.58L149.67,792.18L150,789.82L150.32,787.5L150.65,785.21L150.98,782.96L151.3,780.75L151.63,778.57L151.95,776.43L152.28,774.33L152.61,772.27L152.93,770.24L153.26,768.25L153.59,766.3L153.91,764.38L154.24,762.51L154.56,760.67L154.89,758.86L155.22,757.1L155.54,755.37L155.87,753.68L156.2,752.02L156.52,750.4L156.85,748.82L157.17,747.28L157.49,745.8L157.49,825.2L157.5,825.17L157.83,823.7L158.15,822.27L158.48,820.88L158.81,819.52L159.13,818.2L159.46,816.92L159.78,815.67L160.11,814.46L160.44,813.29L160.76,812.16L161.09,811.06L161.42,810L161.74,808.98L162.07,807.99L162.39,807.05L162.72,806.13L163.05,805.26L163.37,804.42L163.7,803.62L164.03,802.86L164.35,802.14L164.68,801.45L165,800.8L165.33,800.18L165.66,799.61L165.98,799.07L166.31,798.57L166.64,798.1L166.96,797.67L167.29,797.28L167.61,796.93L167.94,796.61L168.27,796.34L168.59,796.09L168.92,795.89L169.25,795.72L169.57,795.59L169.9,795.5L170.22,795.44L170.55,795.42L170.88,795.44L171.2,795.5L171.53,795.59L171.86,795.72L172.18,795.89L172.51,796.09L172.83,796.34L173.16,796.61L173.49,796.93L173.81,797.28L174.14,797.67L174.47,798.1L174.79,798.57L175.12,799.07L175.44,799.61L175.77,800.18L176.1,800.8L176.42,801.45L176.75,802.14L177.08,802.86L177.4,803.62L177.73,804.42L178.05,805.26L178.38,806.13L178.71,807.05L179.03,807.99L179.36,808.98L179.69,810L180.01,811.06L180.34,812.16L180.66,813.29L180.99,814.46L181.32,815.67L181.64,816.92L181.97,818.2L182.3,819.52L182.62,820.88L182.95,822.27L183.27,823.7L183.6,825.17L183.61,825.2L183.61,745.8L183.93,747.28L184.25,748.82L184.58,750.4L184.91,752.02L185.23,753.68L185.56,755.37L185.88,757.1L186.21,758.86L186.54,760.67L186.86,762.51L187.19,764.38L187.52,766.3L187.84,768.25L188.17,770.24L188.49,772.27L188.82,774.33L189.15,776.43L189.47,778.57L189.8,780.75L190.12,782.96L190.45,785.21L190.78,787.5L191.1,789.82L191.43,792.18L191.76,794.58L192.08,797.02L192.41,799.49L192.74,802L193.06,804.55L193.39,807.13L193.71,809.75L194.04,812.41L194.37,815.11L194.69,817.84L195.02,820.61L195.35,823.42L195.55,825.2L195.55,745.8L195.67,746.86L196,749.74L196.32,752.66L196.65,755.62L196.98,758.61L197.3,761.64L197.63,764.71L197.96,767.82L198.28,770.96L198.61,774.14L198.93,777.35L199.26,780.61L199.59,783.9L199.91,787.23L200.24,790.59L200.56,793.99L200.89,797.43L201.22,800.91L201.54,804.42L201.87,807.98L202.2,811.56L202.52,815.19L202.85,818.85L203.18,822.55L203.41,825.2L203.41,745.8L203.5,746.89L203.83,750.66L204.15,754.48L204.48,758.32L204.81,762.21L205.13,766.13L205.46,770.09L205.78,774.09L206.11,778.13L206.44,782.2L206.76,786.31L207.09,790.45L207.42,794.64L207.74,798.86L208.07,803.11L208.4,807.41L208.72,811.74L209.05,816.11L209.37,820.52L209.7,824.96" stroke-width="1.3" stroke-linejoin="round"/>
<g stroke-width="1.0"><circle cx="131.4" cy="824.96" r="1.6"/><circle cx="133.52" cy="796.8" r="1.6"/><circle cx="135.63" cy="770.2" r="1.6"/><circle cx="137.75" cy="824.57" r="1.6"/><circle cx="139.86" cy="801.1" r="1.6"/><circle cx="141.98" cy="779.2" r="1.6"/><circle cx="144.1" cy="758.86" r="1.6"/><circle cx="146.21" cy="819.48" r="1.6"/><circle cx="148.33" cy="802.27" r="1.6"/><circle cx="150.45" cy="786.63" r="1.6"/><circle cx="152.56" cy="772.54" r="1.6"/><circle cx="154.68" cy="760.03" r="1.6"/><circle cx="156.79" cy="749.08" r="1.6"/><circle cx="158.91" cy="819.09" r="1.6"/><circle cx="161.03" cy="811.27" r="1.6"/><circle cx="163.14" cy="805.01" r="1.6"/><circle cx="165.26" cy="800.31" r="1.6"/><circle cx="167.38" cy="797.19" r="1.6"/><circle cx="169.49" cy="795.62" r="1.6"/><circle cx="171.61" cy="795.62" r="1.6"/><circle cx="173.72" cy="797.19" r="1.6"/><circle cx="175.84" cy="800.31" r="1.6"/><circle cx="177.96" cy="805.01" r="1.6"/><circle cx="180.07" cy="811.27" r="1.6"/><circle cx="182.19" cy="819.09" r="1.6"/><circle cx="184.31" cy="749.08" r="1.6"/><circle cx="186.42" cy="760.03" r="1.6"/><circle cx="188.54" cy="772.54" r="1.6"/><circle cx="190.65" cy="786.63" r="1.6"/><circle cx="192.77" cy="802.27" r="1.6"/><circle cx="194.89" cy="819.48" r="1.6"/><circle cx="197" cy="758.86" r="1.6"/><circle cx="199.12" cy="779.2" r="1.6"/><circle cx="201.24" cy="801.1" r="1.6"/><circle cx="203.35" cy="824.57" r="1.6"/><circle cx="205.47" cy="770.2" r="1.6"/><circle cx="207.58" cy="796.8" r="1.6"/><circle cx="209.7" cy="824.96" r="1.6"/></g>
</g>
<rect x="131.4" y="745.8" width="78.3" height="79.4" fill="none" stroke="#2a2a2a" stroke-width="1.2"/>
<path d="M150.97,825.2v-1.6M150.97,745.8v1.6M170.55,825.2v-1.6M170.55,745.8v1.6M190.12,825.2v-1.6M190.12,745.8v1.6M131.4,785.5h1.6M209.7,785.5h-1.6" fill="none" stroke="#2a2a2a" stroke-width="0.9"/>
<text x="172.55" y="840.4" font-size="15" text-anchor="middle" fill="#222" font-family='"Liberation Serif", "DejaVu Serif", serif' font-style="italic">r</text>
<text x="170.15" y="857.6" font-size="14.3" text-anchor="middle" fill="#1a1a1a">450 nm</text>
<clipPath id="fc2"><rect x="223" y="744.2" width="81.5" height="82.6"/></clipPath>
<g clip-path="url(#fc2)" stroke="#1fd0c4" fill="none">
<path d="M224.6,804.14L224.93,800.14L225.25,796.18L225.58,792.24L225.91,788.35L226.23,784.48L226.56,780.65L226.88,776.85L227.21,773.08L227.54,769.35L227.86,765.66L228.19,761.99L228.51,758.36L228.84,754.76L229.17,751.2L229.49,747.67L229.67,745.8L229.67,825.2L229.82,823.57L230.15,820.11L230.47,816.68L230.8,813.28L231.12,809.91L231.45,806.59L231.78,803.29L232.1,800.03L232.43,796.8L232.76,793.6L233.08,790.44L233.41,787.31L233.74,784.21L234.06,781.15L234.39,778.12L234.71,775.13L235.04,772.16L235.37,769.24L235.69,766.34L236.02,763.48L236.34,760.65L236.67,757.86L237,755.1L237.32,752.37L237.65,749.67L237.98,747.01L238.13,745.8L238.13,825.2L238.3,823.79L238.63,821.19L238.95,818.63L239.28,816.11L239.61,813.61L239.93,811.15L240.26,808.73L240.59,806.33L240.91,803.97L241.24,801.65L241.56,799.36L241.89,797.1L242.22,794.87L242.54,792.68L242.87,790.52L243.2,788.4L243.52,786.3L243.85,784.25L244.18,782.22L244.5,780.23L244.83,778.27L245.15,776.35L245.48,774.46L245.81,772.6L246.13,770.77L246.46,768.98L246.78,767.23L247.11,765.5L247.44,763.81L247.76,762.16L248.09,760.53L248.42,758.94L248.74,757.39L249.07,755.87L249.4,754.38L249.72,752.92L250.05,751.5L250.37,750.11L250.7,748.75L251.03,747.43L251.35,746.14L251.44,745.8L251.44,825.2L251.68,824.29L252,823.07L252.33,821.88L252.66,820.72L252.98,819.6L253.31,818.52L253.64,817.46L253.96,816.44L254.29,815.45L254.62,814.5L254.94,813.58L255.27,812.69L255.59,811.84L255.92,811.02L256.25,810.23L256.57,809.48L256.9,808.76L257.23,808.07L257.55,807.42L257.88,806.8L258.2,806.22L258.53,805.66L258.86,805.15L259.18,804.66L259.51,804.21L259.83,803.79L260.16,803.4L260.49,803.05L260.81,802.74L261.14,802.45L261.47,802.2L261.79,801.98L262.12,801.8L262.44,801.65L262.77,801.53L263.1,801.45L263.42,801.4L263.75,801.38L264.08,801.4L264.4,801.45L264.73,801.53L265.06,801.65L265.38,801.8L265.71,801.98L266.03,802.2L266.36,802.45L266.69,802.74L267.01,803.05L267.34,803.4L267.67,803.79L267.99,804.21L268.32,804.66L268.64,805.15L268.97,805.66L269.3,806.22L269.62,806.8L269.95,807.42L270.27,808.07L270.6,808.76L270.93,809.48L271.25,810.23L271.58,811.02L271.91,811.84L272.23,812.69L272.56,813.58L272.88,814.5L273.21,815.45L273.54,816.44L273.86,817.46L274.19,818.52L274.52,819.6L274.84,820.72L275.17,821.88L275.5,823.07L275.82,824.29L276.06,825.2L276.06,745.8L276.15,746.14L276.47,747.43L276.8,748.75L277.13,750.11L277.45,751.5L277.78,752.92L278.11,754.38L278.43,755.87L278.76,757.39L279.08,758.94L279.41,760.53L279.74,762.16L280.06,763.81L280.39,765.5L280.72,767.23L281.04,768.98L281.37,770.77L281.69,772.6L282.02,774.46L282.35,776.35L282.67,778.27L283,780.23L283.32,782.22L283.65,784.25L283.98,786.3L284.3,788.4L284.63,790.52L284.96,792.68L285.28,794.87L285.61,797.1L285.94,799.36L286.26,801.65L286.59,803.97L286.91,806.33L287.24,808.73L287.57,811.15L287.89,813.61L288.22,816.11L288.55,818.63L288.87,821.19L289.2,823.79L289.37,825.2L289.37,745.8L289.52,747.01L289.85,749.67L290.18,752.37L290.5,755.1L290.83,757.86L291.15,760.65L291.48,763.48L291.81,766.34L292.13,769.24L292.46,772.16L292.79,775.13L293.11,778.12L293.44,781.15L293.76,784.21L294.09,787.31L294.42,790.44L294.74,793.6L295.07,796.8L295.4,800.03L295.72,803.29L296.05,806.59L296.38,809.91L296.7,813.28L297.03,816.68L297.35,820.11L297.68,823.57L297.83,825.2L297.83,745.8L298.01,747.67L298.33,751.2L298.66,754.76L298.99,758.36L299.31,761.99L299.64,765.66L299.96,769.35L300.29,773.08L300.62,776.85L300.94,780.65L301.27,784.48L301.59,788.35L301.92,792.24L302.25,796.18L302.57,800.14L302.9,804.14" stroke-width="1.3" stroke-linejoin="round"/>
<g stroke-width="1.0"><circle cx="224.6" cy="804.14" r="1.6"/><circle cx="226.72" cy="778.8" r="1.6"/><circle cx="228.83" cy="754.86" r="1.6"/><circle cx="230.95" cy="811.73" r="1.6"/><circle cx="233.06" cy="790.61" r="1.6"/><circle cx="235.18" cy="770.89" r="1.6"/><circle cx="237.3" cy="752.59" r="1.6"/><circle cx="239.41" cy="815.09" r="1.6"/><circle cx="241.53" cy="799.6" r="1.6"/><circle cx="243.65" cy="785.52" r="1.6"/><circle cx="245.76" cy="772.85" r="1.6"/><circle cx="247.88" cy="761.58" r="1.6"/><circle cx="249.99" cy="751.73" r="1.6"/><circle cx="252.11" cy="822.68" r="1.6"/><circle cx="254.23" cy="815.64" r="1.6"/><circle cx="256.34" cy="810" r="1.6"/><circle cx="258.46" cy="805.78" r="1.6"/><circle cx="260.58" cy="802.96" r="1.6"/><circle cx="262.69" cy="801.56" r="1.6"/><circle cx="264.81" cy="801.56" r="1.6"/><circle cx="266.92" cy="802.96" r="1.6"/><circle cx="269.04" cy="805.78" r="1.6"/><circle cx="271.16" cy="810" r="1.6"/><circle cx="273.27" cy="815.64" r="1.6"/><circle cx="275.39" cy="822.68" r="1.6"/><circle cx="277.51" cy="751.73" r="1.6"/><circle cx="279.62" cy="761.58" r="1.6"/><circle cx="281.74" cy="772.85" r="1.6"/><circle cx="283.85" cy="785.52" r="1.6"/><circle cx="285.97" cy="799.6" r="1.6"/><circle cx="288.09" cy="815.09" r="1.6"/><circle cx="290.2" cy="752.59" r="1.6"/><circle cx="292.32" cy="770.89" r="1.6"/><circle cx="294.44" cy="790.61" r="1.6"/><circle cx="296.55" cy="811.73" r="1.6"/><circle cx="298.67" cy="754.86" r="1.6"/><circle cx="300.78" cy="778.8" r="1.6"/><circle cx="302.9" cy="804.14" r="1.6"/></g>
</g>
<rect x="224.6" y="745.8" width="78.3" height="79.4" fill="none" stroke="#2a2a2a" stroke-width="1.2"/>
<path d="M244.17,825.2v-1.6M244.17,745.8v1.6M263.75,825.2v-1.6M263.75,745.8v1.6M283.32,825.2v-1.6M283.32,745.8v1.6M224.6,785.5h1.6M302.9,785.5h-1.6" fill="none" stroke="#2a2a2a" stroke-width="0.9"/>
<text x="265.75" y="840.4" font-size="15" text-anchor="middle" fill="#222" font-family='"Liberation Serif", "DejaVu Serif", serif' font-style="italic">r</text>
<text x="263.35" y="857.6" font-size="14.3" text-anchor="middle" fill="#1a1a1a">500 nm</text>
<clipPath id="fc3"><rect x="317.2" y="744.2" width="81.5" height="82.6"/></clipPath>
<g clip-path="url(#fc3)" stroke="#1ff01f" fill="none">
<path d="M318.8,786.21L319.13,782.57L319.45,778.97L319.78,775.39L320.11,771.85L320.43,768.33L320.76,764.85L321.08,761.4L321.41,757.97L321.74,754.58L322.06,751.22L322.39,747.89L322.59,745.8L322.59,825.2L322.71,823.99L323.04,820.72L323.37,817.48L323.69,814.27L324.02,811.09L324.35,807.94L324.67,804.82L325,801.73L325.32,798.67L325.65,795.65L325.98,792.65L326.3,789.68L326.63,786.75L326.96,783.84L327.28,780.97L327.61,778.12L327.94,775.31L328.26,772.52L328.59,769.77L328.91,767.05L329.24,764.35L329.57,761.69L329.89,759.06L330.22,756.46L330.54,753.89L330.87,751.35L331.2,748.84L331.52,746.36L331.6,745.8L331.6,825.2L331.85,823.31L332.18,820.89L332.5,818.5L332.83,816.14L333.15,813.82L333.48,811.52L333.81,809.25L334.13,807.02L334.46,804.81L334.79,802.64L335.11,800.49L335.44,798.38L335.76,796.29L336.09,794.24L336.42,792.21L336.74,790.22L337.07,788.26L337.4,786.33L337.72,784.43L338.05,782.55L338.38,780.71L338.7,778.9L339.03,777.12L339.35,775.37L339.68,773.66L340.01,771.97L340.33,770.31L340.66,768.68L340.99,767.08L341.31,765.52L341.64,763.98L341.96,762.47L342.29,761L342.62,759.55L342.94,758.14L343.27,756.75L343.59,755.4L343.92,754.08L344.25,752.78L344.57,751.52L344.9,750.29L345.23,749.09L345.55,747.92L345.88,746.78L346.16,745.8L346.16,825.2L346.2,825.07L346.53,823.99L346.86,822.94L347.18,821.92L347.51,820.93L347.84,819.97L348.16,819.04L348.49,818.14L348.81,817.28L349.14,816.44L349.47,815.63L349.79,814.86L350.12,814.11L350.45,813.4L350.77,812.71L351.1,812.06L351.43,811.43L351.75,810.84L352.08,810.28L352.4,809.75L352.73,809.24L353.06,808.77L353.38,808.33L353.71,807.92L354.03,807.54L354.36,807.19L354.69,806.87L355.01,806.58L355.34,806.32L355.67,806.1L355.99,805.9L356.32,805.73L356.64,805.59L356.97,805.49L357.3,805.41L357.62,805.37L357.95,805.35L358.28,805.37L358.6,805.41L358.93,805.49L359.25,805.59L359.58,805.73L359.91,805.9L360.23,806.1L360.56,806.32L360.89,806.58L361.21,806.87L361.54,807.19L361.87,807.54L362.19,807.92L362.52,808.33L362.84,808.77L363.17,809.24L363.5,809.75L363.82,810.28L364.15,810.84L364.47,811.43L364.8,812.06L365.13,812.71L365.45,813.4L365.78,814.11L366.11,814.86L366.43,815.63L366.76,816.44L367.08,817.28L367.41,818.14L367.74,819.04L368.06,819.97L368.39,820.93L368.72,821.92L369.04,822.94L369.37,823.99L369.69,825.07L369.74,825.2L369.74,745.8L370.02,746.78L370.35,747.92L370.67,749.09L371,750.29L371.33,751.52L371.65,752.78L371.98,754.08L372.31,755.4L372.63,756.75L372.96,758.14L373.28,759.55L373.61,761L373.94,762.47L374.26,763.98L374.59,765.52L374.91,767.08L375.24,768.68L375.57,770.31L375.89,771.97L376.22,773.66L376.55,775.37L376.87,777.12L377.2,778.9L377.52,780.71L377.85,782.55L378.18,784.43L378.5,786.33L378.83,788.26L379.16,790.22L379.48,792.21L379.81,794.24L380.13,796.29L380.46,798.38L380.79,800.49L381.11,802.64L381.44,804.81L381.77,807.02L382.09,809.25L382.42,811.52L382.75,813.82L383.07,816.14L383.4,818.5L383.72,820.89L384.05,823.31L384.3,825.2L384.3,745.8L384.38,746.36L384.7,748.84L385.03,751.35L385.35,753.89L385.68,756.46L386.01,759.06L386.33,761.69L386.66,764.35L386.99,767.05L387.31,769.77L387.64,772.52L387.96,775.31L388.29,778.12L388.62,780.97L388.94,783.84L389.27,786.75L389.6,789.68L389.92,792.65L390.25,795.65L390.57,798.67L390.9,801.73L391.23,804.82L391.55,807.94L391.88,811.09L392.21,814.27L392.53,817.48L392.86,820.72L393.19,823.99L393.31,825.2L393.31,745.8L393.51,747.89L393.84,751.22L394.16,754.58L394.49,757.97L394.82,761.4L395.14,764.85L395.47,768.33L395.79,771.85L396.12,775.39L396.45,778.97L396.77,782.57L397.1,786.21" stroke-width="1.3" stroke-linejoin="round"/>
<g stroke-width="1.0"><circle cx="318.8" cy="786.21" r="1.6"/><circle cx="320.92" cy="763.16" r="1.6"/><circle cx="323.03" cy="820.8" r="1.6"/><circle cx="325.15" cy="800.32" r="1.6"/><circle cx="327.26" cy="781.12" r="1.6"/><circle cx="329.38" cy="763.2" r="1.6"/><circle cx="331.5" cy="746.56" r="1.6"/><circle cx="333.61" cy="810.6" r="1.6"/><circle cx="335.73" cy="796.52" r="1.6"/><circle cx="337.85" cy="783.71" r="1.6"/><circle cx="339.96" cy="772.19" r="1.6"/><circle cx="342.08" cy="761.95" r="1.6"/><circle cx="344.19" cy="752.99" r="1.6"/><circle cx="346.31" cy="824.71" r="1.6"/><circle cx="348.43" cy="818.31" r="1.6"/><circle cx="350.54" cy="813.19" r="1.6"/><circle cx="352.66" cy="809.35" r="1.6"/><circle cx="354.78" cy="806.79" r="1.6"/><circle cx="356.89" cy="805.51" r="1.6"/><circle cx="359.01" cy="805.51" r="1.6"/><circle cx="361.12" cy="806.79" r="1.6"/><circle cx="363.24" cy="809.35" r="1.6"/><circle cx="365.36" cy="813.19" r="1.6"/><circle cx="367.47" cy="818.31" r="1.6"/><circle cx="369.59" cy="824.71" r="1.6"/><circle cx="371.71" cy="752.99" r="1.6"/><circle cx="373.82" cy="761.95" r="1.6"/><circle cx="375.94" cy="772.19" r="1.6"/><circle cx="378.05" cy="783.71" r="1.6"/><circle cx="380.17" cy="796.52" r="1.6"/><circle cx="382.29" cy="810.6" r="1.6"/><circle cx="384.4" cy="746.56" r="1.6"/><circle cx="386.52" cy="763.2" r="1.6"/><circle cx="388.64" cy="781.12" r="1.6"/><circle cx="390.75" cy="800.32" r="1.6"/><circle cx="392.87" cy="820.8" r="1.6"/><circle cx="394.98" cy="763.16" r="1.6"/><circle cx="397.1" cy="786.21" r="1.6"/></g>
</g>
<rect x="318.8" y="745.8" width="78.3" height="79.4" fill="none" stroke="#2a2a2a" stroke-width="1.2"/>
<path d="M338.38,825.2v-1.6M338.38,745.8v1.6M357.95,825.2v-1.6M357.95,745.8v1.6M377.52,825.2v-1.6M377.52,745.8v1.6M318.8,785.5h1.6M397.1,785.5h-1.6" fill="none" stroke="#2a2a2a" stroke-width="0.9"/>
<text x="359.95" y="840.4" font-size="15" text-anchor="middle" fill="#222" font-family='"Liberation Serif", "DejaVu Serif", serif' font-style="italic">r</text>
<text x="357.55" y="857.6" font-size="14.3" text-anchor="middle" fill="#1a1a1a">550 nm</text>
<clipPath id="fc4"><rect x="411" y="744.2" width="81.5" height="82.6"/></clipPath>
<g clip-path="url(#fc4)" stroke="#ffd319" fill="none">
<path d="M412.6,769.94L412.93,766.6L413.25,763.3L413.58,760.02L413.9,756.77L414.23,753.55L414.56,750.36L414.88,747.19L415.03,745.8L415.03,825.2L415.21,823.46L415.54,820.35L415.86,817.26L416.19,814.21L416.51,811.18L416.84,808.19L417.17,805.22L417.49,802.27L417.82,799.36L418.15,796.47L418.47,793.61L418.8,790.78L419.12,787.98L419.45,785.21L419.78,782.46L420.1,779.74L420.43,777.05L420.76,774.38L421.08,771.75L421.41,769.14L421.74,766.56L422.06,764.01L422.39,761.49L422.71,758.99L423.04,756.52L423.37,754.08L423.69,751.67L424.02,749.28L424.35,746.93L424.5,745.8L424.5,825.2L424.67,824L425,821.7L425.32,819.43L425.65,817.18L425.98,814.96L426.3,812.77L426.63,810.61L426.95,808.48L427.28,806.37L427.61,804.3L427.93,802.25L428.26,800.22L428.59,798.23L428.91,796.26L429.24,794.33L429.56,792.41L429.89,790.53L430.22,788.68L430.54,786.85L430.87,785.05L431.2,783.28L431.52,781.54L431.85,779.82L432.18,778.14L432.5,776.48L432.83,774.84L433.15,773.24L433.48,771.67L433.81,770.12L434.13,768.6L434.46,767.11L434.79,765.64L435.11,764.2L435.44,762.8L435.76,761.42L436.09,760.06L436.42,758.74L436.74,757.44L437.07,756.17L437.39,754.93L437.72,753.72L438.05,752.53L438.37,751.38L438.7,750.25L439.03,749.14L439.35,748.07L439.68,747.03L440,746.01L440.07,745.8L440.07,825.2L440.33,824.42L440.66,823.45L440.98,822.52L441.31,821.61L441.64,820.74L441.96,819.89L442.29,819.06L442.62,818.27L442.94,817.5L443.27,816.76L443.59,816.05L443.92,815.37L444.25,814.71L444.57,814.08L444.9,813.48L445.23,812.91L445.55,812.37L445.88,811.85L446.2,811.36L446.53,810.9L446.86,810.47L447.18,810.07L447.51,809.69L447.83,809.34L448.16,809.02L448.49,808.73L448.81,808.46L449.14,808.23L449.47,808.02L449.79,807.84L450.12,807.68L450.44,807.56L450.77,807.46L451.1,807.39L451.42,807.35L451.75,807.34L452.08,807.35L452.4,807.39L452.73,807.46L453.06,807.56L453.38,807.68L453.71,807.84L454.03,808.02L454.36,808.23L454.69,808.46L455.01,808.73L455.34,809.02L455.67,809.34L455.99,809.69L456.32,810.07L456.64,810.47L456.97,810.9L457.3,811.36L457.62,811.85L457.95,812.37L458.27,812.91L458.6,813.48L458.93,814.08L459.25,814.71L459.58,815.37L459.91,816.05L460.23,816.76L460.56,817.5L460.88,818.27L461.21,819.06L461.54,819.89L461.86,820.74L462.19,821.61L462.52,822.52L462.84,823.45L463.17,824.42L463.43,825.2L463.43,745.8L463.5,746.01L463.82,747.03L464.15,748.07L464.47,749.14L464.8,750.25L465.13,751.38L465.45,752.53L465.78,753.72L466.11,754.93L466.43,756.17L466.76,757.44L467.08,758.74L467.41,760.06L467.74,761.42L468.06,762.8L468.39,764.2L468.72,765.64L469.04,767.11L469.37,768.6L469.69,770.12L470.02,771.67L470.35,773.24L470.67,774.84L471,776.48L471.32,778.14L471.65,779.82L471.98,781.54L472.3,783.28L472.63,785.05L472.96,786.85L473.28,788.68L473.61,790.53L473.94,792.41L474.26,794.33L474.59,796.26L474.91,798.23L475.24,800.22L475.57,802.25L475.89,804.3L476.22,806.37L476.55,808.48L476.87,810.61L477.2,812.77L477.52,814.96L477.85,817.18L478.18,819.43L478.5,821.7L478.83,824L479,825.2L479,745.8L479.15,746.93L479.48,749.28L479.81,751.67L480.13,754.08L480.46,756.52L480.79,758.99L481.11,761.49L481.44,764.01L481.76,766.56L482.09,769.14L482.42,771.75L482.74,774.38L483.07,777.05L483.4,779.74L483.72,782.46L484.05,785.21L484.38,787.98L484.7,790.78L485.03,793.61L485.35,796.47L485.68,799.36L486.01,802.27L486.33,805.22L486.66,808.19L486.99,811.18L487.31,814.21L487.64,817.26L487.96,820.35L488.29,823.46L488.47,825.2L488.47,745.8L488.62,747.19L488.94,750.36L489.27,753.55L489.59,756.77L489.92,760.02L490.25,763.3L490.57,766.6L490.9,769.94" stroke-width="1.3" stroke-linejoin="round"/>
<g stroke-width="1.0"><circle cx="412.6" cy="769.94" r="1.6"/><circle cx="414.72" cy="748.82" r="1.6"/><circle cx="416.83" cy="808.27" r="1.6"/><circle cx="418.95" cy="789.49" r="1.6"/><circle cx="421.06" cy="771.89" r="1.6"/><circle cx="423.18" cy="755.46" r="1.6"/><circle cx="425.3" cy="819.61" r="1.6"/><circle cx="427.41" cy="805.53" r="1.6"/><circle cx="429.53" cy="792.62" r="1.6"/><circle cx="431.65" cy="780.89" r="1.6"/><circle cx="433.76" cy="770.32" r="1.6"/><circle cx="435.88" cy="760.94" r="1.6"/><circle cx="437.99" cy="752.72" r="1.6"/><circle cx="440.11" cy="825.08" r="1.6"/><circle cx="442.23" cy="819.22" r="1.6"/><circle cx="444.34" cy="814.52" r="1.6"/><circle cx="446.46" cy="811" r="1.6"/><circle cx="448.58" cy="808.66" r="1.6"/><circle cx="450.69" cy="807.48" r="1.6"/><circle cx="452.81" cy="807.48" r="1.6"/><circle cx="454.92" cy="808.66" r="1.6"/><circle cx="457.04" cy="811" r="1.6"/><circle cx="459.16" cy="814.52" r="1.6"/><circle cx="461.27" cy="819.22" r="1.6"/><circle cx="463.39" cy="825.08" r="1.6"/><circle cx="465.51" cy="752.72" r="1.6"/><circle cx="467.62" cy="760.94" r="1.6"/><circle cx="469.74" cy="770.32" r="1.6"/><circle cx="471.85" cy="780.89" r="1.6"/><circle cx="473.97" cy="792.62" r="1.6"/><circle cx="476.09" cy="805.53" r="1.6"/><circle cx="478.2" cy="819.61" r="1.6"/><circle cx="480.32" cy="755.46" r="1.6"/><circle cx="482.44" cy="771.89" r="1.6"/><circle cx="484.55" cy="789.49" r="1.6"/><circle cx="486.67" cy="808.27" r="1.6"/><circle cx="488.78" cy="748.82" r="1.6"/><circle cx="490.9" cy="769.94" r="1.6"/></g>
</g>
<rect x="412.6" y="745.8" width="78.3" height="79.4" fill="none" stroke="#2a2a2a" stroke-width="1.2"/>
<path d="M432.18,825.2v-1.6M432.18,745.8v1.6M451.75,825.2v-1.6M451.75,745.8v1.6M471.33,825.2v-1.6M471.33,745.8v1.6M412.6,785.5h1.6M490.9,785.5h-1.6" fill="none" stroke="#2a2a2a" stroke-width="0.9"/>
<text x="453.75" y="840.4" font-size="15" text-anchor="middle" fill="#222" font-family='"Liberation Serif", "DejaVu Serif", serif' font-style="italic">r</text>
<text x="451.35" y="857.6" font-size="14.3" text-anchor="middle" fill="#1a1a1a">600 nm</text>
<clipPath id="fc5"><rect x="504.7" y="744.2" width="81.5" height="82.6"/></clipPath>
<g clip-path="url(#fc5)" stroke="#ffa61a" fill="none">
<path d="M506.3,754.49L506.63,751.41L506.95,748.36L507.23,745.8L507.23,825.2L507.28,824.74L507.61,821.74L507.93,818.77L508.26,815.82L508.58,812.9L508.91,810L509.24,807.13L509.56,804.29L509.89,801.47L510.22,798.67L510.54,795.91L510.87,793.16L511.19,790.45L511.52,787.76L511.85,785.09L512.17,782.45L512.5,779.84L512.83,777.25L513.15,774.69L513.48,772.16L513.8,769.65L514.13,767.16L514.46,764.7L514.78,762.27L515.11,759.86L515.44,757.48L515.76,755.13L516.09,752.8L516.41,750.49L516.74,748.22L517.07,745.96L517.09,745.8L517.09,825.2L517.39,823.14L517.72,820.93L518.05,818.76L518.37,816.61L518.7,814.49L519.02,812.39L519.35,810.32L519.68,808.27L520,806.25L520.33,804.25L520.66,802.28L520.98,800.34L521.31,798.42L521.63,796.53L521.96,794.66L522.29,792.82L522.61,791.01L522.94,789.22L523.27,787.45L523.59,785.72L523.92,784.01L524.24,782.32L524.57,780.66L524.9,779.02L525.22,777.41L525.55,775.83L525.88,774.27L526.2,772.74L526.53,771.24L526.85,769.76L527.18,768.3L527.51,766.87L527.83,765.47L528.16,764.09L528.49,762.74L528.81,761.41L529.14,760.11L529.46,758.84L529.79,757.59L530.12,756.37L530.44,755.17L530.77,754L531.1,752.86L531.42,751.74L531.75,750.64L532.07,749.57L532.4,748.53L532.73,747.51L533.05,746.52L533.3,745.8L533.3,825.2L533.38,824.96L533.71,824.02L534.03,823.1L534.36,822.21L534.68,821.35L535.01,820.52L535.34,819.7L535.66,818.92L535.99,818.16L536.32,817.43L536.64,816.72L536.97,816.04L537.29,815.38L537.62,814.75L537.95,814.14L538.27,813.57L538.6,813.01L538.93,812.48L539.25,811.98L539.58,811.51L539.9,811.05L540.23,810.63L540.56,810.23L540.88,809.86L541.21,809.51L541.54,809.19L541.86,808.89L542.19,808.62L542.51,808.38L542.84,808.16L543.17,807.97L543.49,807.8L543.82,807.66L544.15,807.54L544.47,807.45L544.8,807.39L545.12,807.35L545.45,807.34L545.78,807.35L546.1,807.39L546.43,807.45L546.75,807.54L547.08,807.66L547.41,807.8L547.73,807.97L548.06,808.16L548.39,808.38L548.71,808.62L549.04,808.89L549.37,809.19L549.69,809.51L550.02,809.86L550.34,810.23L550.67,810.63L551,811.05L551.32,811.51L551.65,811.98L551.98,812.48L552.3,813.01L552.63,813.57L552.95,814.14L553.28,814.75L553.61,815.38L553.93,816.04L554.26,816.72L554.59,817.43L554.91,818.16L555.24,818.92L555.56,819.7L555.89,820.52L556.22,821.35L556.54,822.21L556.87,823.1L557.2,824.02L557.52,824.96L557.6,825.2L557.6,745.8L557.85,746.52L558.17,747.51L558.5,748.53L558.83,749.57L559.15,750.64L559.48,751.74L559.81,752.86L560.13,754L560.46,755.17L560.78,756.37L561.11,757.59L561.44,758.84L561.76,760.11L562.09,761.41L562.42,762.74L562.74,764.09L563.07,765.47L563.39,766.87L563.72,768.3L564.05,769.76L564.37,771.24L564.7,772.74L565.03,774.27L565.35,775.83L565.68,777.41L566,779.02L566.33,780.66L566.66,782.32L566.98,784.01L567.31,785.72L567.63,787.45L567.96,789.22L568.29,791.01L568.61,792.82L568.94,794.66L569.27,796.53L569.59,798.42L569.92,800.34L570.25,802.28L570.57,804.25L570.9,806.25L571.22,808.27L571.55,810.32L571.88,812.39L572.2,814.49L572.53,816.61L572.86,818.76L573.18,820.93L573.51,823.14L573.81,825.2L573.81,745.8L573.83,745.96L574.16,748.22L574.49,750.49L574.81,752.8L575.14,755.13L575.47,757.48L575.79,759.86L576.12,762.27L576.44,764.7L576.77,767.16L577.1,769.65L577.42,772.16L577.75,774.69L578.08,777.25L578.4,779.84L578.73,782.45L579.05,785.09L579.38,787.76L579.71,790.45L580.03,793.16L580.36,795.91L580.69,798.67L581.01,801.47L581.34,804.29L581.66,807.13L581.99,810L582.32,812.9L582.64,815.82L582.97,818.77L583.3,821.74L583.62,824.74L583.67,825.2L583.67,745.8L583.95,748.36L584.27,751.41L584.6,754.49" stroke-width="1.3" stroke-linejoin="round"/>
<g stroke-width="1.0"><circle cx="506.3" cy="754.49" r="1.6"/><circle cx="508.42" cy="814.39" r="1.6"/><circle cx="510.53" cy="795.98" r="1.6"/><circle cx="512.65" cy="778.65" r="1.6"/><circle cx="514.76" cy="762.4" r="1.6"/><circle cx="516.88" cy="747.24" r="1.6"/><circle cx="519" cy="812.56" r="1.6"/><circle cx="521.11" cy="799.56" r="1.6"/><circle cx="523.23" cy="787.64" r="1.6"/><circle cx="525.35" cy="776.81" r="1.6"/><circle cx="527.46" cy="767.06" r="1.6"/><circle cx="529.58" cy="758.4" r="1.6"/><circle cx="531.69" cy="750.82" r="1.6"/><circle cx="533.81" cy="823.72" r="1.6"/><circle cx="535.93" cy="818.3" r="1.6"/><circle cx="538.04" cy="813.97" r="1.6"/><circle cx="540.16" cy="810.72" r="1.6"/><circle cx="542.28" cy="808.55" r="1.6"/><circle cx="544.39" cy="807.47" r="1.6"/><circle cx="546.51" cy="807.47" r="1.6"/><circle cx="548.62" cy="808.55" r="1.6"/><circle cx="550.74" cy="810.72" r="1.6"/><circle cx="552.86" cy="813.97" r="1.6"/><circle cx="554.97" cy="818.3" r="1.6"/><circle cx="557.09" cy="823.72" r="1.6"/><circle cx="559.21" cy="750.82" r="1.6"/><circle cx="561.32" cy="758.4" r="1.6"/><circle cx="563.44" cy="767.06" r="1.6"/><circle cx="565.55" cy="776.81" r="1.6"/><circle cx="567.67" cy="787.64" r="1.6"/><circle cx="569.79" cy="799.56" r="1.6"/><circle cx="571.9" cy="812.56" r="1.6"/><circle cx="574.02" cy="747.24" r="1.6"/><circle cx="576.14" cy="762.4" r="1.6"/><circle cx="578.25" cy="778.65" r="1.6"/><circle cx="580.37" cy="795.98" r="1.6"/><circle cx="582.48" cy="814.39" r="1.6"/><circle cx="584.6" cy="754.49" r="1.6"/></g>
</g>
<rect x="506.3" y="745.8" width="78.3" height="79.4" fill="none" stroke="#2a2a2a" stroke-width="1.2"/>
<path d="M525.88,825.2v-1.6M525.88,745.8v1.6M545.45,825.2v-1.6M545.45,745.8v1.6M565.02,825.2v-1.6M565.02,745.8v1.6M506.3,785.5h1.6M584.6,785.5h-1.6" fill="none" stroke="#2a2a2a" stroke-width="0.9"/>
<text x="547.45" y="840.4" font-size="15" text-anchor="middle" fill="#222" font-family='"Liberation Serif", "DejaVu Serif", serif' font-style="italic">r</text>
<text x="545.05" y="857.6" font-size="14.3" text-anchor="middle" fill="#1a1a1a">650 nm</text>
<clipPath id="fc6"><rect x="599.2" y="744.2" width="81.5" height="82.6"/></clipPath>
<g clip-path="url(#fc6)" stroke="#d8101c" fill="none">
<path d="M600.8,816.68L601.13,813.82L601.45,810.99L601.78,808.18L602.1,805.4L602.43,802.64L602.76,799.9L603.08,797.19L603.41,794.5L603.74,791.83L604.06,789.19L604.39,786.57L604.71,783.98L605.04,781.41L605.37,778.86L605.69,776.34L606.02,773.84L606.35,771.37L606.67,768.92L607,766.49L607.32,764.09L607.65,761.71L607.98,759.36L608.3,757.03L608.63,754.72L608.96,752.44L609.28,750.18L609.61,747.94L609.92,745.8L609.92,825.2L609.93,825.13L610.26,822.94L610.59,820.78L610.91,818.64L611.24,816.53L611.57,814.43L611.89,812.37L612.22,810.32L612.54,808.3L612.87,806.31L613.2,804.33L613.52,802.39L613.85,800.46L614.18,798.56L614.5,796.68L614.83,794.83L615.15,793L615.48,791.2L615.81,789.42L616.13,787.66L616.46,785.93L616.79,784.22L617.11,782.53L617.44,780.87L617.76,779.23L618.09,777.62L618.42,776.03L618.74,774.46L619.07,772.92L619.4,771.4L619.72,769.91L620.05,768.44L620.37,766.99L620.7,765.57L621.03,764.17L621.35,762.8L621.68,761.45L622.01,760.12L622.33,758.82L622.66,757.54L622.98,756.28L623.31,755.05L623.64,753.85L623.96,752.66L624.29,751.5L624.62,750.37L624.94,749.26L625.27,748.17L625.59,747.11L625.92,746.07L626.01,745.8L626.01,825.2L626.25,824.45L626.57,823.46L626.9,822.49L627.23,821.54L627.55,820.62L627.88,819.73L628.2,818.86L628.53,818.01L628.86,817.18L629.18,816.38L629.51,815.6L629.84,814.85L630.16,814.12L630.49,813.42L630.81,812.74L631.14,812.08L631.47,811.44L631.79,810.84L632.12,810.25L632.45,809.69L632.77,809.15L633.1,808.64L633.42,808.15L633.75,807.68L634.08,807.24L634.4,806.82L634.73,806.42L635.06,806.05L635.38,805.71L635.71,805.38L636.03,805.09L636.36,804.81L636.69,804.56L637.01,804.33L637.34,804.13L637.67,803.95L637.99,803.8L638.32,803.66L638.64,803.56L638.97,803.47L639.3,803.41L639.62,803.38L639.95,803.37L640.28,803.38L640.6,803.41L640.93,803.47L641.25,803.56L641.58,803.66L641.91,803.8L642.23,803.95L642.56,804.13L642.89,804.33L643.21,804.56L643.54,804.81L643.86,805.09L644.19,805.38L644.52,805.71L644.84,806.05L645.17,806.42L645.5,806.82L645.82,807.24L646.15,807.68L646.47,808.15L646.8,808.64L647.13,809.15L647.45,809.69L647.78,810.25L648.11,810.84L648.43,811.44L648.76,812.08L649.08,812.74L649.41,813.42L649.74,814.12L650.06,814.85L650.39,815.6L650.72,816.38L651.04,817.18L651.37,818.01L651.69,818.86L652.02,819.73L652.35,820.62L652.67,821.54L653,822.49L653.33,823.46L653.65,824.45L653.89,825.2L653.89,745.8L653.98,746.07L654.3,747.11L654.63,748.17L654.96,749.26L655.28,750.37L655.61,751.5L655.94,752.66L656.26,753.85L656.59,755.05L656.91,756.28L657.24,757.54L657.57,758.82L657.89,760.12L658.22,761.45L658.55,762.8L658.87,764.17L659.2,765.57L659.52,766.99L659.85,768.44L660.18,769.91L660.5,771.4L660.83,772.92L661.16,774.46L661.48,776.03L661.81,777.62L662.13,779.23L662.46,780.87L662.79,782.53L663.11,784.22L663.44,785.93L663.77,787.66L664.09,789.42L664.42,791.2L664.74,793L665.07,794.83L665.4,796.68L665.72,798.56L666.05,800.46L666.38,802.39L666.7,804.33L667.03,806.31L667.35,808.3L667.68,810.32L668.01,812.37L668.33,814.43L668.66,816.53L668.99,818.64L669.31,820.78L669.64,822.94L669.96,825.13L669.98,825.2L669.98,745.8L670.29,747.94L670.62,750.18L670.94,752.44L671.27,754.72L671.6,757.03L671.92,759.36L672.25,761.71L672.57,764.09L672.9,766.49L673.23,768.92L673.55,771.37L673.88,773.84L674.21,776.34L674.53,778.86L674.86,781.41L675.18,783.98L675.51,786.57L675.84,789.19L676.16,791.83L676.49,794.5L676.82,797.19L677.14,799.9L677.47,802.64L677.79,805.4L678.12,808.18L678.45,810.99L678.77,813.82L679.1,816.68" stroke-width="1.3" stroke-linejoin="round"/>
<g stroke-width="1.0"><circle cx="600.8" cy="816.68" r="1.6"/><circle cx="602.92" cy="798.58" r="1.6"/><circle cx="605.03" cy="781.48" r="1.6"/><circle cx="607.15" cy="765.39" r="1.6"/><circle cx="609.26" cy="750.3" r="1.6"/><circle cx="611.38" cy="815.62" r="1.6"/><circle cx="613.5" cy="802.54" r="1.6"/><circle cx="615.61" cy="790.47" r="1.6"/><circle cx="617.73" cy="779.41" r="1.6"/><circle cx="619.85" cy="769.35" r="1.6"/><circle cx="621.96" cy="760.3" r="1.6"/><circle cx="624.08" cy="752.25" r="1.6"/><circle cx="626.19" cy="824.61" r="1.6"/><circle cx="628.31" cy="818.58" r="1.6"/><circle cx="630.43" cy="813.55" r="1.6"/><circle cx="632.54" cy="809.53" r="1.6"/><circle cx="634.66" cy="806.51" r="1.6"/><circle cx="636.78" cy="804.5" r="1.6"/><circle cx="638.89" cy="803.49" r="1.6"/><circle cx="641.01" cy="803.49" r="1.6"/><circle cx="643.12" cy="804.5" r="1.6"/><circle cx="645.24" cy="806.51" r="1.6"/><circle cx="647.36" cy="809.53" r="1.6"/><circle cx="649.47" cy="813.55" r="1.6"/><circle cx="651.59" cy="818.58" r="1.6"/><circle cx="653.71" cy="824.61" r="1.6"/><circle cx="655.82" cy="752.25" r="1.6"/><circle cx="657.94" cy="760.3" r="1.6"/><circle cx="660.05" cy="769.35" r="1.6"/><circle cx="662.17" cy="779.41" r="1.6"/><circle cx="664.29" cy="790.47" r="1.6"/><circle cx="666.4" cy="802.54" r="1.6"/><circle cx="668.52" cy="815.62" r="1.6"/><circle cx="670.64" cy="750.3" r="1.6"/><circle cx="672.75" cy="765.39" r="1.6"/><circle cx="674.87" cy="781.48" r="1.6"/><circle cx="676.98" cy="798.58" r="1.6"/><circle cx="679.1" cy="816.68" r="1.6"/></g>
</g>
<rect x="600.8" y="745.8" width="78.3" height="79.4" fill="none" stroke="#2a2a2a" stroke-width="1.2"/>
<path d="M620.38,825.2v-1.6M620.38,745.8v1.6M639.95,825.2v-1.6M639.95,745.8v1.6M659.52,825.2v-1.6M659.52,745.8v1.6M600.8,785.5h1.6M679.1,785.5h-1.6" fill="none" stroke="#2a2a2a" stroke-width="0.9"/>
<text x="641.95" y="840.4" font-size="15" text-anchor="middle" fill="#222" font-family='"Liberation Serif", "DejaVu Serif", serif' font-style="italic">r</text>
<text x="639.55" y="857.6" font-size="14.3" text-anchor="middle" fill="#1a1a1a">700 nm</text>
<text x="34.3" y="829.1" font-size="14.7" text-anchor="end" fill="#262626">0</text>
<text x="34.3" y="789.4" font-size="14.7" text-anchor="end" fill="#262626">1</text>
<text x="34.3" y="749.7" font-size="14.7" text-anchor="end" fill="#262626">2</text>
<text x="22.0" y="783.3" font-size="14.6" text-anchor="middle" fill="#262626" transform="rotate(-90 22.0 783.3)">Phase (<tspan font-size="12.6">π</tspan>)</text>
<line x1="503.8" y1="731.8" x2="527.6" y2="731.8" stroke="#111" stroke-width="1.1"/>
<text x="535.3" y="736.9" font-size="14.1" fill="#111">Required</text>
<circle cx="607.2" cy="731.8" r="1.5" fill="none" stroke="#111" stroke-width="0.8"/>
<text x="618.8" y="736.9" font-size="14.1" fill="#111">Achieved</text>
<text transform="translate(0.5 737.2) scale(0.95 1.038)" font-size="28.9" font-weight="bold">F</text>
</g>
</svg>
</body>
</html>
